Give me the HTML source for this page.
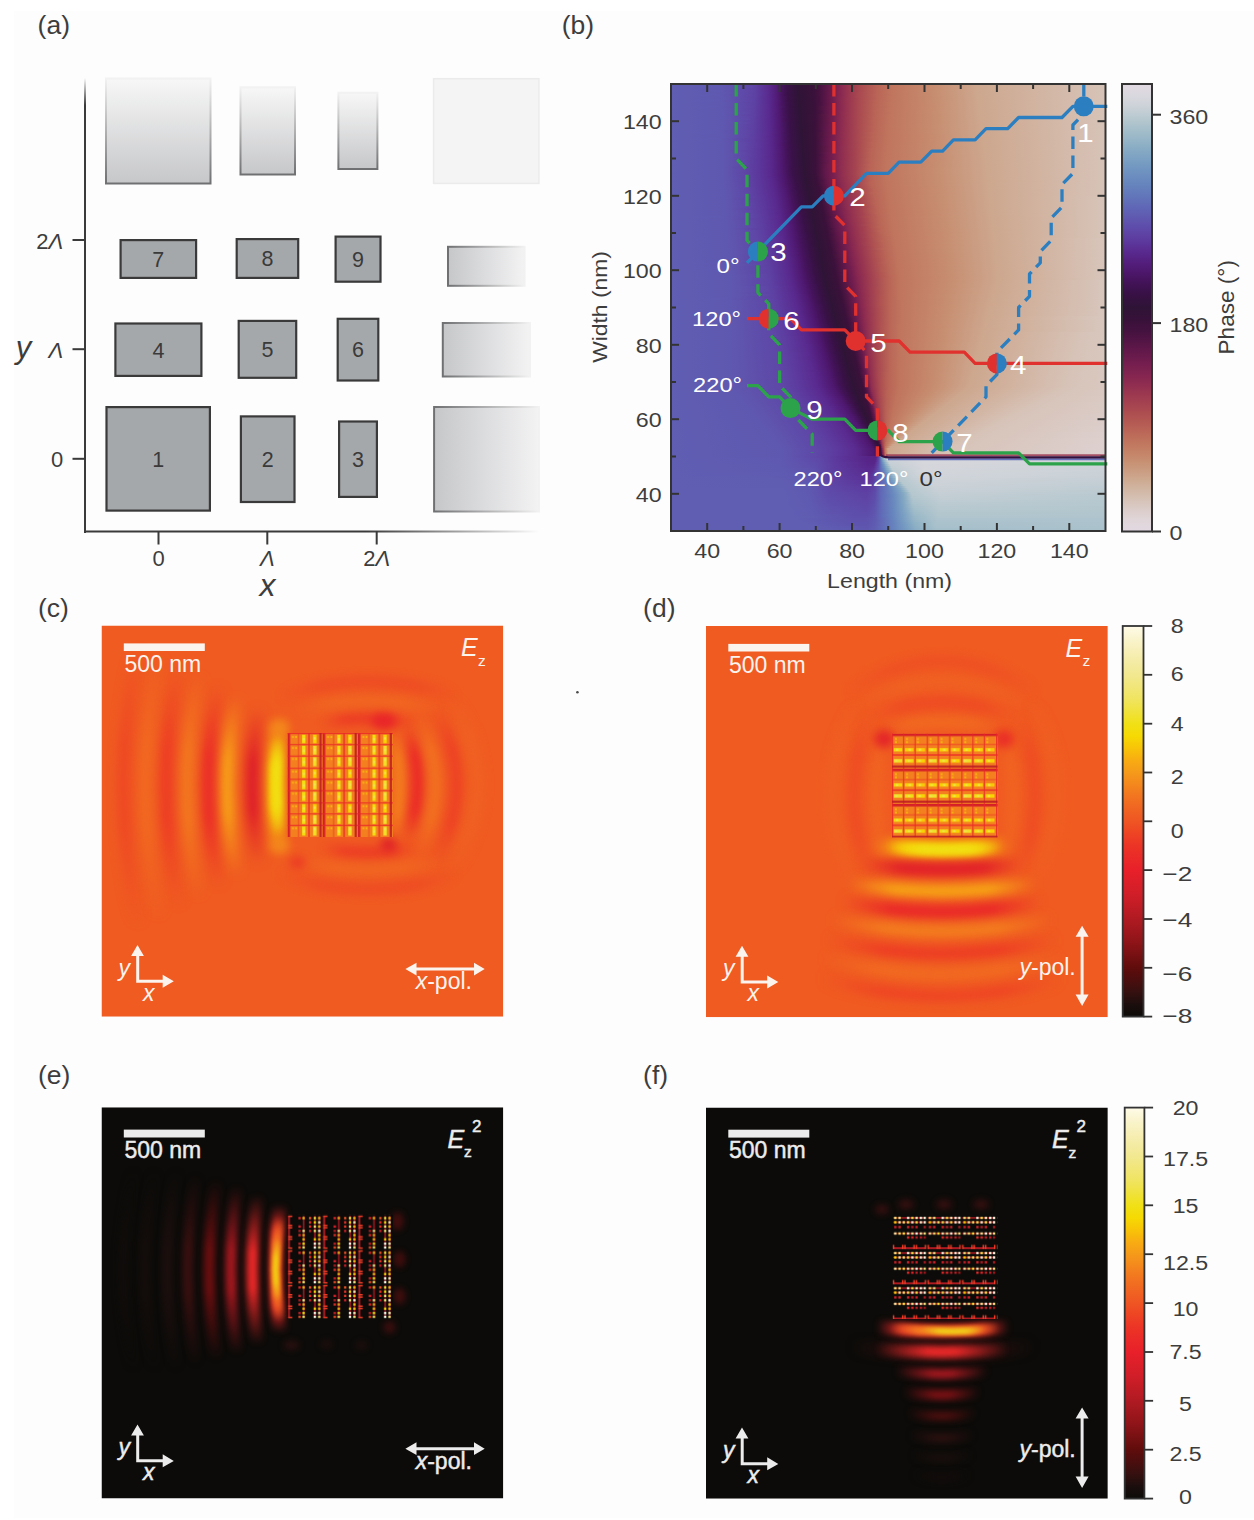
<!DOCTYPE html>
<html><head><meta charset="utf-8"><style>
html,body{margin:0;padding:0;background:#ffffff;}
svg{display:block;position:absolute;left:0;top:0;}
#pg{position:relative;width:1254px;height:1520px;overflow:hidden;background:#fff;}
#bgi{position:absolute;left:14px;top:11px;right:0;bottom:2.5px;background:#fdfdfd;}
#hm{position:absolute;left:671.0px;top:84.0px;width:434.5px;height:447.0px;overflow:hidden;}
#hm i{display:block;height:2px;}
text{font-family:"Liberation Sans",sans-serif;}
</style></head><body><div id="pg"><div id="bgi"></div>
<div id="hm"><i style="background:linear-gradient(90deg,#5f5eb3 0.0%,#5f59b1 11.1%,#5e43a5 19.2%,#5a2b90 22.3%,#531d7a 24.0%,#4c176b 24.9%,#481563 25.2%,#3a1148 26.7%,#2f1436 29.1%,#3a113a 33.0%,#461240 34.2%,#691a4d 36.8%,#8e2c50 39.5%,#983550 40.7%,#a84750 43.0%,#b96356 47.2%,#c0755e 50.9%,#c78c6f 60.2%,#cda78e 70.2%,#d7c3b8 100.0%)"></i><i style="background:linear-gradient(90deg,#5f5eb3 0.0%,#5f59b1 11.1%,#5e46a6 18.8%,#5a2b90 22.3%,#531d7a 24.0%,#4c1669 25.0%,#471461 25.3%,#3b114a 26.5%,#2f1436 29.1%,#3a113a 33.0%,#461240 34.2%,#681a4d 36.7%,#8d2b50 39.4%,#993650 40.8%,#a94950 43.3%,#b96456 47.4%,#c0755e 50.8%,#c78c6f 60.2%,#cda78e 70.3%,#d7c3b8 100.0%)"></i><i style="background:linear-gradient(90deg,#5f5eb3 0.0%,#5f58b0 12.0%,#5d42a4 19.3%,#5a2b90 22.3%,#531d7a 24.0%,#4b1668 25.1%,#47145f 25.4%,#3d114e 26.2%,#381145 27.0%,#2f1436 29.2%,#3a113a 33.0%,#461240 34.2%,#711d4f 37.3%,#8c2a50 39.3%,#9e3b50 41.5%,#a74650 42.8%,#b96356 47.1%,#c0755e 50.8%,#c89073 61.7%,#cda78e 70.3%,#d7c3b8 100.0%)"></i><i style="background:linear-gradient(90deg,#5f5eb3 0.0%,#5f59b1 11.1%,#5e43a5 19.1%,#5a2b90 22.3%,#4e186f 24.8%,#46145e 25.5%,#3a1148 26.8%,#2f1436 29.2%,#3a113a 33.0%,#461240 34.2%,#701c4e 37.2%,#8b2a50 39.2%,#9f3c50 41.6%,#ac4d51 44.0%,#b96456 47.3%,#c0755e 50.7%,#c78e71 60.7%,#cda78e 70.4%,#d7c3b8 100.0%)"></i><i style="background:linear-gradient(90deg,#5f5eb3 0.0%,#5f58b0 12.0%,#5d42a4 19.2%,#5a2d92 22.2%,#4f1972 24.6%,#481563 25.3%,#3a1149 26.7%,#2f1436 29.3%,#3a113a 33.0%,#4e1443 34.8%,#6f1c4e 37.1%,#8a2950 39.1%,#9f3c50 41.6%,#aa4a50 43.4%,#ba6557 47.5%,#c0755e 50.7%,#c78e71 60.7%,#cda78e 70.4%,#d7c3b8 100.0%)"></i><i style="background:linear-gradient(90deg,#5f5eb3 0.0%,#5f59b1 11.1%,#5e43a5 19.0%,#5b3095 21.7%,#58278b 22.8%,#511a75 24.4%,#471461 25.4%,#3e1150 26.2%,#381145 27.1%,#2f1436 29.3%,#3a113a 33.0%,#4e1443 34.8%,#6d1b4e 37.0%,#872750 38.9%,#9b3850 41.0%,#a94850 43.1%,#b96356 47.0%,#c0765f 51.1%,#c78e71 60.7%,#cda78e 70.5%,#d7c3b8 100.0%)"></i><i style="background:linear-gradient(90deg,#5f5eb3 0.0%,#5f58b0 12.0%,#5d41a3 19.3%,#59288d 22.7%,#511b77 24.3%,#47145f 25.5%,#3a1148 26.9%,#2f1436 29.3%,#39113a 32.9%,#44123f 34.1%,#6b1b4d 36.8%,#852650 38.6%,#973450 40.5%,#a74650 42.8%,#b96456 47.2%,#c0755e 50.6%,#c68b6e 59.8%,#cda78e 70.5%,#d7c3b8 100.0%)"></i><i style="background:linear-gradient(90deg,#5f5eb3 0.0%,#5f58b0 12.0%,#5d42a4 19.1%,#59298e 22.6%,#521c79 24.2%,#46145e 25.6%,#3a1149 26.8%,#2f1436 29.4%,#39113a 32.9%,#44123f 34.1%,#691a4d 36.7%,#8e2c50 39.4%,#9c3950 41.1%,#ac4c50 43.8%,#ba6557 47.4%,#c0755e 50.6%,#c78f72 61.3%,#cda78e 70.6%,#d7c3b8 100.0%)"></i><i style="background:linear-gradient(90deg,#5f5eb3 0.0%,#5f59b1 11.1%,#5e43a5 18.9%,#592a8f 22.5%,#4e186f 24.9%,#481563 25.4%,#3e1150 26.4%,#381145 27.2%,#2f1436 29.4%,#39113a 32.9%,#44123f 34.1%,#681a4d 36.6%,#8d2b50 39.3%,#983550 40.6%,#a74650 42.8%,#b96356 46.9%,#c0765f 51.0%,#c78f72 61.3%,#cda78e 70.7%,#d7c3b8 100.0%)"></i><i style="background:linear-gradient(90deg,#5f5eb3 0.0%,#5f58b0 12.0%,#5d41a3 19.2%,#592a8f 22.5%,#4f1972 24.7%,#471461 25.5%,#3a1148 27.0%,#2f1436 29.4%,#3a113a 33.1%,#4b1342 34.6%,#721d4f 37.3%,#8c2a50 39.2%,#9d3a50 41.2%,#a94950 43.2%,#b96456 47.1%,#c0755e 50.5%,#c89073 61.8%,#cda78e 70.7%,#d7c3b8 100.0%)"></i><i style="background:linear-gradient(90deg,#5f5eb3 0.0%,#5f58b0 12.0%,#5d42a4 19.0%,#5a2b90 22.4%,#511a75 24.5%,#47145f 25.6%,#3a1149 26.9%,#2f1436 29.5%,#3a113a 33.1%,#4b1342 34.6%,#701c4e 37.1%,#8a2950 39.0%,#993650 40.7%,#a84750 42.9%,#b96356 46.8%,#c0755e 50.5%,#c78c6f 60.3%,#cda78e 70.8%,#d7c3b8 100.0%)"></i><i style="background:linear-gradient(90deg,#5f5eb3 0.0%,#5f59b1 11.1%,#5e43a5 18.8%,#5a2b90 22.4%,#511b77 24.4%,#3b114a 26.9%,#351140 27.9%,#2f1436 29.5%,#3a113a 33.1%,#6f1c4e 37.0%,#882850 38.9%,#993650 40.7%,#a84750 42.9%,#b96456 47.0%,#c0765f 50.9%,#c78c6f 60.3%,#cda78e 70.8%,#d7c3b8 100.0%)"></i><i style="background:linear-gradient(90deg,#5f5eb3 0.0%,#5f58b0 12.0%,#5d41a3 19.1%,#5a2b90 22.4%,#531d7a 24.2%,#45135c 25.8%,#3a1148 27.1%,#2f1436 29.6%,#3a113a 33.1%,#6d1b4e 36.9%,#872750 38.8%,#9a3750 40.8%,#ac4c50 43.6%,#ba6557 47.2%,#c0755e 50.4%,#c78c6f 60.3%,#cda78e 70.9%,#d7c3b8 100.0%)"></i><i style="background:linear-gradient(90deg,#5f5eb3 0.0%,#5f58b0 12.0%,#5d42a4 18.9%,#5a2b90 22.4%,#4e186f 25.0%,#471461 25.6%,#3a1149 27.0%,#2f1436 29.6%,#3a113a 33.1%,#4a1342 34.5%,#6b1b4d 36.7%,#852650 38.5%,#922f50 39.8%,#a64550 42.6%,#b96356 46.7%,#c0755e 50.4%,#c78e71 60.8%,#cda78e 70.9%,#d7c3b8 100.0%)"></i><i style="background:linear-gradient(90deg,#5f5eb3 0.0%,#5f58b0 12.0%,#5e47a7 17.8%,#5d3ea1 19.4%,#5a2b90 22.4%,#4f1972 24.8%,#47145f 25.7%,#3f1251 26.5%,#381145 27.4%,#2f1436 29.6%,#3a113a 33.0%,#43123e 34.0%,#691a4d 36.6%,#8e2c50 39.3%,#973450 40.4%,#a94850 43.0%,#b96456 46.9%,#c0765f 50.8%,#c78e71 60.8%,#cda78e 71.0%,#d7c3b8 100.0%)"></i><i style="background:linear-gradient(90deg,#5f5eb3 0.0%,#5f58b0 12.0%,#5d40a2 19.2%,#5a2b90 22.4%,#501a74 24.7%,#46145e 25.8%,#3a1148 27.2%,#2f1436 29.7%,#3c113b 33.3%,#741e4f 37.3%,#8e2c50 39.3%,#a03d50 41.6%,#b05351 44.5%,#ba6557 47.1%,#c0755e 50.3%,#c78f72 61.4%,#cda78e 71.0%,#d7c3b8 100.0%)"></i><i style="background:linear-gradient(90deg,#5f5eb3 0.0%,#5f58b0 12.0%,#5e43a5 18.5%,#5a2b90 22.4%,#511a75 24.6%,#3a1149 27.1%,#2f1436 29.7%,#3c113b 33.3%,#721d4f 37.2%,#8c2a50 39.1%,#983550 40.5%,#a74650 42.7%,#b96356 46.6%,#c0755e 50.3%,#c78f72 61.4%,#cda78e 71.1%,#d7c3b8 100.0%)"></i><i style="background:linear-gradient(90deg,#5f5eb3 0.0%,#5f58b0 12.0%,#5e47a7 17.7%,#5d3ea1 19.3%,#59288d 22.8%,#4d176d 25.2%,#471461 25.7%,#3f1251 26.6%,#381145 27.5%,#2f1436 29.7%,#3c113b 33.3%,#701c4e 37.0%,#8a2950 38.9%,#983550 40.5%,#ab4b50 43.4%,#b96456 46.8%,#c0755e 50.2%,#c78f72 61.4%,#cda78e 71.1%,#d7c3b8 100.0%)"></i><i style="background:linear-gradient(90deg,#5f5eb3 0.0%,#5f58b0 12.0%,#5d40a2 19.1%,#59288d 22.8%,#4e186f 25.1%,#47145f 25.8%,#3a1148 27.3%,#2f1436 29.8%,#3c113b 33.3%,#6f1c4e 36.9%,#882850 38.8%,#993650 40.6%,#a94950 43.1%,#b96356 46.5%,#c0755e 50.2%,#c78f72 61.4%,#cda78e 71.2%,#d7c3b8 100.0%)"></i><i style="background:linear-gradient(90deg,#5f5eb3 0.0%,#5f58b0 12.0%,#5e47a7 17.6%,#5d40a2 19.0%,#59298e 22.7%,#4f1972 24.9%,#3a1149 27.2%,#2f1436 29.8%,#3a113a 33.1%,#6d1b4e 36.8%,#872750 38.6%,#953250 40.1%,#a94950 43.1%,#b96456 46.7%,#c0755e 50.2%,#c78f72 61.4%,#cda78e 71.2%,#d7c3b8 100.0%)"></i><i style="background:linear-gradient(90deg,#5f5eb3 0.0%,#5f58b0 12.0%,#5d40a2 19.0%,#59298e 22.7%,#501a74 24.8%,#3b114a 27.1%,#2f1436 29.9%,#3a113a 33.1%,#6b1b4d 36.6%,#852650 38.4%,#953250 40.1%,#ac4c50 43.5%,#ba6557 46.9%,#c0755e 50.1%,#c78e71 60.8%,#cda78e 71.4%,#d7c3b8 100.0%)"></i><i style="background:linear-gradient(90deg,#5f5eb3 0.0%,#5f58b0 12.0%,#5d40a2 19.0%,#592a8f 22.6%,#511a75 24.7%,#3a1149 27.3%,#2f1436 29.9%,#3a113a 33.1%,#63184b 35.9%,#751e4f 37.3%,#8e2c50 39.2%,#963350 40.2%,#a84750 42.8%,#b96356 46.4%,#c0755e 50.1%,#c78e71 60.8%,#cda78e 71.4%,#d7c3b8 100.0%)"></i><i style="background:linear-gradient(90deg,#5f5eb3 0.0%,#5f58b0 12.0%,#5d40a2 18.9%,#592a8f 22.6%,#4d176d 25.3%,#3a1149 27.3%,#2f1436 29.9%,#3a113a 33.1%,#61184b 35.8%,#741e4f 37.2%,#8d2b50 39.1%,#963350 40.2%,#aa4a50 43.2%,#b96456 46.6%,#c0755e 50.1%,#c6896c 58.9%,#cda78e 71.5%,#d7c3b8 100.0%)"></i><i style="background:linear-gradient(90deg,#5f5eb3 0.0%,#5f59b1 11.1%,#5e47a7 17.4%,#5d40a2 18.9%,#592a8f 22.6%,#4e186f 25.2%,#3b114a 27.2%,#2f1436 30.0%,#3a113a 33.1%,#481341 34.3%,#60184a 35.7%,#721d4f 37.1%,#8c2a50 39.0%,#973450 40.3%,#af5251 44.2%,#ba6557 46.8%,#c0755e 50.0%,#c78e71 60.9%,#cda78e 71.6%,#d7c3b8 100.0%)"></i><i style="background:linear-gradient(90deg,#5f5eb3 0.0%,#5f59b1 11.1%,#5e47a7 17.4%,#5d40a2 18.9%,#5a2b90 22.5%,#4f1970 25.1%,#44135a 26.2%,#3a1148 27.5%,#2f1436 30.0%,#3a113a 33.1%,#701c4e 36.9%,#902e50 39.4%,#a54450 42.4%,#b96356 46.2%,#c0755e 50.0%,#c78e71 60.9%,#cda78e 71.6%,#d7c3b8 100.0%)"></i><i style="background:linear-gradient(90deg,#5f5eb3 0.0%,#5f58b0 11.9%,#5e47a7 17.3%,#5d3da1 19.3%,#5a2b90 22.5%,#4f1972 25.0%,#3a1149 27.4%,#2f1436 30.0%,#3a113a 33.1%,#6f1c4e 36.8%,#882850 38.6%,#943150 39.9%,#a94850 42.9%,#b96456 46.5%,#c0755e 50.0%,#c78c6f 60.4%,#cda78e 71.7%,#d7c3b8 100.0%)"></i><i style="background:linear-gradient(90deg,#5f5eb3 0.0%,#5f58b0 11.9%,#5e47a7 17.3%,#5d3a9e 19.9%,#58278b 23.0%,#501a74 24.9%,#47145f 26.0%,#3b114a 27.3%,#2f1436 30.1%,#3a113a 33.2%,#6d1b4e 36.7%,#912f50 39.5%,#a94850 42.9%,#b96356 46.1%,#c0755e 49.9%,#c78c6f 60.4%,#cda78e 71.7%,#d7c3b8 100.0%)"></i><i style="background:linear-gradient(90deg,#5f5eb3 0.0%,#5f59b1 11.1%,#5d40a2 18.8%,#5a2b90 22.5%,#4d176d 25.4%,#45135c 26.2%,#3a1148 27.6%,#2f1436 30.1%,#3a113a 33.2%,#63184b 35.8%,#761f4f 37.3%,#8a2950 38.8%,#993650 40.5%,#a94950 43.0%,#b96456 46.4%,#c0755e 49.9%,#c78c6f 60.4%,#cda78e 71.8%,#d7c3b8 100.0%)"></i><i style="background:linear-gradient(90deg,#5f5eb3 0.0%,#5f58b0 11.9%,#5d3ea1 19.0%,#59288d 22.9%,#4e186f 25.3%,#3a1149 27.5%,#2f1436 30.1%,#3a113a 33.2%,#63184b 35.8%,#751e4f 37.2%,#8e2c50 39.1%,#993650 40.5%,#af5251 44.1%,#ba6557 46.6%,#c0755e 49.9%,#c78c6f 60.4%,#cda78e 71.8%,#d7c3b8 100.0%)"></i><i style="background:linear-gradient(90deg,#5f5eb3 0.0%,#5f58b0 11.9%,#5e48a8 16.8%,#5d3ca0 19.4%,#5a2b90 22.5%,#521c79 24.6%,#481563 25.9%,#3b114a 27.4%,#2f1436 30.2%,#3a113a 33.2%,#61184b 35.7%,#741e4f 37.1%,#8d2b50 39.0%,#963350 40.1%,#ac4d51 43.6%,#b96356 46.0%,#c0755e 49.8%,#c68b6e 59.9%,#cda78e 71.9%,#d7c3b8 100.0%)"></i><i style="background:linear-gradient(90deg,#5f5eb3 0.0%,#5f58b0 11.9%,#5e47a7 17.1%,#5d3b9f 19.6%,#59288d 22.9%,#4f1972 25.1%,#47145f 26.1%,#3a1148 27.7%,#2f1436 30.2%,#3a113a 33.2%,#61184b 35.7%,#721d4f 37.0%,#8c2a50 38.9%,#933050 39.7%,#aa4a50 43.1%,#b96456 46.2%,#c0755e 49.8%,#c89073 62.1%,#cda78e 71.9%,#d7c3b8 100.0%)"></i><i style="background:linear-gradient(90deg,#5f5eb3 0.0%,#5f58b0 11.9%,#5e48a8 16.7%,#5d3a9e 19.8%,#59298e 22.8%,#4d176d 25.5%,#45135c 26.4%,#3a1149 27.6%,#2f1436 30.3%,#3a113a 33.2%,#701c4e 36.8%,#902e50 39.3%,#ae5051 43.8%,#ba6557 46.5%,#c0755e 49.7%,#c78f72 61.6%,#cda78e 72.0%,#d7c3b8 100.0%)"></i><i style="background:linear-gradient(90deg,#5f5eb3 0.0%,#5f58b0 11.9%,#5e47a7 17.0%,#5c389d 20.0%,#59298e 22.8%,#4e186f 25.4%,#431359 26.6%,#3b114a 27.5%,#2f1436 30.3%,#3a113a 33.2%,#6f1c4e 36.7%,#902e50 39.3%,#a74650 42.7%,#b96356 45.9%,#c0755e 49.7%,#c78f72 61.6%,#cda78e 72.0%,#d7c3b8 100.0%)"></i><i style="background:linear-gradient(90deg,#5f5eb3 0.0%,#5f58b0 11.9%,#5d3ca0 19.3%,#59298e 22.8%,#4e186f 25.4%,#411256 26.8%,#3a1148 27.8%,#2f1436 30.3%,#3a113a 33.2%,#6d1b4e 36.6%,#912f50 39.4%,#ac4c50 43.4%,#b96456 46.1%,#c0755e 49.7%,#c78e71 61.0%,#cda78e 72.1%,#d7c3b8 100.0%)"></i><i style="background:linear-gradient(90deg,#5f5eb3 0.0%,#5f58b0 11.9%,#5e46a6 17.2%,#5c379c 20.2%,#592a8f 22.7%,#4f1970 25.3%,#47145f 26.2%,#3a1149 27.7%,#2f1436 30.4%,#3a113a 33.2%,#64194b 35.8%,#781f4f 37.3%,#852650 38.2%,#953250 39.9%,#a84750 42.8%,#b96356 45.8%,#c0755e 49.6%,#c78e71 61.0%,#cda78e 72.1%,#d7c3b8 100.0%)"></i><i style="background:linear-gradient(90deg,#5f5eb3 0.0%,#5f58b0 11.9%,#5e47a7 16.9%,#5d3a9e 19.7%,#592a8f 22.7%,#4f1972 25.2%,#45135c 26.5%,#3b114a 27.6%,#2f1436 30.4%,#3a113a 33.2%,#4a1342 34.4%,#63184b 35.7%,#751e4f 37.1%,#922f50 39.5%,#a54350 42.3%,#b96456 46.0%,#c0755e 49.6%,#c78c6f 60.5%,#cda78e 72.2%,#d7c3b8 100.0%)"></i><i style="background:linear-gradient(90deg,#5f5eb3 0.0%,#5f58b0 11.9%,#5e48a8 16.5%,#5d3a9e 19.7%,#58278b 23.1%,#4d176d 25.6%,#421257 26.8%,#3a1148 27.9%,#2f1436 30.4%,#3a113a 33.2%,#5d1749 35.4%,#741e4f 37.0%,#922f50 39.5%,#a94950 43.0%,#b96456 46.0%,#c0755e 49.6%,#c78c6f 60.5%,#cda78e 72.2%,#d7c3b8 100.0%)"></i><i style="background:linear-gradient(90deg,#5f5eb3 0.0%,#5f58b0 11.9%,#5e47a7 16.8%,#5c389d 19.9%,#592a8f 22.7%,#4e186f 25.5%,#471461 26.2%,#3a1149 27.8%,#2f1436 30.5%,#3b113b 33.3%,#61184b 35.6%,#721d4f 36.9%,#922f50 39.5%,#a54450 42.4%,#b96356 45.7%,#c0755e 49.5%,#c78c6f 60.5%,#cda78e 72.3%,#d7c3b8 100.0%)"></i><i style="background:linear-gradient(90deg,#5f5eb3 0.0%,#5f58b0 11.9%,#5e47a7 16.7%,#5c389d 19.9%,#5a2b90 22.6%,#4f1970 25.4%,#47145f 26.4%,#3b114a 27.7%,#2f1436 30.5%,#3b113b 33.3%,#5c1749 35.3%,#701c4e 36.7%,#902e50 39.2%,#a54450 42.4%,#b96456 45.9%,#c0755e 49.5%,#c78c6f 60.5%,#cda78e 72.4%,#d7c3b8 100.0%)"></i><i style="background:linear-gradient(90deg,#5f5eb3 0.0%,#5f58b0 11.9%,#5e46a6 17.0%,#5c379c 20.1%,#59288d 23.0%,#4f1970 25.4%,#44135a 26.7%,#3a1148 28.0%,#2f1436 30.6%,#3b113b 33.3%,#6f1c4e 36.6%,#902e50 39.2%,#a54450 42.4%,#ba6557 46.1%,#c0755e 49.5%,#c78f72 61.7%,#cda78e 72.4%,#d7c3b8 100.0%)"></i><i style="background:linear-gradient(90deg,#5f5eb3 0.0%,#5f58b0 11.9%,#5e47a7 16.7%,#5c379c 20.1%,#59288d 23.0%,#4f1972 25.3%,#47145f 26.5%,#3a1149 27.9%,#2f1436 30.6%,#3b113b 33.3%,#64194b 35.7%,#792050 37.3%,#862750 38.2%,#943150 39.7%,#a64550 42.5%,#b96356 45.6%,#c0755e 49.4%,#c68b6e 60.0%,#cda78e 72.5%,#d7c3b8 100.0%)"></i><i style="background:linear-gradient(90deg,#5f5eb3 0.0%,#5f58b0 11.9%,#5d3a9e 19.6%,#5a2b90 22.6%,#501a74 25.2%,#45135c 26.7%,#3b114a 27.8%,#2f1436 30.6%,#3b113b 33.3%,#64194b 35.7%,#781f4f 37.2%,#912f50 39.3%,#a64550 42.5%,#b96456 45.8%,#c0755e 49.4%,#c68b6e 60.0%,#cda78e 72.5%,#d7c3b8 100.0%)"></i><i style="background:linear-gradient(90deg,#5f5eb3 0.0%,#5f58b0 11.9%,#5e43a5 17.5%,#5c369b 20.3%,#59288d 23.0%,#4e186f 25.6%,#47145f 26.5%,#3c114b 27.7%,#2f1436 30.7%,#3b113b 33.3%,#63184b 35.6%,#751e4f 37.0%,#8e2c50 38.9%,#a64550 42.5%,#b96356 45.5%,#c0755e 49.4%,#c78e71 61.1%,#cda78e 72.6%,#d7c3b8 100.0%)"></i><i style="background:linear-gradient(90deg,#5f5eb3 0.0%,#5f58b0 11.9%,#5e45a6 17.1%,#5c369b 20.3%,#59298e 22.9%,#4f1970 25.5%,#44135a 26.8%,#3a1149 28.0%,#2f1436 30.7%,#3b113b 33.3%,#63184b 35.6%,#741e4f 36.9%,#922f50 39.4%,#a64550 42.5%,#b96456 45.7%,#c0755e 49.3%,#c78e71 61.1%,#cda78e 72.6%,#d7c3b8 100.0%)"></i><i style="background:linear-gradient(90deg,#5f5eb3 0.0%,#5f58b0 11.9%,#5e43a5 17.4%,#5c359a 20.5%,#59298e 22.9%,#4f1970 25.5%,#47145f 26.6%,#3b114a 27.9%,#2f1436 30.7%,#3b113b 33.3%,#61184b 35.5%,#721d4f 36.8%,#922f50 39.4%,#a74650 42.6%,#b96456 45.7%,#c0755e 49.3%,#c78e71 61.1%,#cda78e 72.7%,#d7c3b8 100.0%)"></i><i style="background:linear-gradient(90deg,#5f5eb3 0.0%,#5f58b0 11.9%,#5e43a5 17.5%,#5c359a 20.6%,#5a2b90 22.7%,#572588 23.5%,#4e186f 25.7%,#431359 27.0%,#3a1149 28.1%,#2f1436 30.8%,#3a113a 33.3%,#65194c 35.8%,#7a2050 37.4%,#902e50 39.2%,#a54450 42.4%,#b96356 45.5%,#c0755e 49.3%,#c78f72 61.8%,#cda78e 72.7%,#d7c3b8 100.0%)"></i><i style="background:linear-gradient(90deg,#5f5eb3 0.0%,#5f58b0 12.0%,#5e43a5 17.6%,#5c369b 20.4%,#58278b 23.3%,#4e186f 25.8%,#45135c 26.9%,#3a1149 28.2%,#2f1436 30.9%,#3a113a 33.4%,#64194b 35.8%,#792050 37.4%,#912f50 39.4%,#a54450 42.5%,#b96456 45.8%,#c0755e 49.4%,#c78e71 61.3%,#cda78e 72.8%,#d7c3b8 100.0%)"></i><i style="background:linear-gradient(90deg,#5f5eb3 0.0%,#5f58b0 12.0%,#5e45a6 17.3%,#5c369b 20.5%,#592a8f 23.0%,#4d176d 26.0%,#47145f 26.8%,#3a1149 28.3%,#2f1436 31.0%,#3a113a 33.5%,#64194b 35.9%,#781f4f 37.4%,#912f50 39.5%,#a64550 42.7%,#b96456 45.9%,#c0755e 49.5%,#c78f72 61.9%,#cda78e 72.8%,#d7c3b8 100.0%)"></i><i style="background:linear-gradient(90deg,#5f5eb3 0.0%,#5f58b0 12.0%,#5e46a6 17.1%,#5c369b 20.6%,#59298e 23.2%,#4d176d 26.1%,#47145f 26.9%,#3a1148 28.5%,#2f1436 31.1%,#3a113a 33.5%,#4e1443 34.9%,#64194b 36.0%,#761f4f 37.4%,#8e2c50 39.2%,#953250 40.1%,#a74650 42.9%,#ba6557 46.2%,#c0755e 49.5%,#c78e71 61.4%,#cda68c 72.2%,#d7c3b8 100.0%)"></i><i style="background:linear-gradient(90deg,#5f5eb3 0.0%,#5f58b0 12.1%,#5e46a6 17.2%,#5c369b 20.7%,#59298e 23.3%,#4f1970 25.9%,#47145f 27.0%,#3a1148 28.6%,#2f1436 31.1%,#3a113a 33.6%,#64194b 36.1%,#751e4f 37.4%,#922f50 39.8%,#a54350 42.6%,#b96356 45.8%,#c0755e 49.6%,#c78f72 62.0%,#cda78e 72.9%,#d7c3b8 100.0%)"></i><i style="background:linear-gradient(90deg,#5f5eb3 0.0%,#5f58b0 12.1%,#5e46a6 17.3%,#5c359a 21.0%,#59288d 23.5%,#4f1970 26.0%,#47145f 27.1%,#3a1148 28.7%,#2f1436 31.2%,#3a113a 33.8%,#63184b 36.1%,#751e4f 37.5%,#922f50 39.9%,#a54450 42.8%,#b96356 45.9%,#c0755e 49.6%,#c78e71 61.5%,#cda78e 72.9%,#d7c3b8 100.0%)"></i><i style="background:linear-gradient(90deg,#5f5eb3 0.0%,#5f58b0 12.1%,#5e47a7 17.1%,#5c379c 20.6%,#59288d 23.6%,#4e186f 26.2%,#47145f 27.2%,#391146 29.0%,#2f1436 31.4%,#3b113b 34.0%,#63184b 36.2%,#741e4f 37.5%,#8b2a50 39.2%,#933050 40.1%,#a64550 43.0%,#b96456 46.2%,#c0755e 49.7%,#c68b6e 60.4%,#cda78e 73.0%,#d7c3b8 100.0%)"></i><i style="background:linear-gradient(90deg,#5f5eb3 0.0%,#5f58b0 12.2%,#5e47a7 17.2%,#5c379c 20.7%,#592a8f 23.4%,#4e186f 26.4%,#47145f 27.3%,#3b114a 28.6%,#2f1436 31.5%,#3b113b 34.1%,#63184b 36.4%,#721d4f 37.5%,#902e50 39.8%,#a64550 43.1%,#ba6557 46.6%,#c0755e 49.8%,#c78c6f 61.0%,#cda78e 73.0%,#d7c3b8 100.0%)"></i><i style="background:linear-gradient(90deg,#5f5eb3 0.0%,#5f58b0 12.2%,#5e47a7 17.3%,#5d3a9e 20.3%,#592a8f 23.5%,#4d176d 26.6%,#411256 27.9%,#361142 29.7%,#2f1436 31.6%,#3b113b 34.2%,#63184b 36.5%,#711d4f 37.5%,#902e50 39.9%,#a54350 42.9%,#ba6557 46.7%,#c0755e 49.8%,#c78e71 61.7%,#cda78e 73.1%,#d7c3b8 100.0%)"></i><i style="background:linear-gradient(90deg,#5f5eb3 0.0%,#5f58b0 12.2%,#5e47a7 17.4%,#5c369b 21.1%,#59298e 23.8%,#4d176d 26.7%,#46145e 27.5%,#381145 29.4%,#2f1436 31.7%,#3a113a 34.2%,#61184b 36.5%,#701c4e 37.5%,#912f50 40.1%,#a54350 43.0%,#b96356 46.2%,#c0755e 49.9%,#c78c6f 61.1%,#cda78e 73.1%,#d7c3b8 100.0%)"></i><i style="background:linear-gradient(90deg,#5f5eb3 0.0%,#5f58b0 12.3%,#5e47a7 17.5%,#5c369b 21.2%,#59288d 24.0%,#4d176d 26.8%,#47145f 27.5%,#3b114a 29.0%,#2f1436 31.7%,#3a113a 34.3%,#61184b 36.6%,#701c4e 37.6%,#912f50 40.2%,#a54450 43.2%,#b96456 46.6%,#c0755e 50.0%,#c78e71 61.8%,#cda78e 73.2%,#d7c3b8 100.0%)"></i><i style="background:linear-gradient(90deg,#5f5eb3 0.0%,#5f58b0 12.3%,#5e43a5 18.5%,#5c369b 21.4%,#59288d 24.1%,#4f1970 26.6%,#47145f 27.6%,#3a1149 29.2%,#2f1436 31.8%,#3a113a 34.4%,#61184b 36.7%,#792050 38.3%,#922f50 40.4%,#a64550 43.4%,#b96456 46.7%,#c0755e 50.0%,#c78f72 62.4%,#cda78e 73.2%,#d7c4b9 100.0%)"></i><i style="background:linear-gradient(90deg,#5f5eb3 0.0%,#5f58b0 12.3%,#5d3b9f 20.4%,#592a8f 23.9%,#4f1970 26.7%,#44135a 28.0%,#3a1149 29.3%,#2f1436 31.9%,#3a113a 34.4%,#471340 35.3%,#65194c 37.0%,#781f4f 38.3%,#8d2b50 39.9%,#963350 41.0%,#a74650 43.6%,#ba6557 47.0%,#c0755e 50.1%,#c78e71 61.9%,#cda78e 73.3%,#d7c4b9 100.0%)"></i><i style="background:linear-gradient(90deg,#5f5eb3 0.0%,#5f58b0 12.4%,#5e48a8 17.4%,#5c379c 21.2%,#592a8f 24.0%,#4e186f 26.9%,#47145f 27.8%,#3a1149 29.4%,#2f1436 32.0%,#3a113a 34.5%,#4a1342 35.6%,#64194b 37.0%,#761f4f 38.3%,#933050 40.7%,#a54350 43.3%,#b35953 45.5%,#ba6657 47.3%,#c0755e 50.1%,#c78f72 62.5%,#cda78e 73.3%,#d7c4b9 100.0%)"></i><i style="background:linear-gradient(90deg,#5f5eb3 0.0%,#5f58b0 12.4%,#5e47a7 17.8%,#5c379c 21.4%,#59298e 24.2%,#4e186f 27.0%,#47145f 27.9%,#3a1148 29.6%,#2f1436 32.1%,#3a113a 34.6%,#64194b 37.1%,#761f4f 38.4%,#8f2d50 40.3%,#a54350 43.4%,#b96356 46.7%,#c0755e 50.2%,#c78e71 62.0%,#cda78e 73.4%,#d7c4b9 100.0%)"></i><i style="background:linear-gradient(90deg,#5f5eb3 0.0%,#5f58b0 12.4%,#5e47a7 17.9%,#5c379c 21.5%,#59298e 24.3%,#4d176d 27.2%,#47145f 28.0%,#3a1148 29.7%,#2f1436 32.2%,#3b113b 34.8%,#64194b 37.2%,#751e4f 38.4%,#902e50 40.5%,#a54450 43.6%,#b96456 47.0%,#c0755e 50.3%,#c78f72 62.6%,#cda78e 73.4%,#d7c4b9 100.0%)"></i><i style="background:linear-gradient(90deg,#5f5eb3 0.0%,#5f58b0 12.5%,#5e47a7 18.0%,#5d3a9e 21.0%,#5a2b90 24.1%,#4f1972 26.9%,#45135c 28.3%,#3a1148 29.8%,#2f1436 32.2%,#3b113b 34.9%,#64194b 37.3%,#741e4f 38.4%,#902e50 40.6%,#a64550 43.9%,#ba6557 47.3%,#c0755e 50.3%,#c78e71 62.1%,#cda78e 73.5%,#d7c4b9 100.0%)"></i><i style="background:linear-gradient(90deg,#5f5eb3 0.0%,#5f58b0 12.5%,#5d3ca0 20.6%,#59288d 24.6%,#4f1970 27.1%,#431359 28.5%,#391146 30.0%,#2f1436 32.3%,#3b113b 35.0%,#63184b 37.3%,#721d4f 38.4%,#912f50 40.8%,#a44250 43.5%,#b15552 45.5%,#ba6657 47.6%,#c0755e 50.4%,#c68b6e 61.0%,#cda78e 73.5%,#d7c4b9 100.0%)"></i><i style="background:linear-gradient(90deg,#5f5eb3 0.0%,#5f58b0 12.5%,#5e47a7 18.2%,#5c389d 21.5%,#592a8f 24.4%,#4f1970 27.2%,#47145f 28.2%,#391146 30.1%,#2f1436 32.4%,#3a113a 35.0%,#63184b 37.4%,#721d4f 38.5%,#872750 40.0%,#963350 41.6%,#a54350 43.8%,#b35953 45.9%,#bb6857 47.9%,#c0755e 50.5%,#c78c6f 61.7%,#cda78e 73.5%,#d7c4b9 100.0%)"></i><i style="background:linear-gradient(90deg,#5f5eb3 0.0%,#5f58b0 12.6%,#5e47a7 18.3%,#5c389d 21.6%,#58278b 24.9%,#4e186f 27.4%,#47145f 28.3%,#3b114a 29.8%,#2f1436 32.5%,#3a113a 35.1%,#63184b 37.5%,#711d4f 38.5%,#862750 40.0%,#922f50 41.1%,#a54450 44.0%,#b96356 47.1%,#c0755e 50.5%,#c68b6e 61.1%,#cda78e 73.6%,#d7c4b9 100.0%)"></i><i style="background:linear-gradient(90deg,#5f5eb3 0.0%,#5f58b0 12.6%,#5e46a6 18.8%,#5d3b9f 21.1%,#59298e 24.7%,#4e186f 27.5%,#44135a 28.7%,#381145 30.4%,#2f1436 32.6%,#3a113a 35.2%,#701c4e 38.5%,#852650 40.0%,#933050 41.4%,#a64550 44.2%,#ba6557 47.6%,#c0755e 50.6%,#c78c6f 61.8%,#cda78e 73.6%,#d7c4b9 100.0%)"></i><i style="background:linear-gradient(90deg,#5f5eb3 0.0%,#5f59b1 11.9%,#5e46a6 18.9%,#5d3da1 20.7%,#5a2b90 24.5%,#4f1972 27.3%,#45135c 28.7%,#371144 30.6%,#2f1436 32.7%,#3a113a 35.2%,#4f1444 36.7%,#61184b 37.6%,#792050 39.3%,#8d2b50 40.7%,#9c3950 42.6%,#b05351 45.6%,#ba6657 47.9%,#c0755e 50.6%,#c78e71 62.4%,#cda78e 73.8%,#d7c4b9 100.0%)"></i><i style="background:linear-gradient(90deg,#5f5eb3 0.0%,#5f58b0 12.7%,#5d3da1 20.8%,#59288d 25.0%,#4d176d 27.8%,#431359 29.1%,#3a1149 30.2%,#2f1436 32.7%,#3a113a 35.3%,#61184b 37.7%,#781f4f 39.3%,#8c2a50 40.7%,#983550 42.2%,#a94850 44.7%,#b25652 46.0%,#bb6857 48.2%,#c0755e 50.7%,#c78c6f 61.9%,#cda78e 73.8%,#d7c4b9 100.0%)"></i><i style="background:linear-gradient(90deg,#5f5eb3 0.0%,#5f58b0 12.7%,#5e47a7 18.6%,#5d3a9e 21.7%,#592a8f 24.8%,#4f1970 27.6%,#44135a 29.1%,#3a1149 30.3%,#2f1436 32.8%,#3a113a 35.4%,#61184b 37.8%,#761f4f 39.3%,#8b2a50 40.7%,#993650 42.4%,#a54350 44.2%,#b45a53 46.5%,#bb6857 48.3%,#c0755e 50.8%,#c78e71 62.5%,#cda78e 73.9%,#d7c4b9 100.0%)"></i><i style="background:linear-gradient(90deg,#5f5eb3 0.0%,#5f58b0 12.7%,#5e47a7 18.8%,#5d3ca0 21.2%,#592a8f 24.9%,#511a75 27.3%,#481563 28.5%,#3a1149 30.4%,#2f1436 32.9%,#3b113b 35.6%,#65194c 38.1%,#761f4f 39.4%,#912f50 41.5%,#a54450 44.4%,#b96456 47.7%,#c0755e 50.8%,#c78f72 63.1%,#cda78e 73.9%,#d7c4b9 100.0%)"></i><i style="background:linear-gradient(90deg,#5f5eb3 0.0%,#5f58b0 12.8%,#5e47a7 18.9%,#5d3ca0 21.4%,#59298e 25.1%,#4e186f 27.9%,#46145e 29.0%,#3a1148 30.6%,#2f1436 33.0%,#3b113b 35.7%,#60184a 37.9%,#751e4f 39.4%,#882850 40.7%,#963350 42.2%,#af5151 45.7%,#ba6657 48.2%,#c0755e 50.9%,#c78e71 62.6%,#cda78e 74.0%,#d7c4b9 100.0%)"></i><i style="background:linear-gradient(90deg,#5f5eb3 0.0%,#5f58b0 12.8%,#5e47a7 19.0%,#5c389d 22.2%,#59298e 25.2%,#4e186f 28.0%,#47145f 29.0%,#3a1148 30.7%,#2f1436 33.1%,#3b113b 35.8%,#64194b 38.2%,#741e4f 39.4%,#922f50 41.8%,#a74650 44.8%,#b15452 46.1%,#b86255 47.5%,#bb6857 48.5%,#c0755e 51.0%,#c78f72 63.2%,#cda78e 74.0%,#d7c4b9 100.0%)"></i><i style="background:linear-gradient(90deg,#5f5eb3 0.0%,#5f58b0 12.8%,#5d3ea1 21.0%,#5a2b90 25.0%,#4f1972 27.8%,#45135c 29.3%,#391146 30.9%,#2f1436 33.2%,#3a113a 35.8%,#491341 36.9%,#64194b 38.3%,#741e4f 39.5%,#872750 40.8%,#973450 42.5%,#a44250 44.4%,#b25652 46.5%,#bb6857 48.6%,#c0755e 51.0%,#c89073 63.9%,#cda78e 74.1%,#d7c4b9 100.0%)"></i><i style="background:linear-gradient(90deg,#5f5eb3 0.0%,#5f58b0 12.9%,#5e47a7 19.2%,#5d3b9f 21.9%,#59288d 25.5%,#4d176d 28.3%,#431359 29.6%,#391146 31.0%,#2f1436 33.2%,#3a113a 35.9%,#64194b 38.4%,#721d4f 39.5%,#8e2c50 41.5%,#a54350 44.6%,#b96356 47.8%,#c0755e 51.1%,#c78f72 63.3%,#cda78e 74.1%,#d7c4b9 100.0%)"></i><i style="background:linear-gradient(90deg,#5f5eb3 0.0%,#5f58b0 12.9%,#5e47a7 19.3%,#5d3da1 21.5%,#592a8f 25.3%,#4d176d 28.4%,#44135a 29.6%,#381145 31.2%,#2f1436 33.3%,#3a113a 36.0%,#5f174a 38.2%,#711d4f 39.5%,#8d2b50 41.5%,#943150 42.3%,#ad4e51 45.9%,#ba6557 48.3%,#c0755e 51.2%,#c78c6f 62.3%,#cda78e 74.1%,#d7c4b9 100.0%)"></i><i style="background:linear-gradient(90deg,#5f5eb3 0.0%,#5f58b0 12.9%,#5e46a6 19.7%,#5d3da1 21.6%,#58278b 25.8%,#4f1970 28.2%,#431359 29.8%,#381145 31.4%,#2f1436 33.4%,#3a113a 36.0%,#481341 37.1%,#63184b 38.5%,#711d4f 39.6%,#902e50 41.9%,#a24050 44.4%,#af5251 46.2%,#bb6857 48.9%,#c0755e 51.2%,#c78f72 63.4%,#cda78e 74.2%,#d7c4b9 100.0%)"></i><i style="background:linear-gradient(90deg,#5f5eb3 0.0%,#5f58b0 13.0%,#5e46a6 19.8%,#5d3a9e 22.4%,#59298e 25.6%,#521c79 27.6%,#491564 29.1%,#371144 31.6%,#2f1436 33.5%,#3a113a 36.1%,#701c4e 39.6%,#8b2a50 41.5%,#953250 42.6%,#b15452 46.6%,#ba6657 48.8%,#c0755e 51.4%,#c78c6f 62.4%,#cda78e 74.2%,#d7c4b9 100.0%)"></i><i style="background:linear-gradient(90deg,#5f5eb3 0.0%,#5f58b0 13.0%,#5e46a6 19.9%,#5d3ca0 22.0%,#5a2b90 25.4%,#521c79 27.7%,#471461 29.4%,#3b114a 31.0%,#2f1436 33.6%,#3a113a 36.2%,#63184b 38.8%,#781f4f 40.2%,#8b2a50 41.6%,#963350 42.8%,#a44250 44.8%,#b35752 47.0%,#ba6657 48.9%,#c0755e 51.4%,#c78e71 63.0%,#cda78e 74.3%,#d8c5bb 100.0%)"></i><i style="background:linear-gradient(90deg,#5f5eb3 0.0%,#5f58b0 13.0%,#5e46a6 20.0%,#5d3ca0 22.1%,#59288d 25.9%,#4e186f 28.6%,#46145e 29.7%,#371143 31.9%,#2f1436 33.8%,#3c113b 36.6%,#5d1749 38.5%,#761f4f 40.2%,#922f50 42.4%,#a54350 45.0%,#b96456 48.4%,#c0755e 51.5%,#c78c6f 62.5%,#cda78e 74.3%,#d8c5bb 100.0%)"></i><i style="background:linear-gradient(90deg,#5f5eb3 0.0%,#5f58b0 13.1%,#5e46a6 20.1%,#5d3ea1 21.7%,#592a8f 25.7%,#4d176d 28.9%,#44135a 30.0%,#361142 32.1%,#2f1436 33.8%,#3b113b 36.6%,#61184b 38.9%,#761f4f 40.3%,#882850 41.6%,#983550 43.2%,#ae5051 46.4%,#ba6657 49.0%,#c0755e 51.6%,#c78e71 63.1%,#cda78e 74.4%,#d8c5bb 100.0%)"></i><i style="background:linear-gradient(90deg,#5f5eb3 0.0%,#5f58b0 13.1%,#5e46a6 20.2%,#5d3ea1 21.8%,#58278b 26.2%,#4d176d 29.0%,#431359 30.2%,#361142 32.2%,#2f1436 33.9%,#3b113b 36.7%,#61184b 39.0%,#751e4f 40.3%,#872750 41.6%,#983550 43.3%,#b05351 46.8%,#ba6657 49.1%,#c0755e 51.6%,#c78c6f 62.6%,#cda78e 74.4%,#d8c5bb 100.0%)"></i><i style="background:linear-gradient(90deg,#5f5eb3 0.0%,#5f58b0 13.1%,#5e47a7 19.9%,#5d3ea1 21.9%,#59298e 26.0%,#4f1970 28.7%,#44135a 30.2%,#3a1148 31.7%,#2f1436 34.0%,#3b113b 36.8%,#5c1749 38.8%,#741e4f 40.3%,#8e2c50 42.2%,#943150 42.9%,#a34150 45.0%,#b15552 47.1%,#ba6657 49.2%,#c0755e 51.7%,#c78e71 63.2%,#cda78e 74.5%,#d8c5bb 100.0%)"></i><i style="background:linear-gradient(90deg,#5f5eb3 0.0%,#5f58b0 13.2%,#5e47a7 20.0%,#5d3da1 22.2%,#5a2b90 25.8%,#4f1970 28.9%,#45135c 30.2%,#3a1148 31.8%,#2f1436 34.1%,#3a113a 36.8%,#60184a 39.1%,#741e4f 40.4%,#8d2b50 42.2%,#a03d50 44.5%,#b86255 48.4%,#bd6c5a 50.2%,#c0755e 51.8%,#c78f72 63.9%,#cda78e 74.5%,#d8c5bb 100.0%)"></i><i style="background:linear-gradient(90deg,#5f5eb3 0.0%,#5f58b0 13.2%,#5e47a7 20.1%,#5d3da1 22.3%,#5a2b90 25.9%,#521c79 28.2%,#45135c 30.3%,#391146 32.0%,#2f1436 34.2%,#3a113a 36.9%,#60184a 39.2%,#721d4f 40.4%,#8c2a50 42.2%,#953250 43.2%,#ac4d51 46.5%,#ba6657 49.3%,#c0755e 51.8%,#c78e71 63.3%,#cda78e 74.6%,#d8c5bb 100.0%)"></i><i style="background:linear-gradient(90deg,#5f5eb3 0.0%,#5f58b0 13.2%,#5e47a7 20.2%,#5d3da1 22.4%,#592a8f 26.1%,#4e186f 29.2%,#481563 29.9%,#381145 32.2%,#2f1436 34.3%,#3a113a 36.9%,#44123f 37.7%,#64194b 39.5%,#721d4f 40.5%,#8c2a50 42.3%,#963350 43.4%,#af5151 46.9%,#ba6657 49.4%,#c0755e 51.9%,#c78f72 64.0%,#cda78e 74.6%,#d8c5bb 100.0%)"></i><i style="background:linear-gradient(90deg,#5f5eb3 0.0%,#5f58b0 13.3%,#5d41a3 21.8%,#592a8f 26.2%,#511b77 28.5%,#47145f 30.2%,#381145 32.3%,#2f1436 34.3%,#3a113a 37.0%,#711d4f 40.5%,#8b2a50 42.3%,#973450 43.6%,#b05351 47.2%,#ba6657 49.5%,#c0755e 51.9%,#c78c6f 62.9%,#cda78e 74.6%,#d8c5bb 100.0%)"></i><i style="background:linear-gradient(90deg,#5f5eb3 0.0%,#5f58b0 13.3%,#5d40a2 22.1%,#58278b 26.8%,#4d176d 29.5%,#46145e 30.4%,#371144 32.5%,#2f1436 34.4%,#3a113a 37.1%,#701c4e 40.5%,#8a2950 42.3%,#983550 43.9%,#b25652 47.6%,#bc6a58 50.1%,#c0755e 52.0%,#c78f72 64.1%,#cda78e 74.7%,#d8c5bb 100.0%)"></i><i style="background:linear-gradient(90deg,#5f5eb3 0.0%,#5f58b0 13.4%,#5d40a2 22.2%,#59298e 26.6%,#4d176d 29.6%,#45135c 30.6%,#371143 32.7%,#2f1436 34.5%,#3c113b 37.4%,#701c4e 40.6%,#882850 42.3%,#933050 43.3%,#ac4c50 46.7%,#ba6657 49.6%,#c0755e 52.1%,#c78c6f 63.0%,#cda78e 74.7%,#d8c5bb 100.0%)"></i><i style="background:linear-gradient(90deg,#5f5eb3 0.0%,#5f58b0 13.4%,#5e47a7 20.5%,#5d3ea1 22.5%,#5a2b90 26.4%,#4f1970 29.4%,#45135c 30.7%,#361142 32.9%,#2f1436 34.6%,#3b113b 37.4%,#63184b 39.8%,#761f4f 41.1%,#882850 42.4%,#943150 43.5%,#ad4e51 47.0%,#ba6557 49.5%,#c0755e 52.1%,#c78f72 64.2%,#cda78e 74.8%,#d8c5bb 100.0%)"></i><i style="background:linear-gradient(90deg,#5f5eb3 0.0%,#5f59b1 12.5%,#5e43a5 21.7%,#59288d 26.9%,#4e186f 29.6%,#431359 31.0%,#361141 33.1%,#2f1436 34.7%,#3b113b 37.5%,#5d1749 39.6%,#761f4f 41.2%,#8e2c50 42.9%,#a13f50 45.3%,#b65d54 48.5%,#bd6c5a 50.7%,#c0755e 52.2%,#c89073 64.8%,#cda78e 74.8%,#d8c5bb 100.0%)"></i><i style="background:linear-gradient(90deg,#5f5eb3 0.0%,#5f58b0 13.5%,#5e47a7 20.7%,#5d3ea1 22.7%,#592a8f 26.7%,#501a74 29.3%,#44135a 31.0%,#351140 33.3%,#2f1436 34.8%,#3b113b 37.6%,#5d1749 39.7%,#751e4f 41.2%,#8d2b50 42.9%,#963350 44.0%,#b15452 47.7%,#bb6958 50.2%,#c0755e 52.3%,#c78e71 63.7%,#cda78e 74.9%,#d8c5bb 100.0%)"></i><i style="background:linear-gradient(90deg,#5f5eb3 0.0%,#5f59b1 12.6%,#5d42a4 22.1%,#59298e 26.9%,#511b77 29.1%,#44135a 31.1%,#3a1149 32.5%,#2f1436 34.8%,#3a113a 37.6%,#61184b 40.0%,#751e4f 41.4%,#8d2b50 43.0%,#973450 44.2%,#b25652 48.0%,#ba6657 49.9%,#c0755e 52.3%,#c68b6e 62.7%,#cda78e 74.9%,#d8c5bb 100.0%)"></i><i style="background:linear-gradient(90deg,#5f5eb3 0.0%,#5f59b1 12.6%,#5d42a4 22.2%,#59298e 27.0%,#4f1972 29.6%,#471461 30.7%,#3a1148 32.7%,#2f1436 34.9%,#3a113a 37.7%,#61184b 40.1%,#741e4f 41.4%,#8c2a50 43.0%,#9f3c50 45.2%,#b35953 48.3%,#bd6e5a 51.1%,#c0755e 52.4%,#c78e71 63.9%,#cda78e 75.0%,#d8c5bb 100.0%)"></i><i style="background:linear-gradient(90deg,#5f5eb3 0.0%,#5f58b0 13.6%,#5d41a3 22.5%,#5a2b90 26.8%,#4d176d 30.1%,#47145f 30.9%,#391146 32.9%,#2f1436 35.0%,#3a113a 37.7%,#721d4f 41.4%,#8b2a50 43.0%,#993650 44.6%,#b55b53 48.6%,#bc6b59 50.8%,#c0755e 52.4%,#c68b6e 62.8%,#cda78e 75.0%,#d8c5bb 100.0%)"></i><i style="background:linear-gradient(90deg,#5f5eb3 0.0%,#5f58b0 13.6%,#5d41a3 22.6%,#59288d 27.3%,#4f1970 29.9%,#46145e 31.1%,#381145 33.1%,#2f1436 35.1%,#3a113a 37.8%,#4d1443 39.2%,#60184a 40.2%,#721d4f 41.5%,#8b2a50 43.1%,#9a3750 44.8%,#af5251 47.8%,#bb6958 50.5%,#c0755e 52.5%,#c78e71 64.0%,#cda78e 75.1%,#d8c5bb 100.0%)"></i><i style="background:linear-gradient(90deg,#5f5eb3 0.0%,#5f58b0 13.6%,#5e47a7 21.1%,#5d40a2 22.9%,#592a8f 27.1%,#521c79 29.3%,#45135c 31.4%,#371144 33.3%,#2f1436 35.2%,#3a113a 37.9%,#711d4f 41.5%,#8a2950 43.1%,#943150 44.2%,#b15452 48.1%,#ba6657 50.2%,#c0755e 52.6%,#c78f72 64.6%,#cda78e 75.1%,#d8c5bb 100.0%)"></i><i style="background:linear-gradient(90deg,#5f5eb3 0.0%,#5f58b0 13.8%,#5e47a7 21.2%,#5d40a2 23.0%,#592a8f 27.2%,#501a74 29.8%,#44135a 31.6%,#371143 33.5%,#2f1436 35.3%,#3c113b 38.2%,#711d4f 41.6%,#882850 43.1%,#9d3a50 45.3%,#b25652 48.4%,#bd6c5a 51.2%,#c0755e 52.6%,#c78c6f 63.5%,#cda78e 75.1%,#d8c5bb 100.0%)"></i><i style="background:linear-gradient(90deg,#5f5eb3 0.0%,#5f58b0 13.8%,#5e43a5 22.4%,#592a8f 27.3%,#501a74 29.9%,#45135c 31.6%,#371144 33.5%,#2f1436 35.4%,#3c113b 38.3%,#5f174a 40.4%,#761f4f 42.0%,#8d2b50 43.5%,#a03e50 45.8%,#b75f55 49.4%,#bd6e5a 51.5%,#c0755e 52.7%,#c78e71 64.1%,#cda78e 75.1%,#d5bfb1 95.1%,#d8c6bd 100.0%)"></i><i style="background:linear-gradient(90deg,#5f5eb3 0.0%,#5f58b0 13.8%,#5d42a4 22.7%,#592a8f 27.4%,#4f1970 30.3%,#47145f 31.5%,#391146 33.4%,#2f1436 35.5%,#3a113a 38.2%,#63184b 40.7%,#741e4f 41.9%,#8a2950 43.3%,#9f3c50 45.6%,#b75f55 49.4%,#bd6e5a 51.5%,#c0755e 52.7%,#c89174 65.6%,#cda78e 75.0%,#d8c6bd 100.0%)"></i><i style="background:linear-gradient(90deg,#5f5eb3 0.0%,#5f58b0 13.8%,#5d42a4 22.8%,#59288d 27.8%,#4d176d 30.7%,#471461 31.5%,#3a1149 33.3%,#2f1436 35.6%,#3a113a 38.3%,#711d4f 41.8%,#8c2a50 43.5%,#9d3a50 45.4%,#b75f55 49.4%,#bd6e5a 51.5%,#c0755e 52.7%,#c78f72 64.5%,#cda78e 74.9%,#d8c6bd 100.0%)"></i><i style="background:linear-gradient(90deg,#5f5eb3 0.0%,#5f58b0 13.8%,#5d41a3 23.1%,#59288d 27.9%,#4e186f 30.7%,#431359 32.2%,#351140 34.4%,#2f1436 35.7%,#3a113a 38.4%,#701c4e 41.8%,#8e2c50 43.8%,#9a3750 45.1%,#b65e54 49.3%,#bd6e5a 51.5%,#c0755e 52.7%,#c78e71 63.9%,#cda78e 74.7%,#d8c6bd 100.0%)"></i><i style="background:linear-gradient(90deg,#5f5eb3 0.0%,#5f58b0 13.8%,#5e47a7 21.7%,#5d3da1 24.0%,#5a2b90 27.6%,#501a74 30.4%,#45135c 32.1%,#361141 34.4%,#2f1436 35.8%,#3a113a 38.5%,#6f1c4e 41.8%,#8c2a50 43.6%,#a24050 46.1%,#b65e54 49.3%,#bd6e5a 51.5%,#c0755e 52.7%,#c89174 65.4%,#cda78e 74.6%,#d8c6bd 100.0%)"></i><i style="background:linear-gradient(90deg,#5f5eb3 0.0%,#5f58b0 13.8%,#5e47a7 21.8%,#5d40a2 23.5%,#59298e 28.0%,#4f1970 30.8%,#46145e 32.1%,#371144 34.2%,#2f1436 35.9%,#3a113a 38.6%,#721d4f 42.1%,#8e2c50 43.9%,#a03d50 45.8%,#b65e54 49.3%,#bd6e5a 51.5%,#c0755e 52.7%,#c78e71 63.7%,#cda78e 74.5%,#d8c6bd 100.0%)"></i><i style="background:linear-gradient(90deg,#5f5eb3 0.0%,#5f58b0 13.8%,#5e47a7 21.8%,#5d40a2 23.6%,#58278b 28.4%,#4d176d 31.2%,#431359 32.6%,#391146 34.1%,#2f1436 36.1%,#3a113a 38.9%,#701c4e 42.0%,#8b2a50 43.6%,#9b3850 45.3%,#aa4a50 47.3%,#ba6657 50.3%,#c0755e 52.7%,#c78c6f 63.1%,#cda68c 73.8%,#d8c6bd 100.0%)"></i><i style="background:linear-gradient(90deg,#5f5eb3 0.0%,#5f58b0 13.8%,#5d42a4 23.2%,#59298e 28.2%,#4f1972 30.9%,#44135a 32.6%,#3a1149 34.0%,#2f1436 36.2%,#3a113a 39.0%,#5f174a 41.0%,#741e4f 42.3%,#8d2b50 43.9%,#963350 44.8%,#a94850 47.1%,#ba6657 50.3%,#c0755e 52.7%,#c89174 65.2%,#cda68c 73.6%,#d8c6bd 100.0%)"></i><i style="background:linear-gradient(90deg,#5f5eb3 0.0%,#5f58b0 13.8%,#5e47a7 22.0%,#5d3ea1 24.1%,#592a8f 28.2%,#4e186f 31.4%,#44135a 32.7%,#361141 34.9%,#2f1436 36.4%,#3a113a 39.1%,#721d4f 42.3%,#8b2a50 43.8%,#9b3850 45.4%,#b15552 48.4%,#ba6657 50.3%,#c0755e 52.7%,#c78e71 63.5%,#cda78e 74.1%,#d8c6bd 100.0%)"></i><i style="background:linear-gradient(90deg,#5f5eb3 0.0%,#5f58b0 13.8%,#5d41a3 23.6%,#59288d 28.6%,#4f1970 31.4%,#45135c 32.7%,#361141 35.0%,#2f1436 36.5%,#3a113a 39.2%,#6c1b4e 42.0%,#882850 43.6%,#973450 45.0%,#b05351 48.2%,#ba6657 50.3%,#c0755e 52.7%,#c78e71 63.4%,#cda78e 74.0%,#d8c6bd 100.0%)"></i><i style="background:linear-gradient(90deg,#5f5eb3 0.0%,#5f59b1 12.7%,#5e43a5 23.2%,#592a8f 28.4%,#4d176d 31.8%,#47145f 32.6%,#371143 34.9%,#2f1436 36.6%,#3a113a 39.3%,#60184a 41.4%,#741e4f 42.5%,#8e2c50 44.1%,#943150 44.7%,#af5151 48.0%,#ba6657 50.3%,#c0755e 52.7%,#c78f72 64.0%,#cda78e 73.9%,#d8c6bd 100.0%)"></i><i style="background:linear-gradient(90deg,#5f5eb3 0.0%,#5f58b0 13.8%,#5e47a7 22.2%,#5d3da1 24.6%,#59288d 28.9%,#4f1972 31.5%,#431359 33.2%,#391146 34.7%,#2f1436 36.7%,#3a113a 39.4%,#721d4f 42.5%,#8d2b50 44.1%,#993650 45.3%,#af5251 48.1%,#ba6657 50.3%,#c0765f 53.1%,#c78f72 63.9%,#cda78e 73.8%,#d8c6bd 100.0%)"></i><i style="background:linear-gradient(90deg,#5f5eb3 0.0%,#5f58b0 13.8%,#5e47a7 22.3%,#5d40a2 24.2%,#59298e 28.9%,#4e186f 31.9%,#44135a 33.2%,#3a1149 34.6%,#2f1436 36.9%,#3a113a 39.5%,#711d4f 42.5%,#8e2c50 44.2%,#973450 45.1%,#af5151 48.0%,#ba6657 50.3%,#c0765f 53.1%,#c68b6e 62.3%,#cda68c 73.0%,#d8c6bd 100.0%)"></i><i style="background:linear-gradient(90deg,#5f5eb3 0.0%,#5f58b0 13.8%,#5e46a6 22.8%,#5d3ea1 24.5%,#59298e 29.0%,#4c176b 32.3%,#44135a 33.3%,#361141 35.5%,#2f1436 37.0%,#3b113b 39.7%,#701c4e 42.5%,#8c2a50 44.1%,#9a3750 45.4%,#b05351 48.2%,#ba6657 50.3%,#c0765f 53.1%,#c78f72 63.7%,#cda68c 72.9%,#d8c6bd 100.0%)"></i><i style="background:linear-gradient(90deg,#5f5eb3 0.0%,#5f58b0 13.8%,#5e47a7 22.4%,#5d3ea1 24.6%,#59298e 29.1%,#4d176d 32.3%,#46145e 33.2%,#361142 35.5%,#2f1436 37.1%,#3b113b 39.8%,#6f1c4e 42.5%,#8e2c50 44.3%,#943150 44.9%,#ac4d51 47.7%,#ba6657 50.3%,#c0765f 53.1%,#c89073 64.2%,#cda78e 73.3%,#d8c6bd 100.0%)"></i><i style="background:linear-gradient(90deg,#5f5eb3 0.0%,#5f58b0 13.8%,#5e47a7 22.5%,#5d3ea1 24.7%,#592a8f 29.1%,#511a75 31.7%,#481563 33.0%,#371143 35.5%,#2f1436 37.2%,#3b113b 39.9%,#6d1b4e 42.5%,#852650 43.8%,#922f50 44.7%,#ac4c50 47.7%,#ba6657 50.3%,#c0765f 53.1%,#c78e71 63.1%,#cda78e 73.2%,#d8c6bd 100.0%)"></i><i style="background:linear-gradient(90deg,#5f5eb3 0.0%,#5f58b0 13.8%,#5e47a7 22.5%,#5d40a2 24.5%,#592a8f 29.2%,#4e186f 32.4%,#44135a 33.8%,#381145 35.4%,#2f1436 37.3%,#3a113a 39.9%,#701c4e 42.7%,#8d2b50 44.3%,#983550 45.3%,#ae5051 48.0%,#ba6657 50.3%,#c0765f 53.1%,#c89073 64.1%,#cda78e 73.1%,#d8c6bd 100.0%)"></i><i style="background:linear-gradient(90deg,#5f5eb3 0.0%,#5f58b0 13.8%,#5e47a7 22.6%,#5d40a2 24.6%,#592a8f 29.3%,#4c176b 32.8%,#44135a 33.9%,#3a1149 35.2%,#2f1436 37.4%,#3a113a 40.0%,#681a4d 42.4%,#8f2d50 44.5%,#a94950 47.4%,#ba6657 50.3%,#c0765f 53.1%,#c78c6f 62.5%,#cda78e 73.0%,#d8c6bd 100.0%)"></i><i style="background:linear-gradient(90deg,#5f5eb3 0.0%,#5f58b0 13.8%,#5e47a7 22.7%,#5d40a2 24.7%,#592a8f 29.4%,#4d176d 32.8%,#45135c 33.9%,#361141 36.1%,#2f1436 37.6%,#3a113a 40.1%,#6b1b4d 42.6%,#8a2950 44.2%,#933050 44.9%,#ab4b50 47.6%,#ba6657 50.3%,#c0765f 53.1%,#c78e71 62.9%,#cda78e 72.9%,#d8c6bd 100.0%)"></i><i style="background:linear-gradient(90deg,#5f5eb3 0.0%,#5f58b0 13.8%,#5e47a7 22.8%,#5d3da1 25.3%,#59298e 29.7%,#4d176d 32.9%,#471461 33.6%,#371143 36.0%,#2f1436 37.7%,#3a113a 40.2%,#6d1b4e 42.8%,#8e2c50 44.5%,#983550 45.4%,#ad4e51 47.9%,#ba6657 50.3%,#c0765f 53.1%,#c89073 63.9%,#cda68c 72.2%,#d7c3b8 95.6%,#d8c6bd 100.0%)"></i><i style="background:linear-gradient(90deg,#5f5eb3 0.0%,#5f58b0 13.8%,#5d41a3 24.6%,#5a2b90 29.5%,#4e186f 32.9%,#44135a 34.3%,#361142 36.2%,#2f1436 37.8%,#3a113a 40.3%,#461240 41.0%,#6c1b4e 42.8%,#902e50 44.7%,#a94850 47.3%,#ba6657 50.3%,#c0765f 53.1%,#c78e71 62.8%,#cda78e 72.6%,#d7c3b8 95.4%,#d8c6bd 100.0%)"></i><i style="background:linear-gradient(90deg,#5f5eb3 0.0%,#5f58b0 13.8%,#5e47a7 22.9%,#5d3ea1 25.2%,#59298e 29.9%,#4e186f 33.0%,#44135a 34.4%,#381145 36.0%,#2f1436 37.9%,#3a113a 40.4%,#481341 41.2%,#6f1c4e 43.0%,#8b2a50 44.4%,#943150 45.1%,#aa4a50 47.5%,#ba6657 50.3%,#c0765f 53.1%,#c78f72 63.2%,#cda78e 72.5%,#d8c7be 100.0%)"></i><i style="background:linear-gradient(90deg,#5f5eb3 0.0%,#5f58b0 13.9%,#5e47a7 23.0%,#5d3ea1 25.3%,#5a2e93 29.2%,#58268a 30.5%,#4d176d 33.3%,#44135a 34.5%,#3a1149 35.8%,#2f1436 38.0%,#3a113a 40.5%,#481341 41.4%,#6b1b4d 42.9%,#8a2950 44.4%,#983550 45.5%,#ac4c50 47.7%,#ba6657 50.3%,#c0765f 53.1%,#c89073 63.6%,#cda78e 72.4%,#d8c7be 100.0%)"></i><i style="background:linear-gradient(90deg,#5f5eb3 0.0%,#5f58b0 13.9%,#5e47a7 23.0%,#5d3ca0 25.9%,#59288d 30.3%,#4d176d 33.4%,#47145f 34.3%,#371143 36.6%,#2f1436 38.1%,#3a113a 40.7%,#67194c 42.8%,#832550 44.1%,#922f50 45.0%,#ac4c50 47.7%,#ba6657 50.3%,#c0755e 52.7%,#c78e71 62.6%,#cda78e 72.3%,#d8c7be 100.0%)"></i><i style="background:linear-gradient(90deg,#5f5eb3 0.0%,#5f58b0 13.9%,#5e47a7 23.1%,#5d3ca0 26.0%,#59288d 30.4%,#4e186f 33.4%,#431359 34.9%,#361141 36.9%,#2f1436 38.3%,#3a113a 40.8%,#6c1b4e 43.1%,#8c2a50 44.6%,#953250 45.3%,#ae5051 48.0%,#ba6657 50.3%,#c0755e 52.7%,#c78c6f 62.1%,#cda78e 72.2%,#d8c7be 100.0%)"></i><i style="background:linear-gradient(90deg,#5f5eb3 0.0%,#5f58b0 13.9%,#5e47a7 23.2%,#5d3da1 25.8%,#592a8f 30.2%,#4e186f 33.5%,#44135a 34.9%,#361142 36.9%,#2f1436 38.4%,#3a113a 40.9%,#65194c 42.9%,#902e50 44.9%,#af5251 48.2%,#ba6657 50.3%,#c0755e 52.7%,#c78e71 62.5%,#cda68c 71.5%,#d8c7be 100.0%)"></i><i style="background:linear-gradient(90deg,#5f5eb3 0.0%,#5f58b0 13.9%,#5e47a7 23.2%,#5d3da1 25.9%,#59298e 30.5%,#4d176d 33.9%,#44135a 35.0%,#381145 36.7%,#2f1436 38.5%,#3a113a 41.0%,#6b1b4d 43.2%,#7f2350 44.1%,#933050 45.2%,#b05351 48.3%,#ba6657 50.3%,#c0755e 52.7%,#c78e71 62.4%,#cda78e 71.9%,#d8c7be 100.0%)"></i><i style="background:linear-gradient(90deg,#5f5eb3 0.0%,#5f58b0 13.9%,#5e47a7 23.3%,#5d3da1 26.0%,#59298e 30.6%,#4d176d 34.0%,#46145e 34.9%,#3a1149 36.5%,#2f1436 38.6%,#3a113a 41.1%,#67194c 43.1%,#8d2b50 44.8%,#963350 45.5%,#b15452 48.4%,#ba6657 50.3%,#c0755e 52.7%,#c78f72 62.8%,#cda78e 71.8%,#d7c3b8 94.6%,#d8c7be 100.0%)"></i><i style="background:linear-gradient(90deg,#5f5eb3 0.0%,#5f58b0 13.9%,#5e47a7 23.4%,#5d3ea1 25.8%,#59298e 30.7%,#4e186f 34.0%,#44135a 35.3%,#371143 37.2%,#2f1436 38.8%,#3a113a 41.2%,#6f1c4e 43.5%,#8e2c50 44.9%,#983550 45.7%,#b25652 48.6%,#ba6657 50.3%,#c0755e 52.7%,#c78e71 62.3%,#cda78e 71.7%,#d7c3b8 94.5%,#d8c7be 100.0%)"></i><i style="background:linear-gradient(90deg,#5f5eb3 0.0%,#5f58b0 13.9%,#5e47a7 23.5%,#5d3a9e 27.1%,#5a2b90 30.5%,#58268a 31.4%,#4e186f 34.1%,#421257 35.6%,#361142 37.4%,#2f1436 38.9%,#3a113a 41.4%,#681a4d 43.3%,#8b2a50 44.8%,#943150 45.4%,#a94850 47.4%,#ba6657 50.3%,#c0755e 52.7%,#c78f72 62.7%,#cda78e 71.6%,#d7c3b8 94.4%,#d8c7be 100.0%)"></i><i style="background:linear-gradient(90deg,#5f5eb3 0.0%,#5f58b0 13.9%,#5e47a7 23.5%,#5d3b9f 26.9%,#59288d 31.1%,#4d176d 34.4%,#431359 35.6%,#361141 37.6%,#2f1436 39.1%,#39113a 41.4%,#65194c 43.3%,#7e2250 44.3%,#912f50 45.2%,#aa4a50 47.6%,#ba6657 50.3%,#c0755e 52.7%,#c78e71 62.2%,#cda78e 71.5%,#d7c3b8 94.3%,#d8c7be 100.0%)"></i><i style="background:linear-gradient(90deg,#5f5eb3 0.0%,#5f58b0 13.9%,#5e47a7 23.6%,#5d3b9f 27.0%,#5a2b90 30.7%,#572385 32.1%,#4d176d 34.5%,#45135c 35.5%,#371144 37.4%,#2f1436 39.2%,#39113a 41.5%,#4b1342 42.4%,#691a4d 43.5%,#862750 44.7%,#933050 45.4%,#ab4b50 47.7%,#ba6657 50.3%,#c0755e 52.7%,#c78c6f 61.7%,#cda78e 71.4%,#d7c3b8 94.1%,#d8c7be 100.0%)"></i><i style="background:linear-gradient(90deg,#5f5eb3 0.0%,#5f58b0 13.9%,#5e47a7 23.8%,#5d3b9f 27.1%,#5a2e93 30.3%,#572588 31.9%,#4e186f 34.5%,#421257 36.0%,#3a1149 37.1%,#2f1436 39.3%,#3a113a 41.7%,#67194c 43.5%,#802350 44.5%,#943150 45.5%,#ac4d51 47.9%,#ba6657 50.3%,#c0755e 52.7%,#c78f72 62.5%,#cda78e 71.1%,#d7c3b8 94.0%,#d8c7be 100.0%)"></i><i style="background:linear-gradient(90deg,#5f5eb3 0.0%,#5f58b0 13.9%,#5e47a7 23.8%,#5d3ca0 26.9%,#59298e 31.4%,#4e186f 34.6%,#44135a 35.9%,#371143 37.8%,#2f1436 39.4%,#3a113a 41.8%,#5f174a 43.3%,#812450 44.6%,#922f50 45.4%,#ad4e51 48.0%,#ba6657 50.3%,#c0755e 52.7%,#c78e71 62.0%,#cda78e 71.0%,#d7c3b8 93.9%,#d8c7be 100.0%)"></i><i style="background:linear-gradient(90deg,#5f5eb3 0.0%,#5f58b0 13.9%,#5e47a7 23.9%,#5d3da1 26.7%,#59298e 31.5%,#4d176d 34.9%,#44135a 36.0%,#371143 37.9%,#2f1436 39.5%,#3a113a 41.9%,#491341 42.6%,#681a4d 43.8%,#8d2b50 45.1%,#933050 45.5%,#a74650 47.3%,#ba6657 50.3%,#c0755e 52.7%,#c68b6e 61.0%,#cda78e 70.9%,#d7c3b8 93.8%,#d8c7be 100.0%)"></i><i style="background:linear-gradient(90deg,#5f5eb3 0.0%,#5f58b0 13.9%,#5e47a7 24.0%,#5d3ea1 26.5%,#5a2b90 31.2%,#58268a 32.1%,#4d176d 35.0%,#431359 36.2%,#361142 38.1%,#2f1436 39.6%,#3a113a 42.0%,#63184b 43.6%,#842550 44.8%,#912f50 45.4%,#a84750 47.4%,#ba6657 50.3%,#c0755e 52.7%,#c78f72 62.3%,#cda78e 70.8%,#d7c3b8 93.6%,#d8c7be 100.0%)"></i><i style="background:linear-gradient(90deg,#5f5eb3 0.0%,#5f58b0 13.9%,#5e47a7 24.1%,#5d40a2 26.2%,#59288d 31.9%,#4d176d 35.1%,#47145f 35.9%,#371143 38.1%,#2f1436 39.8%,#3a113a 42.1%,#471340 42.7%,#67194c 43.9%,#8b2a50 45.1%,#922f50 45.5%,#a94850 47.5%,#ba6657 50.3%,#c0755e 52.7%,#c78c6f 61.4%,#cda78e 70.7%,#d7c3b8 93.5%,#d8c7be 100.0%)"></i><i style="background:linear-gradient(90deg,#5f5eb3 0.0%,#5f58b0 13.9%,#5e47a7 24.1%,#5d3a9e 27.8%,#5a2b90 31.5%,#572385 32.8%,#4e186f 35.1%,#411256 36.8%,#3a1149 37.7%,#2f1436 39.9%,#3a113a 42.2%,#471340 42.8%,#64194b 43.9%,#902e50 45.4%,#a94950 47.6%,#ba6657 50.3%,#c0755e 52.7%,#c89073 62.6%,#cda78e 70.5%,#d7c3b8 93.3%,#d8c7be 100.0%)"></i><i style="background:linear-gradient(90deg,#5f5eb3 0.0%,#5f58b0 13.9%,#5e47a7 24.2%,#5d3a9e 27.9%,#5a2b90 31.6%,#572588 32.6%,#4d176d 35.4%,#421257 36.8%,#361142 38.5%,#2f1436 40.0%,#3a113a 42.3%,#471340 42.9%,#61184b 43.9%,#7f2350 44.8%,#912f50 45.5%,#aa4a50 47.7%,#ba6657 50.3%,#c0755e 52.7%,#c78c6f 61.3%,#cda78e 70.4%,#d7c3b8 93.2%,#d8c7be 100.0%)"></i><i style="background:linear-gradient(90deg,#5f5eb3 0.0%,#5f58b0 13.9%,#5e47a7 24.3%,#5d3a9e 28.0%,#58278b 32.4%,#4d176d 35.5%,#431359 36.8%,#361142 38.6%,#2f1436 40.1%,#3a113a 42.4%,#471340 43.0%,#5f174a 43.9%,#8a2950 45.2%,#963350 45.9%,#ab4b50 47.8%,#ba6657 50.3%,#c0755e 52.7%,#c78c6f 61.1%,#cda78e 70.3%,#d7c3b8 93.1%,#d8c7be 100.0%)"></i><i style="background:linear-gradient(90deg,#5f5eb3 0.0%,#5f58b0 13.9%,#5e46a6 24.9%,#5d3a9e 28.1%,#58278b 32.5%,#4d176d 35.6%,#45135c 36.7%,#371143 38.6%,#2f1436 40.2%,#3a113a 42.5%,#4d1443 43.3%,#63184b 44.1%,#8e2c50 45.4%,#943150 45.8%,#ac4c50 47.9%,#ba6657 50.3%,#c0755e 52.7%,#c78f72 62.0%,#cda78e 70.2%,#d7c3b8 93.0%,#d8c7be 100.0%)"></i><i style="background:linear-gradient(90deg,#5f5eb3 0.0%,#5f58b0 13.9%,#5e47a7 24.4%,#5d3a9e 28.2%,#5a2b90 31.9%,#572487 33.1%,#4e186f 35.6%,#411256 37.3%,#361142 38.9%,#2f1436 40.3%,#3a113a 42.7%,#60184a 44.1%,#8a2950 45.3%,#953250 45.9%,#ac4d51 48.0%,#ba6657 50.3%,#c0755e 52.7%,#c78c6f 61.0%,#cda78e 70.1%,#d7c3b8 92.9%,#d8c7be 100.0%)"></i><i style="background:linear-gradient(90deg,#5f5eb3 0.0%,#5f58b0 13.9%,#5e47a7 24.5%,#5d3a9e 28.3%,#5a2b90 32.0%,#58268a 32.9%,#4d176d 35.9%,#421257 37.3%,#3a1149 38.3%,#2f1436 40.5%,#3a113a 42.8%,#64194b 44.3%,#8e2c50 45.5%,#963350 46.0%,#ac4d51 48.0%,#ba6657 50.3%,#c0755e 52.7%,#c78c6f 60.9%,#cda78e 70.0%,#d7c3b8 92.8%,#d8c7be 100.0%)"></i><i style="background:linear-gradient(90deg,#5f5eb3 0.0%,#5f58b0 13.9%,#5e47a7 24.6%,#5c359a 29.7%,#5a2b90 32.2%,#572385 33.5%,#4d176d 36.0%,#411256 37.5%,#361141 39.3%,#2f1436 40.6%,#39113a 42.8%,#4a1342 43.5%,#61184b 44.3%,#8d2b50 45.5%,#943150 45.9%,#a94850 47.6%,#ba6657 50.3%,#c0755e 52.7%,#c78e71 61.4%,#cda78e 69.8%,#d7c3b8 92.6%,#d9c8c0 100.0%)"></i><i style="background:linear-gradient(90deg,#5f5eb3 0.0%,#5f58b0 13.9%,#5e46a6 25.2%,#5d3b9f 28.1%,#5a2b90 32.3%,#572588 33.3%,#4d176d 36.1%,#431359 37.4%,#361142 39.3%,#2f1436 40.7%,#39113a 42.9%,#4a1342 43.6%,#65194c 44.5%,#8b2a50 45.5%,#933050 45.9%,#a94850 47.6%,#ba6657 50.3%,#c0755e 52.6%,#c78e71 61.3%,#cda78e 69.7%,#d7c3b8 92.5%,#d9c8c0 100.0%)"></i><i style="background:linear-gradient(90deg,#5f5eb3 0.0%,#5f58b0 13.9%,#5e47a7 24.7%,#5d3b9f 28.2%,#5a2b90 32.4%,#572588 33.4%,#4e186f 36.1%,#421257 37.7%,#371143 39.3%,#2f1436 40.8%,#39113a 43.0%,#44123f 43.5%,#5f174a 44.4%,#832550 45.3%,#912f50 45.8%,#a94950 47.7%,#ba6657 50.3%,#c0755e 52.6%,#c78c6f 60.8%,#cda78e 69.6%,#d7c3b8 92.4%,#d9c8c0 100.0%)"></i><i style="background:linear-gradient(90deg,#5f5eb3 0.0%,#5f58b0 13.9%,#5e47a7 24.8%,#5d3b9f 28.3%,#58278b 33.2%,#4c176b 36.6%,#431359 37.7%,#371143 39.4%,#2f1436 40.9%,#39113a 43.1%,#44123f 43.6%,#5c1749 44.4%,#741e4f 45.0%,#882850 45.5%,#922f50 45.9%,#aa4a50 47.8%,#ba6657 50.3%,#c0755e 52.6%,#c78f72 61.6%,#cda78e 69.5%,#d7c3b8 92.3%,#d9c8c0 100.0%)"></i><i style="background:linear-gradient(90deg,#5f5eb3 0.0%,#5f58b0 13.9%,#5e46a6 25.4%,#5d3b9f 28.4%,#5a2b90 32.6%,#572487 33.9%,#4d176d 36.6%,#411256 38.0%,#3a1149 39.0%,#2f1436 41.0%,#3a113a 43.3%,#60184a 44.6%,#761f4f 45.1%,#902e50 45.8%,#a74650 47.5%,#b65e54 49.4%,#ba6657 50.3%,#c0755e 52.6%,#c68a6d 59.9%,#cda78e 69.4%,#d7c3b8 92.2%,#d9c8c0 100.0%)"></i><i style="background:linear-gradient(90deg,#5f5eb3 0.0%,#5f58b0 14.0%,#5e46a6 25.5%,#5d3b9f 28.5%,#5a2b90 32.7%,#58268a 33.6%,#4d176d 36.7%,#421257 38.0%,#361142 39.8%,#2f1436 41.2%,#3a113a 43.4%,#5d1749 44.6%,#882850 45.6%,#912f50 45.9%,#a74650 47.5%,#b65e54 49.4%,#ba6657 50.3%,#c0755e 52.6%,#c78f72 61.5%,#cda78e 69.3%,#d7c3b8 92.1%,#d9c8c0 100.0%)"></i><i style="background:linear-gradient(90deg,#5f5eb3 0.0%,#5f58b0 14.0%,#5e47a7 25.0%,#5d3b9f 28.6%,#5a2b90 32.8%,#58268a 33.8%,#4e186f 36.7%,#47145f 37.6%,#371144 39.7%,#2f1436 41.4%,#3a113a 43.5%,#61184b 44.8%,#862750 45.6%,#922f50 46.0%,#a84750 47.6%,#b65e54 49.4%,#ba6657 50.3%,#c0755e 52.6%,#c68a6d 59.8%,#cda78e 69.1%,#d7c3b8 91.9%,#d9c8c0 100.0%)"></i><i style="background:linear-gradient(90deg,#5f5eb3 0.0%,#5f58b0 14.0%,#5e46a6 25.6%,#5d3b9f 28.7%,#59288d 33.5%,#4c176b 37.1%,#431359 38.2%,#371143 39.9%,#2f1436 41.5%,#3a113a 43.6%,#481341 44.2%,#5f174a 44.8%,#882850 45.7%,#933050 46.1%,#a94850 47.7%,#b65e54 49.4%,#ba6657 50.3%,#c0755e 52.6%,#c78c6f 60.5%,#cda78e 69.0%,#d7c3b8 91.8%,#d9c8c0 100.0%)"></i><i style="background:linear-gradient(90deg,#5f5eb3 0.0%,#5f58b0 14.0%,#5e46a6 25.7%,#5d3b9f 28.9%,#5a2b90 33.1%,#572588 34.2%,#4d176d 37.1%,#421257 38.4%,#371143 40.0%,#2f1436 41.6%,#3a113a 43.8%,#60184a 44.9%,#781f4f 45.4%,#8b2a50 45.8%,#943150 46.2%,#a94850 47.7%,#b65e54 49.4%,#ba6657 50.3%,#c0755e 52.6%,#c78f72 61.3%,#cda78e 68.9%,#d7c3b8 91.7%,#d9c8c0 100.0%)"></i><i style="background:linear-gradient(90deg,#5f5eb3 0.0%,#5f58b0 14.0%,#5e47a7 25.2%,#5d3b9f 29.0%,#5a2b90 33.2%,#572588 34.3%,#4d176d 37.2%,#421257 38.5%,#3a1148 39.7%,#2f1436 41.7%,#3a113a 43.9%,#60184a 45.0%,#7a2050 45.5%,#902e50 46.0%,#a94950 47.8%,#b65e54 49.4%,#ba6657 50.3%,#c0755e 52.6%,#c68b6e 60.0%,#cda78e 68.8%,#d7c3b8 91.6%,#d9c8c0 100.0%)"></i><i style="background:linear-gradient(90deg,#5f5eb3 0.0%,#5f58b0 14.0%,#5e47a7 25.3%,#5d3a9e 29.4%,#5a2b90 33.3%,#572487 34.6%,#4e186f 37.2%,#421257 38.6%,#371143 40.3%,#2f1436 41.8%,#3a113a 44.0%,#5c1749 45.0%,#812450 45.7%,#912f50 46.1%,#aa4a50 47.9%,#b65e54 49.4%,#ba6657 50.3%,#c0755e 52.6%,#c78e71 60.7%,#cda78e 68.6%,#d7c3b8 91.5%,#d9c8c0 100.0%)"></i><i style="background:linear-gradient(90deg,#5f5eb3 0.0%,#5f58b0 14.0%,#5e47a7 25.3%,#5d3b9f 29.2%,#5a2b90 33.4%,#58268a 34.4%,#4d176d 37.5%,#421257 38.9%,#371143 40.4%,#2f1436 42.0%,#3a113a 44.1%,#41123d 44.4%,#61184b 45.2%,#882850 45.9%,#922f50 46.2%,#aa4a50 47.9%,#b65e54 49.4%,#ba6657 50.3%,#c0755e 52.6%,#c78e71 60.6%,#cda78e 68.4%,#d7c3b8 91.2%,#d9c8c0 100.0%)"></i><i style="background:linear-gradient(90deg,#5f5eb3 0.0%,#5f58b0 14.4%,#5e46a6 26.2%,#5c389d 30.1%,#5a2b90 33.8%,#572487 35.0%,#4e186f 37.6%,#411256 39.2%,#371143 40.6%,#2f1436 42.1%,#39113a 44.2%,#481341 44.7%,#61184b 45.3%,#8e2c50 46.1%,#983550 46.7%,#ab4b50 48.0%,#ba6557 50.1%,#c0755e 52.5%,#c89073 61.0%,#cda78e 67.8%,#d7c3b8 90.3%,#d9c8c0 100.0%)"></i><i style="background:linear-gradient(90deg,#5f5eb3 0.0%,#5f58b0 14.7%,#5e47a7 25.9%,#5c379c 30.7%,#5a2b90 34.1%,#562284 35.6%,#4e186f 37.9%,#411254 39.6%,#361142 40.9%,#2f1436 42.3%,#3a113a 44.4%,#4b1342 44.9%,#67194c 45.5%,#8f2d50 46.2%,#953250 46.6%,#ac4c50 48.1%,#b86255 49.6%,#bb6857 50.4%,#c0755e 52.4%,#c68a6d 58.9%,#cda78e 67.3%,#d7c3b8 89.5%,#d9c9c2 100.0%)"></i><i style="background:linear-gradient(90deg,#5f5eb3 0.0%,#5f58b0 15.1%,#5e46a6 26.8%,#5d3b9f 30.0%,#5a2b90 34.3%,#572588 35.4%,#4d176d 38.3%,#411254 39.8%,#34113e 41.6%,#2f1436 42.5%,#3a113a 44.5%,#4f1444 45.1%,#67194c 45.6%,#862750 46.1%,#8f2d50 46.4%,#9f3c50 47.2%,#a74650 47.7%,#b86255 49.6%,#bc6a58 50.7%,#c0755e 52.3%,#c78f72 59.9%,#cda78e 66.7%,#d7c3b8 88.6%,#d9c9c2 100.0%)"></i><i style="background:linear-gradient(90deg,#5f5eb3 0.0%,#5f58b0 15.4%,#5e47a7 26.5%,#5c389d 30.9%,#5a2b90 34.6%,#572385 36.0%,#4d176d 38.6%,#411256 40.0%,#391146 41.0%,#2f1436 42.7%,#3b113b 44.7%,#61184b 45.6%,#7a2050 46.0%,#902e50 46.5%,#9e3b50 47.2%,#a94850 47.9%,#b86155 49.5%,#bc6b59 50.8%,#c0755e 52.2%,#c68b6e 58.5%,#cda78e 66.0%,#d7c3b8 87.7%,#d9c9c2 100.0%)"></i><i style="background:linear-gradient(90deg,#5f5eb3 0.0%,#5f58b0 15.8%,#5e46a6 27.3%,#5c379c 31.6%,#5a2b90 34.9%,#552081 36.9%,#4d176d 39.0%,#401253 40.4%,#371144 41.5%,#2f1436 42.9%,#3b113b 44.8%,#61184b 45.7%,#8d2b50 46.5%,#9f3c50 47.3%,#a74650 47.8%,#b86155 49.5%,#be6f5b 51.2%,#c0755e 52.1%,#c78e71 58.9%,#cda78e 65.5%,#d7c3b8 86.9%,#dacac3 100.0%)"></i><i style="background:linear-gradient(90deg,#5f5eb3 0.0%,#5f58b0 16.1%,#5e46a6 27.6%,#5d3b9f 30.8%,#5a2b90 35.2%,#572487 36.5%,#4e186f 39.1%,#421257 40.4%,#361142 41.9%,#2f1436 43.1%,#3a113a 44.9%,#61184b 45.8%,#8e2c50 46.6%,#a13f50 47.5%,#b75f55 49.4%,#c0745d 51.8%,#c78e71 58.4%,#cda78e 64.9%,#d7c3b8 85.9%,#dacac3 100.0%)"></i><i style="background:linear-gradient(90deg,#5f5eb3 0.0%,#5f58b0 16.6%,#5e47a7 27.3%,#5c389d 31.8%,#5a2b90 35.5%,#551f7f 37.6%,#4e186f 39.4%,#3f1251 41.0%,#2f1436 43.2%,#3a113a 45.0%,#61184b 45.9%,#7d2150 46.4%,#8f2d50 46.7%,#a03e50 47.5%,#aa4a50 48.1%,#b96356 49.6%,#c0745d 51.7%,#c78f72 58.4%,#cda78e 64.3%,#d7c3b8 85.1%,#dacac3 100.0%)"></i><i style="background:linear-gradient(90deg,#5f5eb3 0.0%,#5f58b0 16.9%,#5e46a6 28.1%,#5c379c 32.4%,#5a2b90 35.7%,#551f7f 37.9%,#4d176d 39.8%,#411254 41.1%,#351140 42.5%,#2f1436 43.4%,#3c113b 45.2%,#61184b 46.0%,#8f2d50 46.8%,#a74650 47.9%,#b86255 49.5%,#c0745d 51.6%,#c68b6e 57.2%,#cda78e 63.6%,#d7c3b8 84.2%,#dacbc5 100.0%)"></i><i style="background:linear-gradient(90deg,#5f5eb3 0.0%,#5f58b0 17.3%,#5e47a7 27.8%,#5d3a9e 32.0%,#5a2b90 36.0%,#552081 38.0%,#4d176d 40.1%,#371144 42.4%,#2f1436 43.6%,#3b113b 45.3%,#521545 45.8%,#691a4d 46.2%,#902e50 46.9%,#a64550 47.9%,#b86255 49.5%,#c0745d 51.5%,#c78e71 57.4%,#cda78e 63.1%,#d7c3b8 83.3%,#dacbc5 100.0%)"></i><i style="background:linear-gradient(90deg,#5f5eb3 0.0%,#5f58b0 17.7%,#5e47a7 28.1%,#5c389d 32.6%,#5a2b90 36.4%,#531e7c 38.9%,#4d176d 40.4%,#3a1148 42.4%,#2f1436 43.9%,#3a113a 45.4%,#471340 45.7%,#691a4d 46.4%,#8d2b50 46.9%,#a54450 47.9%,#b86155 49.4%,#c0745d 51.4%,#c78c6f 56.8%,#cda78e 62.5%,#d7c3b8 82.5%,#dacbc5 100.0%)"></i><i style="background:linear-gradient(90deg,#5f5eb3 0.0%,#5f58b0 18.0%,#5e47a7 28.3%,#5d3ca0 31.9%,#5a2b90 36.7%,#562182 38.4%,#4e186f 40.5%,#361142 43.0%,#2f1436 44.1%,#3a113a 45.5%,#4b1342 45.9%,#691a4d 46.5%,#8e2c50 47.0%,#a54350 47.9%,#b86155 49.4%,#c0745d 51.2%,#c68a6d 55.9%,#cda78e 61.9%,#d7c3b8 81.6%,#dbcbc6 100.0%)"></i><i style="background:linear-gradient(90deg,#5f5eb3 0.0%,#5f58b0 18.4%,#5e47a7 28.6%,#5d3a9e 32.8%,#5a2b90 36.9%,#551f7f 39.1%,#4e186f 40.8%,#371144 43.1%,#2f1436 44.3%,#3c113b 45.7%,#63184b 46.5%,#8f2d50 47.1%,#a44250 47.9%,#b96356 49.5%,#c0745d 51.1%,#c78f72 56.6%,#cda78e 61.3%,#d7c3b8 80.7%,#dbcbc6 100.0%)"></i><i style="background:linear-gradient(90deg,#5f5eb3 0.0%,#5f58b0 18.8%,#5e46a6 29.5%,#5c389d 33.4%,#5a2b90 37.2%,#531d7a 39.9%,#4d176d 41.2%,#3b114a 43.0%,#2f1436 44.4%,#3b113b 45.8%,#63184b 46.6%,#7b2150 46.9%,#8f2d50 47.2%,#a74650 48.1%,#b86255 49.4%,#c0745d 51.0%,#c68b6e 55.5%,#cda78e 60.7%,#d7c3b8 79.8%,#dbcbc6 100.0%)"></i><i style="background:linear-gradient(90deg,#5f5eb3 0.0%,#5f58b0 19.2%,#5e47a7 29.2%,#5d3b9f 33.0%,#5a2b90 37.5%,#552081 39.5%,#4d176d 41.6%,#3a1149 43.3%,#2f1436 44.6%,#3a113a 45.9%,#63184b 46.7%,#842550 47.1%,#902e50 47.3%,#a64550 48.1%,#b86255 49.4%,#c0745d 50.9%,#c78e71 55.6%,#cda78e 60.1%,#d7c3b8 79.0%,#dbccc8 100.0%)"></i><i style="background:linear-gradient(90deg,#5f5eb3 0.0%,#5f58b0 19.5%,#5e47a7 29.5%,#5d3a9e 33.6%,#5a2b90 37.8%,#511b77 40.8%,#4d176d 41.9%,#381145 43.8%,#2f1436 44.8%,#3a113a 46.0%,#63184b 46.8%,#8d2b50 47.3%,#a54450 48.1%,#b86255 49.4%,#c0755e 50.9%,#c78e71 55.2%,#cda78e 59.5%,#d7c3b8 78.0%,#dbccc8 100.0%)"></i><i style="background:linear-gradient(90deg,#5f5eb3 0.0%,#5f58b0 19.9%,#5e47a7 29.7%,#5c389d 34.3%,#5a2b90 38.1%,#521c79 40.9%,#4e186f 42.0%,#3b114a 43.8%,#2f1436 45.0%,#381139 46.0%,#3d113c 46.2%,#63184b 46.9%,#8e2c50 47.4%,#a74650 48.2%,#b96456 49.5%,#c0755e 50.8%,#c78e71 54.9%,#cda78e 59.0%,#d7c3b8 77.2%,#dbccc8 100.0%)"></i><i style="background:linear-gradient(90deg,#5f5eb3 0.0%,#5f58b0 20.2%,#5e47a7 30.0%,#5d3b9f 33.9%,#5a2b90 38.3%,#551f7f 40.5%,#4e186f 42.3%,#3a1149 44.1%,#2f1436 45.2%,#3c113b 46.4%,#63184b 47.0%,#8f2d50 47.5%,#a34150 48.1%,#b96356 49.4%,#c0755e 50.7%,#c68b6e 54.2%,#cda78e 58.3%,#d7c3b8 76.2%,#dccdca 100.0%)"></i><i style="background:linear-gradient(90deg,#5f5eb3 0.0%,#5f58b0 20.6%,#5e46a6 30.8%,#5c379c 35.2%,#5a2b90 38.6%,#4f1970 42.4%,#4c176b 42.8%,#3d114e 44.1%,#361141 44.7%,#301437 45.4%,#3a113a 46.5%,#63184b 47.1%,#902e50 47.6%,#a54350 48.2%,#b96356 49.4%,#c0755e 50.6%,#c78e71 54.2%,#cda78e 57.7%,#d7c3b8 75.4%,#dccdca 100.0%)"></i><i style="background:linear-gradient(90deg,#5f5eb3 0.0%,#5f58b0 20.9%,#5e47a7 30.5%,#5d3ca0 34.1%,#5a2b90 39.0%,#552081 40.9%,#4d176d 43.0%,#3d114d 44.4%,#301437 45.6%,#3a113a 46.6%,#63184b 47.2%,#8b2a50 47.6%,#a64550 48.3%,#b86255 49.3%,#c0755e 50.5%,#c78c6f 53.6%,#cda78e 57.1%,#d7c3b8 74.6%,#dccdca 100.0%)"></i><i style="background:linear-gradient(90deg,#5f5eb3 0.0%,#5f58b0 21.4%,#5e47a7 30.8%,#5c389d 35.4%,#5a2b90 39.3%,#4f1972 42.8%,#4d176d 43.3%,#371144 45.0%,#301437 45.8%,#39113a 46.7%,#63184b 47.3%,#8c2a50 47.7%,#a54350 48.3%,#b86255 49.3%,#c0755e 50.4%,#c68a6d 53.0%,#cca58b 56.1%,#cda88f 57.2%,#d7c3b8 73.6%,#dccecb 100.0%)"></i><i style="background:linear-gradient(90deg,#5f5eb3 0.0%,#5f58b0 21.8%,#5e47a7 31.0%,#5d3a9e 35.3%,#5a2b90 39.5%,#501a74 42.9%,#4c1669 43.8%,#3a1148 45.1%,#2f1436 45.9%,#3c113b 46.9%,#64194b 47.4%,#8e2c50 47.8%,#a74650 48.4%,#b96356 49.3%,#c0765f 50.4%,#c78f72 53.2%,#cda78e 55.9%,#d7c3b8 72.8%,#dccecb 100.0%)"></i><i style="background:linear-gradient(90deg,#5f5eb3 0.0%,#5f58b0 22.1%,#5e47a7 31.4%,#5d3ca0 34.9%,#5a2b90 39.8%,#531d7a 42.5%,#4c1669 44.1%,#3a1149 45.3%,#2f1436 46.1%,#3b113b 47.0%,#64194b 47.5%,#8f2d50 47.9%,#a54450 48.4%,#b96356 49.3%,#c1775f 50.4%,#c68b6e 52.5%,#cda78e 55.3%,#d7c3b8 71.9%,#dccecb 100.0%)"></i><i style="background:linear-gradient(90deg,#5f5eb3 0.0%,#5f58b0 22.5%,#5e47a7 31.6%,#5c389d 36.2%,#5a2b90 40.1%,#4f1970 43.9%,#4c176b 44.3%,#3b114a 45.5%,#2f1436 46.4%,#3a113a 47.1%,#481341 47.3%,#64194b 47.6%,#7d2150 47.8%,#902e50 48.0%,#a84750 48.5%,#b86155 49.2%,#c0745d 50.0%,#c27c63 50.7%,#c78f72 52.5%,#cda78e 54.8%,#d7c3b8 71.0%,#dccfcd 100.0%)"></i><i style="background:linear-gradient(90deg,#5f5eb3 0.0%,#5f58b0 22.8%,#5e47a7 31.9%,#5d3da1 35.1%,#5a2b90 40.4%,#531e7c 42.9%,#4c176b 44.6%,#3a1148 45.8%,#301437 46.6%,#39113a 47.2%,#471340 47.4%,#64194b 47.7%,#8a2950 48.0%,#a64550 48.5%,#b86155 49.2%,#c0745d 49.9%,#c48267 51.0%,#cda78e 54.2%,#d7c3b8 70.1%,#dccfcd 100.0%)"></i><i style="background:linear-gradient(90deg,#5f5eb3 0.0%,#5f58b0 23.2%,#5e47a7 32.2%,#5d3ca0 35.7%,#5a2b90 40.7%,#4f1972 44.3%,#4d176d 44.8%,#3a1149 46.0%,#301437 46.8%,#3d113c 47.4%,#65194c 47.8%,#8b2a50 48.1%,#a54350 48.5%,#ac4d51 48.8%,#b86255 49.2%,#c0745d 49.8%,#c89073 51.8%,#cda78e 53.5%,#d7c3b8 69.3%,#dccfcd 100.0%)"></i><i style="background:linear-gradient(90deg,#5f5eb3 0.0%,#5f58b0 23.5%,#5e47a7 32.4%,#5d3b9f 36.4%,#5a2b90 40.9%,#501a74 44.4%,#4c1669 45.2%,#3b114a 46.2%,#31123a 46.8%,#311337 47.0%,#3b113b 47.5%,#65194c 47.9%,#812450 48.1%,#953250 48.3%,#a74650 48.6%,#b96356 49.2%,#c0745d 49.7%,#c89073 51.5%,#cca58b 52.7%,#cda78e 52.9%,#d7c3b8 68.4%,#ddd0ce 100.0%)"></i><i style="background:linear-gradient(90deg,#5f5eb3 0.0%,#5f58b0 24.0%,#5e47a7 32.7%,#5d3da1 35.9%,#5a2b90 41.2%,#531d7a 44.0%,#4c176b 45.4%,#3a1148 46.6%,#31123a 47.0%,#311337 47.2%,#3a113a 47.6%,#4d1443 47.8%,#65194c 48.0%,#832550 48.2%,#973450 48.4%,#a54450 48.6%,#b65e54 49.1%,#c0765f 49.7%,#c89174 51.1%,#cda68c 52.2%,#d7c3b8 67.5%,#ddd0ce 100.0%)"></i><i style="background:linear-gradient(90deg,#5f5eb3 0.0%,#5f58b0 24.3%,#5e48a8 32.4%,#5d3ca0 36.6%,#5a2b90 41.6%,#511a75 44.8%,#4c176b 45.7%,#381145 46.9%,#2f1436 47.3%,#39113a 47.7%,#4b1342 47.9%,#67194c 48.1%,#912f50 48.4%,#a24050 48.6%,#b35752 49.0%,#ba6557 49.2%,#c0745d 49.5%,#c78c6f 50.5%,#cca58b 51.6%,#d7c3b8 66.7%,#ddd0ce 100.0%)"></i><i style="background:linear-gradient(90deg,#5f5eb3 0.0%,#5f58b0 24.7%,#5e47a7 33.2%,#5d3b9f 37.2%,#5a2b90 41.9%,#4d176d 45.9%,#391146 47.1%,#2f1436 47.5%,#3e113c 47.9%,#67194c 48.2%,#872750 48.4%,#9e3b50 48.6%,#b86155 49.1%,#c1775f 49.5%,#c89073 50.3%,#cda68c 51.0%,#d7c3b8 65.7%,#ddd0cf 100.0%)"></i><i style="background:linear-gradient(90deg,#5f5eb3 0.0%,#5f58b0 25.0%,#5e47a7 33.5%,#5d3a9e 37.8%,#5a2b90 42.1%,#4d176d 46.2%,#3a1149 47.3%,#301437 47.7%,#3c113b 48.0%,#67194c 48.3%,#8a2950 48.5%,#973450 48.6%,#ab4b50 48.9%,#b86255 49.1%,#c0745d 49.3%,#c68a6d 49.8%,#cda78e 50.5%,#d7c3b8 64.9%,#ddd0cf 100.0%)"></i><i style="background:linear-gradient(90deg,#5f5eb3 0.0%,#5f58b0 25.4%,#5e48a8 33.2%,#5d3ca0 37.4%,#5a2b90 42.4%,#4e186f 46.4%,#4c176b 46.6%,#3c114b 47.5%,#34113e 47.7%,#311337 47.9%,#3a113a 48.1%,#681a4d 48.4%,#7b2150 48.5%,#9c3950 48.8%,#b25652 49.0%,#c0745d 49.2%,#c68b6e 49.5%,#cca287 49.8%,#cda68c 49.9%,#d7c3b8 64.0%,#ddd0cf 100.0%)"></i><i style="background:linear-gradient(90deg,#5f5eb3 0.0%,#5f58b0 25.4%,#5e47a7 33.8%,#5d3a9e 38.1%,#5a2b90 42.4%,#4f1970 46.2%,#4c176b 46.7%,#3d114d 47.5%,#2f1436 47.9%,#381139 48.1%,#41123d 48.2%,#721d4f 48.5%,#953250 48.8%,#af5151 49.0%,#c17960 49.3%,#c89073 49.6%,#cda68c 49.9%,#d7c3b8 64.0%,#ddd0cf 100.0%)"></i><i style="background:linear-gradient(90deg,#5f5eb3 0.0%,#5f58b0 25.4%,#5e48a8 33.2%,#5d3ca0 37.4%,#5a2b90 42.4%,#4e186f 46.5%,#471461 47.0%,#3b114a 47.6%,#301338 47.9%,#321237 48.0%,#3d113c 48.2%,#6b1b4d 48.5%,#8e2c50 48.8%,#9e3b50 48.9%,#b35953 49.1%,#c0755e 49.3%,#c58569 49.5%,#cca58b 49.9%,#cda78e 50.0%,#d7c3b8 64.0%,#ddd0cf 100.0%)"></i><i style="background:linear-gradient(90deg,#5f5eb3 0.0%,#5f58b0 25.4%,#5e48a8 33.2%,#5d3ca0 37.4%,#5a2b90 42.4%,#4f1972 46.1%,#4d176d 46.7%,#3d114d 47.6%,#34113f 47.8%,#311337 48.0%,#3a113a 48.2%,#531545 48.4%,#751e4f 48.6%,#872750 48.8%,#a54450 49.0%,#b86155 49.2%,#be705b 49.3%,#c27a61 49.4%,#ca9a7d 49.8%,#cda68c 50.0%,#d7c3b8 64.0%,#ddd0cf 100.0%)"></i><i style="background:linear-gradient(90deg,#5f5eb3 0.0%,#5f58b0 25.5%,#5e43a5 35.1%,#5b3196 40.1%,#562182 47.1%,#59288d 47.3%,#5e46a6 47.8%,#5f64b5 48.0%,#6580bd 48.2%,#759ac1 48.4%,#9ab8c8 48.8%,#cbd2d7 49.4%,#ccd2d8 49.5%,#d7d7dd 57.7%,#d1d5da 100.0%)"></i><i style="background:linear-gradient(90deg,#5f5eb3 0.0%,#5f59b1 25.0%,#5e48a8 33.9%,#5b3298 40.0%,#572487 45.3%,#572385 47.0%,#59298e 47.2%,#5e4ba9 47.8%,#5f64b5 48.0%,#6786be 48.3%,#7499c1 48.5%,#93b4c6 48.9%,#c5cfd5 49.6%,#c9d1d7 49.7%,#d7d7dd 58.2%,#d0d4d9 100.0%)"></i><i style="background:linear-gradient(90deg,#5f5eb3 0.0%,#5f59b1 25.2%,#5e49a9 33.8%,#5c379c 38.5%,#572588 45.3%,#572588 46.9%,#5b2f94 47.2%,#5e47a7 47.7%,#5f62b4 48.0%,#647ebc 48.3%,#7398c1 48.6%,#8cafc5 49.0%,#c1cdd3 49.8%,#c8d0d6 50.0%,#d6d7dd 57.9%,#d0d4d9 100.0%)"></i><i style="background:linear-gradient(90deg,#5f5eb3 0.0%,#5f59b1 25.4%,#5e4caa 33.3%,#5d3a9e 37.9%,#5b3095 42.0%,#58268a 45.2%,#58268a 46.8%,#5d3a9e 47.3%,#5e49a9 47.7%,#606ab7 48.1%,#6888be 48.5%,#7da3c3 49.0%,#8cafc5 49.2%,#c2ced4 50.1%,#c5cfd5 50.2%,#d6d7dd 58.3%,#ced3d9 100.0%)"></i><i style="background:linear-gradient(90deg,#5f5eb3 0.0%,#5f5ab1 24.8%,#5e4dab 33.2%,#5d3a9e 38.2%,#58278b 45.2%,#59288d 46.7%,#5e4dab 47.7%,#5f62b4 48.0%,#6683bd 48.5%,#7094c0 48.9%,#86aac4 49.3%,#beccd2 50.3%,#c4ced4 50.6%,#d5d6dc 58.1%,#cdd3d8 100.0%)"></i><i style="background:linear-gradient(90deg,#5f5eb3 0.0%,#5f5ab1 25.1%,#5e4eab 33.1%,#5d3ca0 37.6%,#59298e 44.8%,#59298e 45.9%,#592a8f 46.6%,#5d41a3 47.3%,#5e51ad 47.7%,#6683bd 48.6%,#6e92c0 49.0%,#80a5c3 49.4%,#97b7c7 49.9%,#bfccd3 50.6%,#c1cdd3 50.7%,#d5d6dc 58.3%,#cdd3d8 100.0%)"></i><i style="background:linear-gradient(90deg,#5f5eb3 0.0%,#5f5ab1 25.4%,#5e51ad 32.7%,#5d3ea1 37.0%,#592a8f 45.5%,#5b2f94 46.6%,#5e4eab 47.6%,#6170b9 48.3%,#6887be 48.9%,#80a5c3 49.6%,#8cafc5 49.9%,#beccd2 50.9%,#d4d6dc 58.2%,#ccd2d8 100.0%)"></i><i style="background:linear-gradient(90deg,#5f5eb3 0.0%,#5f5ab1 25.7%,#5e52ad 32.5%,#5d40a2 36.8%,#5a2b90 45.3%,#5b2f94 46.4%,#5c3499 46.6%,#5e4dab 47.5%,#6066b6 48.1%,#6682bd 48.9%,#7195c0 49.4%,#7ea4c3 49.8%,#9cb9c8 50.5%,#bbcad1 51.1%,#bccbd1 51.4%,#d3d6db 58.0%,#cbd2d7 100.0%)"></i><i style="background:linear-gradient(90deg,#5f5eb3 0.0%,#5f5bb2 25.0%,#5e54ae 32.0%,#5d41a3 36.6%,#5a2d92 45.2%,#5b3196 46.2%,#5e4fac 47.5%,#6580bd 49.0%,#6e92c0 49.5%,#80a5c3 50.1%,#b9c9d0 51.5%,#d3d6db 58.2%,#c9d1d7 100.0%)"></i><i style="background:linear-gradient(90deg,#5f5eb3 0.0%,#5f5bb2 25.4%,#5f55af 32.0%,#5e43a5 35.9%,#5a2e93 45.1%,#5c359a 46.2%,#5f5bb2 47.8%,#6786be 49.3%,#789ec2 50.1%,#89adc5 50.6%,#b6c8cf 51.7%,#b8c9d0 51.9%,#d2d5db 58.1%,#c9d1d7 100.0%)"></i><i style="background:linear-gradient(90deg,#5f5eb3 0.0%,#5f5db2 20.7%,#5f57b0 31.2%,#5e43a5 36.1%,#5b3095 45.2%,#5c369b 46.2%,#5f5eb3 47.9%,#6277bb 49.0%,#6888be 49.6%,#7ea4c3 50.6%,#b3c6ce 52.0%,#b8c9d0 52.3%,#d1d5da 58.5%,#c8d0d6 100.0%)"></i><i style="background:linear-gradient(90deg,#5f5eb3 0.0%,#5f5db2 23.5%,#5f57b0 31.7%,#5e43a5 36.5%,#5b3196 45.0%,#5d3a9e 46.4%,#5f5db2 47.9%,#6888be 49.8%,#789ec2 50.7%,#8eb1c5 51.5%,#b5c7cf 52.4%,#b8c9d0 52.7%,#d0d4d9 59.0%,#c5cfd5 100.0%)"></i><i style="background:linear-gradient(90deg,#5f5eb3 0.0%,#5f5db2 25.2%,#5f57b0 32.0%,#5e45a6 36.4%,#5c3499 45.1%,#5d3b9f 46.4%,#5f5bb2 47.8%,#6276ba 49.2%,#698abf 50.1%,#7da3c3 51.2%,#91b2c6 51.9%,#b6c8cf 52.8%,#ced3d9 59.5%,#c4ced4 100.0%)"></i><i style="background:linear-gradient(90deg,#5f5eb3 0.0%,#5f5db2 25.5%,#5f58b0 31.0%,#5e46a6 36.4%,#5c359a 45.0%,#5d40a2 46.6%,#5f60b4 48.0%,#6278bb 49.4%,#6a8bbf 50.3%,#7da3c3 51.6%,#9ab8c8 52.5%,#b6c8cf 53.2%,#cdd3d8 60.0%,#c2ced4 100.0%)"></i><i style="background:linear-gradient(90deg,#5f5eb3 0.0%,#5f5db2 25.9%,#5f57b0 32.2%,#5e47a7 36.2%,#5c379c 45.0%,#5d41a3 46.6%,#5f5fb3 47.9%,#6275ba 49.3%,#6989be 50.4%,#7da3c3 51.9%,#99b8c8 52.8%,#b6c8cf 53.6%,#ccd2d8 60.4%,#c1cdd3 100.0%)"></i><i style="background:linear-gradient(90deg,#5f5eb3 0.0%,#5f5db2 26.2%,#5f58b0 31.8%,#5e48a8 36.1%,#5d3a9e 45.1%,#5e43a5 46.7%,#5f61b4 48.0%,#637abb 49.7%,#6a8bbf 50.7%,#82a7c3 52.4%,#b6c8cf 54.1%,#cbd2d7 60.9%,#bfccd3 100.0%)"></i><i style="background:linear-gradient(90deg,#5f5eb3 0.0%,#5f5eb3 25.3%,#5f58b0 32.0%,#5e49a9 36.0%,#5d3b9f 45.0%,#5e47a7 46.8%,#6066b6 48.2%,#647cbc 49.9%,#6c8fbf 51.1%,#82a7c3 52.7%,#b6c8cf 54.5%,#c9d1d7 61.4%,#beccd2 100.0%)"></i><i style="background:linear-gradient(90deg,#5f5eb3 0.0%,#5f5eb3 25.7%,#5f58b0 32.1%,#5e49a9 36.6%,#5d3da1 45.0%,#5e49a9 46.9%,#6067b6 48.2%,#6a8bbf 51.0%,#7fa5c3 52.8%,#8db0c5 53.4%,#b6c8cf 54.8%,#c8d0d6 61.9%,#bccbd1 100.0%)"></i><i style="background:linear-gradient(90deg,#5f5eb3 0.0%,#5f5eb3 26.0%,#5f59b1 31.6%,#5e4ba9 36.4%,#5d40a2 45.1%,#5e4ba9 46.9%,#6068b6 48.2%,#6b8cbf 51.2%,#84a8c4 53.3%,#95b5c7 54.1%,#b6c8cf 55.2%,#c5cfd5 61.8%,#bbcad1 100.0%)"></i><i style="background:linear-gradient(90deg,#5f5eb3 0.0%,#5f5eb3 26.2%,#5f59b1 31.9%,#5e4caa 36.2%,#5d41a3 45.0%,#5e4caa 46.9%,#606ab7 48.3%,#637bbc 49.9%,#6c8ebf 51.5%,#85a9c4 53.5%,#b5c7cf 55.4%,#c4ced4 62.0%,#b9c9d0 100.0%)"></i><i style="background:linear-gradient(90deg,#5f5eb3 0.0%,#5f5eb3 26.4%,#5f59b1 32.1%,#5e4dab 36.0%,#5d42a4 45.0%,#5e4dab 46.9%,#606ab7 48.3%,#6580bd 50.4%,#6c8fbf 51.6%,#82a7c3 53.4%,#96b6c7 54.4%,#b2c6ce 55.4%,#c2ced4 62.1%,#b8c9d0 100.0%)"></i><i style="background:linear-gradient(90deg,#5f5eb3 0.0%,#5f5eb3 26.4%,#5f59b1 32.2%,#5e4dab 36.6%,#5e43a5 45.1%,#5e4eab 46.9%,#606ab7 48.3%,#6b8cbf 51.4%,#81a6c3 53.4%,#adc3cd 55.4%,#b0c5cd 55.7%,#c1cdd3 62.1%,#b8c9d0 100.0%)"></i><i style="background:linear-gradient(90deg,#5f5eb3 0.0%,#5f5eb3 26.5%,#5f5ab1 31.6%,#5e4eab 36.2%,#5e45a6 45.1%,#5e4fac 46.9%,#606ab7 48.3%,#6b8dbf 51.5%,#82a7c3 53.5%,#adc3cd 55.6%,#bfccd3 62.2%,#b6c8cf 100.0%)"></i><i style="background:linear-gradient(90deg,#5f5eb3 0.0%,#5f5eb3 26.6%,#5f5ab1 32.0%,#5e4fac 36.0%,#5e46a6 45.1%,#5e4fac 46.8%,#606ab7 48.3%,#6a8bbf 51.4%,#7ea4c3 53.3%,#aac2cc 55.6%,#bccbd1 61.7%,#b5c7cf 100.0%)"></i><i style="background:linear-gradient(90deg,#5f5eb3 0.0%,#5f5eb3 26.8%,#5f5ab1 32.1%,#5e4fac 36.6%,#5e47a7 45.0%,#5e51ad 46.8%,#606ab7 48.3%,#6b8cbf 51.5%,#7da3c3 53.3%,#a4beca 55.5%,#a9c1cb 56.0%,#bbcad1 61.8%,#b5c7cf 100.0%)"></i><i style="background:linear-gradient(90deg,#5f5eb3 0.0%,#5f5eb3 26.9%,#5f5ab1 32.3%,#5e51ad 36.4%,#5e48a8 45.0%,#5e52ad 46.8%,#606ab7 48.3%,#6989be 51.2%,#7ba1c2 53.2%,#a3beca 55.6%,#a6bfca 56.0%,#b9c9d0 61.8%,#b3c6ce 100.0%)"></i><i style="background:linear-gradient(90deg,#5f5eb3 0.0%,#5f5eb3 27.1%,#5f5bb2 31.7%,#5e51ad 37.0%,#5e49a9 45.0%,#5e53ae 46.8%,#606ab7 48.3%,#6786be 51.0%,#7aa0c2 53.2%,#a3beca 55.9%,#b8c9d0 61.8%,#b3c6ce 100.0%)"></i><i style="background:linear-gradient(90deg,#5f5eb3 0.0%,#5f5eb3 27.3%,#5f5bb2 32.1%,#5e52ad 36.8%,#5e4ba9 45.0%,#5e54ae 46.8%,#606ab7 48.3%,#6888be 51.2%,#7ea4c3 53.6%,#9ab8c8 55.5%,#a0bcc9 55.9%,#a3beca 56.7%,#b5c7cf 61.5%,#b2c6ce 100.0%)"></i><i style="background:linear-gradient(90deg,#5f5eb3 0.0%,#5f5eb3 27.5%,#5f5bb2 32.3%,#5e53ae 36.5%,#5e4caa 45.0%,#5e54ae 46.7%,#606ab7 48.3%,#6684bd 50.9%,#7ea4c3 53.8%,#9dbac8 55.9%,#a7c0cb 58.4%,#b3c6ce 61.5%,#b0c5cd 100.0%)"></i><i style="background:linear-gradient(90deg,#5f5eb3 0.0%,#5f5eb3 27.8%,#5f5bb2 32.5%,#5e4eab 42.1%,#5e4eab 45.2%,#5f55af 46.7%,#606cb8 48.4%,#6887be 51.2%,#7fa5c3 54.0%,#9ab8c8 55.9%,#b2c6ce 61.5%,#b0c5cd 100.0%)"></i><i style="background:linear-gradient(90deg,#5f5eb3 0.0%,#5f5eb3 28.2%,#5f5db2 31.9%,#5e4fac 42.0%,#5e4fac 45.2%,#5f57b0 46.7%,#606ab7 48.3%,#6682bd 50.8%,#759ac1 53.0%,#97b7c7 56.0%,#b0c5cd 61.5%,#afc4cd 100.0%)"></i><i style="background:linear-gradient(90deg,#5f5eb3 0.0%,#5f5eb3 28.9%,#5e51ad 41.9%,#5e51ad 45.1%,#5f58b0 46.7%,#6786be 51.2%,#7398c1 52.9%,#96b6c7 56.1%,#adc3cd 61.1%,#adc3cd 100.0%)"></i><i style="background:linear-gradient(90deg,#5f5eb3 0.0%,#5f5eb3 29.6%,#5e52ad 41.7%,#5e52ad 45.1%,#5f5bb2 47.0%,#6580bd 50.8%,#779dc2 53.5%,#93b4c6 56.1%,#acc2cc 61.1%,#adc3cd 100.0%)"></i><i style="background:linear-gradient(90deg,#5f5eb3 0.0%,#5f5eb3 30.7%,#5e53ae 41.7%,#5e53ae 45.1%,#5f5bb2 46.9%,#6786be 51.4%,#7fa5c3 54.6%,#8eb1c5 55.9%,#aac2cc 61.1%,#acc2cc 100.0%)"></i><i style="background:linear-gradient(90deg,#5f5eb3 0.0%,#5f5eb3 32.1%,#5e54ae 41.6%,#5e54ae 45.1%,#5f5bb2 46.8%,#657fbd 50.8%,#789ec2 54.0%,#8eb1c5 56.2%,#a9c1cb 61.0%,#acc2cc 100.0%)"></i><i style="background:linear-gradient(90deg,#5f5eb3 0.0%,#5f5eb3 32.4%,#5f55af 45.1%,#5f5db2 46.8%,#6785be 51.4%,#7aa0c2 54.4%,#8cafc5 56.2%,#a7c0cb 61.0%,#aac2cc 100.0%)"></i><i style="background:linear-gradient(90deg,#5f5eb3 0.0%,#5f5eb3 32.8%,#5f57b0 45.0%,#5f5eb3 46.8%,#6276ba 50.0%,#6682bd 51.1%,#769cc1 54.1%,#89adc5 56.2%,#a4beca 60.8%,#a9c1cb 100.0%)"></i><i style="background:linear-gradient(90deg,#5f5eb3 0.0%,#5f5eb3 33.4%,#5f58b0 45.0%,#5f5eb3 46.7%,#6275ba 49.9%,#6684bd 51.4%,#769cc1 54.3%,#86aac4 56.1%,#a3beca 60.7%,#a9c1cb 100.0%)"></i></div>
<svg width="1254" height="1520" viewBox="0 0 1254 1520" font-family="Liberation Sans, sans-serif">
<defs><linearGradient id="gv" x1="0" y1="0" x2="0" y2="1">
<stop offset="0" stop-color="#f7f7f7"/><stop offset="1" stop-color="#c6c7c9"/></linearGradient>
<linearGradient id="gvs" x1="0" y1="0" x2="0" y2="1">
<stop offset="0" stop-color="#f2f2f2"/><stop offset="1" stop-color="#6f7072"/></linearGradient>
<linearGradient id="gh" x1="0" y1="0" x2="1" y2="0">
<stop offset="0" stop-color="#c6c7c9"/><stop offset="1" stop-color="#f3f3f4"/></linearGradient>
<linearGradient id="ghs" x1="0" y1="0" x2="1" y2="0">
<stop offset="0" stop-color="#6f7072"/><stop offset="1" stop-color="#f2f2f2"/></linearGradient>
<linearGradient id="gax" x1="0" y1="0" x2="1" y2="0">
<stop offset="0" stop-color="#3a3a3a"/><stop offset="0.62" stop-color="#3a3a3a"/><stop offset="1" stop-color="#3a3a3a" stop-opacity="0"/></linearGradient>
<linearGradient id="gay" x1="0" y1="0" x2="0" y2="1">
<stop offset="0" stop-color="#3a3a3a" stop-opacity="0"/><stop offset="0.06" stop-color="#3a3a3a"/><stop offset="1" stop-color="#3a3a3a"/></linearGradient><clipPath id="clipb"><rect x="671.0" y="84.0" width="434.5" height="447.0"/></clipPath><linearGradient id="cbb" x1="0" y1="0" x2="0" y2="1"><stop offset="0.000" stop-color="#e2d9e2"/><stop offset="0.025" stop-color="#dad8df"/><stop offset="0.050" stop-color="#ccd2d8"/><stop offset="0.075" stop-color="#b9c9d0"/><stop offset="0.100" stop-color="#a6bfca"/><stop offset="0.125" stop-color="#95b5c7"/><stop offset="0.150" stop-color="#85a9c4"/><stop offset="0.175" stop-color="#779dc2"/><stop offset="0.200" stop-color="#6d90c0"/><stop offset="0.225" stop-color="#6684bd"/><stop offset="0.250" stop-color="#6276ba"/><stop offset="0.275" stop-color="#6067b6"/><stop offset="0.300" stop-color="#5f58b0"/><stop offset="0.325" stop-color="#5e49a9"/><stop offset="0.350" stop-color="#5d3a9e"/><stop offset="0.375" stop-color="#592a8f"/><stop offset="0.400" stop-color="#531e7c"/><stop offset="0.425" stop-color="#4b1668"/><stop offset="0.450" stop-color="#401253"/><stop offset="0.475" stop-color="#361142"/><stop offset="0.500" stop-color="#2f1436"/><stop offset="0.525" stop-color="#371139"/><stop offset="0.550" stop-color="#43123e"/><stop offset="0.575" stop-color="#531545"/><stop offset="0.600" stop-color="#64194b"/><stop offset="0.625" stop-color="#741e4f"/><stop offset="0.650" stop-color="#842550"/><stop offset="0.675" stop-color="#922f50"/><stop offset="0.700" stop-color="#9f3c50"/><stop offset="0.725" stop-color="#a94850"/><stop offset="0.750" stop-color="#b25652"/><stop offset="0.775" stop-color="#ba6557"/><stop offset="0.800" stop-color="#c0755e"/><stop offset="0.825" stop-color="#c58468"/><stop offset="0.850" stop-color="#c89477"/><stop offset="0.875" stop-color="#cca389"/><stop offset="0.900" stop-color="#d0b39e"/><stop offset="0.925" stop-color="#d5c0b3"/><stop offset="0.950" stop-color="#dbccc8"/><stop offset="0.975" stop-color="#e0d6d9"/><stop offset="1.000" stop-color="#e2d9e2"/></linearGradient><filter id="fb4" filterUnits="userSpaceOnUse" color-interpolation-filters="sRGB" x="-40" y="-40" width="490" height="480"><feGaussianBlur stdDeviation="4"/></filter><filter id="fb5" filterUnits="userSpaceOnUse" color-interpolation-filters="sRGB" x="-40" y="-40" width="490" height="480"><feGaussianBlur stdDeviation="5"/></filter><filter id="fb6" filterUnits="userSpaceOnUse" color-interpolation-filters="sRGB" x="-40" y="-40" width="490" height="480"><feGaussianBlur stdDeviation="6"/></filter><filter id="fb8" filterUnits="userSpaceOnUse" color-interpolation-filters="sRGB" x="-40" y="-40" width="490" height="480"><feGaussianBlur stdDeviation="8"/></filter><filter id="fb10" filterUnits="userSpaceOnUse" color-interpolation-filters="sRGB" x="-40" y="-40" width="490" height="480"><feGaussianBlur stdDeviation="10"/></filter><filter id="fb2" filterUnits="userSpaceOnUse" color-interpolation-filters="sRGB" x="-40" y="-40" width="490" height="480"><feGaussianBlur stdDeviation="2.2"/></filter><filter id="fb3" filterUnits="userSpaceOnUse" color-interpolation-filters="sRGB" x="-40" y="-40" width="490" height="480"><feGaussianBlur stdDeviation="3"/></filter><filter id="fb1" filterUnits="userSpaceOnUse" color-interpolation-filters="sRGB" x="-40" y="-40" width="490" height="480"><feGaussianBlur stdDeviation="0.8"/></filter><filter id="fb05" filterUnits="userSpaceOnUse" color-interpolation-filters="sRGB" x="-40" y="-40" width="490" height="480"><feGaussianBlur stdDeviation="0.5"/></filter><filter id="fb15" filterUnits="userSpaceOnUse" color-interpolation-filters="sRGB" x="-40" y="-40" width="490" height="480"><feGaussianBlur stdDeviation="1.5"/></filter><clipPath id="cpc"><rect x="0" y="0" width="401.8" height="391.2"/></clipPath><clipPath id="cpd"><rect x="0" y="0" width="401.8" height="391.2"/></clipPath><clipPath id="cpe"><rect x="0" y="0" width="401.8" height="391.2"/></clipPath><clipPath id="cpf"><rect x="0" y="0" width="401.8" height="391.2"/></clipPath><pattern id="msc" patternUnits="userSpaceOnUse" x="186.0" y="107.5" width="35.167" height="34.667"><rect x="0.00" y="0.00" width="35.17" height="34.67" fill="#f37f1e" opacity="1"/><rect x="0.00" y="0.00" width="2.60" height="34.67" fill="#d51e28" opacity="1"/><rect x="0.00" y="0.00" width="35.17" height="1.20" fill="#e92429" opacity="0.8"/><rect x="0.00" y="11.00" width="35.17" height="1.20" fill="#e92429" opacity="0.8"/><rect x="0.00" y="22.50" width="35.17" height="1.20" fill="#e92429" opacity="0.8"/><rect x="20.80" y="0.00" width="1.40" height="34.67" fill="#ea2828" opacity="0.9"/><rect x="31.90" y="0.00" width="2.20" height="34.67" fill="#bd1c24" opacity="0.9"/><rect x="10.50" y="0.00" width="1.00" height="34.67" fill="#eb3027" opacity="0.7"/><rect x="14.60" y="1.80" width="3.40" height="8.40" fill="#f3dd0a" opacity="1"/><rect x="15.20" y="5.03" width="2.20" height="2.40" fill="#f0e351" opacity="0.9"/><rect x="14.60" y="12.80" width="3.40" height="8.80" fill="#f0e010" opacity="1"/><rect x="15.20" y="16.63" width="2.20" height="2.40" fill="#f0e351" opacity="0.9"/><rect x="14.60" y="24.20" width="3.40" height="9.00" fill="#f1df0e" opacity="1"/><rect x="15.20" y="27.97" width="2.20" height="2.40" fill="#f0e351" opacity="0.9"/><rect x="25.60" y="1.80" width="3.40" height="8.40" fill="#f8d401" opacity="1"/><rect x="26.20" y="4.20" width="2.20" height="2.40" fill="#f0e351" opacity="0.9"/><rect x="25.60" y="12.80" width="3.40" height="8.80" fill="#f0e129" opacity="1"/><rect x="26.20" y="15.75" width="2.20" height="2.40" fill="#f0e351" opacity="0.9"/><rect x="25.60" y="24.20" width="3.40" height="9.00" fill="#f0e126" opacity="1"/><rect x="26.20" y="25.54" width="2.20" height="2.40" fill="#f0e351" opacity="0.9"/><rect x="4.60" y="3.00" width="1.80" height="2.00" fill="#f8ba0c" opacity="0.9"/><rect x="4.60" y="14.00" width="1.80" height="2.00" fill="#f8ba0c" opacity="0.9"/><rect x="4.60" y="25.00" width="1.80" height="2.00" fill="#f8ba0c" opacity="0.9"/><rect x="7.80" y="3.00" width="1.80" height="2.00" fill="#f8ba0c" opacity="0.9"/><rect x="7.80" y="14.00" width="1.80" height="2.00" fill="#f8ba0c" opacity="0.9"/><rect x="7.80" y="25.00" width="1.80" height="2.00" fill="#f8ba0c" opacity="0.9"/></pattern><pattern id="msd" patternUnits="userSpaceOnUse" x="186.0" y="107.5" width="34.667" height="35.167"><rect x="0.00" y="0.00" width="34.67" height="35.17" fill="#f37f1e" opacity="1"/><rect x="0.00" y="0.00" width="34.67" height="2.60" fill="#d51e28" opacity="1"/><rect x="0.00" y="0.00" width="1.20" height="35.17" fill="#e92429" opacity="0.8"/><rect x="11.00" y="0.00" width="1.20" height="35.17" fill="#e92429" opacity="0.8"/><rect x="22.50" y="0.00" width="1.20" height="35.17" fill="#e92429" opacity="0.8"/><rect x="0.00" y="20.80" width="34.67" height="1.40" fill="#ea2828" opacity="0.9"/><rect x="0.00" y="31.90" width="34.67" height="2.20" fill="#bd1c24" opacity="0.9"/><rect x="0.00" y="10.50" width="34.67" height="1.00" fill="#eb3027" opacity="0.7"/><rect x="1.80" y="14.60" width="8.40" height="3.40" fill="#f5db05" opacity="1"/><rect x="3.92" y="15.20" width="2.40" height="2.20" fill="#f0e351" opacity="0.9"/><rect x="12.80" y="14.60" width="8.80" height="3.40" fill="#f8d003" opacity="1"/><rect x="16.40" y="15.20" width="2.40" height="2.20" fill="#f0e351" opacity="0.9"/><rect x="24.20" y="14.60" width="9.00" height="3.40" fill="#f8c906" opacity="1"/><rect x="26.71" y="15.20" width="2.40" height="2.20" fill="#f0e351" opacity="0.9"/><rect x="1.80" y="25.60" width="8.40" height="3.40" fill="#f0e126" opacity="1"/><rect x="3.04" y="26.20" width="2.40" height="2.20" fill="#f0e351" opacity="0.9"/><rect x="12.80" y="25.60" width="8.80" height="3.40" fill="#f1df0f" opacity="1"/><rect x="15.65" y="26.20" width="2.40" height="2.20" fill="#f0e351" opacity="0.9"/><rect x="24.20" y="25.60" width="9.00" height="3.40" fill="#f8d501" opacity="1"/><rect x="26.34" y="26.20" width="2.40" height="2.20" fill="#f0e351" opacity="0.9"/><rect x="3.00" y="4.60" width="2.00" height="1.80" fill="#f8ba0c" opacity="0.9"/><rect x="14.00" y="4.60" width="2.00" height="1.80" fill="#f8ba0c" opacity="0.9"/><rect x="25.00" y="4.60" width="2.00" height="1.80" fill="#f8ba0c" opacity="0.9"/><rect x="3.00" y="7.80" width="2.00" height="1.80" fill="#f8ba0c" opacity="0.9"/><rect x="14.00" y="7.80" width="2.00" height="1.80" fill="#f8ba0c" opacity="0.9"/><rect x="25.00" y="7.80" width="2.00" height="1.80" fill="#f8ba0c" opacity="0.9"/></pattern><pattern id="mse" patternUnits="userSpaceOnUse" x="186.0" y="107.5" width="35.167" height="34.667"><rect x="0.00" y="0.00" width="35.17" height="34.67" fill="#0c0b09" opacity="1"/><rect x="0.60" y="1.00" width="1.80" height="32.67" fill="#bd1c24" opacity="1"/><rect x="0.60" y="0.80" width="4.20" height="1.50" fill="#ed3b25" opacity="1"/><rect x="0.60" y="9.90" width="4.20" height="1.50" fill="#ed3b25" opacity="1"/><rect x="0.60" y="12.20" width="4.20" height="1.50" fill="#ed3b25" opacity="1"/><rect x="0.60" y="21.30" width="4.20" height="1.50" fill="#ed3b25" opacity="1"/><rect x="0.60" y="23.60" width="4.20" height="1.50" fill="#ed3b25" opacity="1"/><rect x="0.60" y="32.60" width="4.20" height="1.50" fill="#ed3b25" opacity="1"/><rect x="15.40" y="1.00" width="1.60" height="32.67" fill="#b01a22" opacity="0.9"/><rect x="26.60" y="1.00" width="1.60" height="32.67" fill="#b01a22" opacity="0.9"/><rect x="31.00" y="1.00" width="1.60" height="32.67" fill="#b01a22" opacity="0.9"/><rect x="11.00" y="2.20" width="2.30" height="2.30" fill="#e92729" opacity="1"/><rect x="11.00" y="10.60" width="2.30" height="2.30" fill="#e8212a" opacity="1"/><rect x="11.00" y="15.00" width="2.30" height="2.30" fill="#b71b23" opacity="1"/><rect x="11.00" y="19.20" width="2.30" height="2.30" fill="#eb2f27" opacity="1"/><rect x="11.00" y="27.80" width="2.30" height="2.30" fill="#cd1e27" opacity="1"/><rect x="11.00" y="31.60" width="2.30" height="2.30" fill="#ee4c24" opacity="1"/><rect x="15.00" y="2.20" width="2.30" height="2.30" fill="#f8b20f" opacity="1"/><rect x="15.00" y="15.00" width="2.30" height="2.30" fill="#f2e789" opacity="1"/><rect x="15.00" y="19.20" width="2.30" height="2.30" fill="#f7ac12" opacity="1"/><rect x="15.00" y="23.40" width="2.30" height="2.30" fill="#f8b70d" opacity="1"/><rect x="15.00" y="27.80" width="2.30" height="2.30" fill="#f2de0b" opacity="1"/><rect x="15.00" y="31.60" width="2.30" height="2.30" fill="#f0e460" opacity="1"/><rect x="21.40" y="2.20" width="2.30" height="2.30" fill="#ef5223" opacity="1"/><rect x="21.40" y="6.40" width="2.30" height="2.30" fill="#eb3027" opacity="1"/><rect x="21.40" y="10.60" width="2.30" height="2.30" fill="#ec3226" opacity="1"/><rect x="21.40" y="15.00" width="2.30" height="2.30" fill="#c81d27" opacity="1"/><rect x="26.20" y="2.20" width="2.30" height="2.30" fill="#f0e23b" opacity="1"/><rect x="26.20" y="6.40" width="2.30" height="2.30" fill="#f5db06" opacity="1"/><rect x="26.20" y="10.60" width="2.30" height="2.30" fill="#f1e675" opacity="1"/><rect x="26.20" y="15.00" width="2.30" height="2.30" fill="#f1e571" opacity="1"/><rect x="26.20" y="23.40" width="2.30" height="2.30" fill="#f8ce04" opacity="1"/><rect x="26.20" y="27.80" width="2.30" height="2.30" fill="#fefbe8" opacity="1"/><rect x="26.20" y="31.60" width="2.30" height="2.30" fill="#fefbe8" opacity="1"/><rect x="30.60" y="2.20" width="2.30" height="2.30" fill="#f8ba0c" opacity="1"/><rect x="30.60" y="6.40" width="2.30" height="2.30" fill="#f6edae" opacity="1"/><rect x="30.60" y="10.60" width="2.30" height="2.30" fill="#f8be0a" opacity="1"/><rect x="30.60" y="15.00" width="2.30" height="2.30" fill="#fcf8de" opacity="1"/><rect x="30.60" y="19.20" width="2.30" height="2.30" fill="#f8c707" opacity="1"/><rect x="30.60" y="23.40" width="2.30" height="2.30" fill="#f8c209" opacity="1"/><rect x="30.60" y="27.80" width="2.30" height="2.30" fill="#f6eeb3" opacity="1"/><rect x="30.60" y="31.60" width="2.30" height="2.30" fill="#f1e67a" opacity="1"/></pattern><pattern id="msf" patternUnits="userSpaceOnUse" x="186.0" y="107.5" width="34.667" height="35.167"><rect x="0.00" y="-0.50" width="34.67" height="35.17" fill="#0c0b09" opacity="1"/><rect x="1.00" y="32.27" width="32.67" height="1.80" fill="#bd1c24" opacity="1"/><rect x="0.80" y="29.87" width="1.50" height="4.20" fill="#ed3b25" opacity="1"/><rect x="9.90" y="29.87" width="1.50" height="4.20" fill="#ed3b25" opacity="1"/><rect x="12.20" y="29.87" width="1.50" height="4.20" fill="#ed3b25" opacity="1"/><rect x="21.30" y="29.87" width="1.50" height="4.20" fill="#ed3b25" opacity="1"/><rect x="23.60" y="29.87" width="1.50" height="4.20" fill="#ed3b25" opacity="1"/><rect x="32.60" y="29.87" width="1.50" height="4.20" fill="#ed3b25" opacity="1"/><rect x="1.00" y="17.67" width="32.67" height="1.60" fill="#b01a22" opacity="0.9"/><rect x="1.00" y="6.47" width="32.67" height="1.60" fill="#b01a22" opacity="0.9"/><rect x="1.00" y="2.07" width="32.67" height="1.60" fill="#b01a22" opacity="0.9"/><rect x="15.00" y="21.37" width="2.30" height="2.30" fill="#ea2a28" opacity="1"/><rect x="19.20" y="21.37" width="2.30" height="2.30" fill="#e92329" opacity="1"/><rect x="23.40" y="21.37" width="2.30" height="2.30" fill="#b91b24" opacity="1"/><rect x="27.80" y="21.37" width="2.30" height="2.30" fill="#be1c25" opacity="1"/><rect x="31.60" y="21.37" width="2.30" height="2.30" fill="#98161b" opacity="1"/><rect x="2.20" y="17.37" width="2.30" height="2.30" fill="#f4eb9f" opacity="1"/><rect x="6.40" y="17.37" width="2.30" height="2.30" fill="#f1e56d" opacity="1"/><rect x="10.60" y="17.37" width="2.30" height="2.30" fill="#f0e235" opacity="1"/><rect x="15.00" y="17.37" width="2.30" height="2.30" fill="#f6edaf" opacity="1"/><rect x="19.20" y="17.37" width="2.30" height="2.30" fill="#f2e993" opacity="1"/><rect x="23.40" y="17.37" width="2.30" height="2.30" fill="#fdf9e0" opacity="1"/><rect x="27.80" y="17.37" width="2.30" height="2.30" fill="#f5ecaa" opacity="1"/><rect x="31.60" y="17.37" width="2.30" height="2.30" fill="#f1e67d" opacity="1"/><rect x="2.20" y="10.97" width="2.30" height="2.30" fill="#cf1e28" opacity="1"/><rect x="6.40" y="10.97" width="2.30" height="2.30" fill="#e5202a" opacity="1"/><rect x="15.00" y="10.97" width="2.30" height="2.30" fill="#e11f29" opacity="1"/><rect x="19.20" y="10.97" width="2.30" height="2.30" fill="#b71b23" opacity="1"/><rect x="23.40" y="10.97" width="2.30" height="2.30" fill="#d01e28" opacity="1"/><rect x="31.60" y="10.97" width="2.30" height="2.30" fill="#aa1920" opacity="1"/><rect x="2.20" y="6.17" width="2.30" height="2.30" fill="#f8d801" opacity="1"/><rect x="6.40" y="6.17" width="2.30" height="2.30" fill="#f4eba0" opacity="1"/><rect x="10.60" y="6.17" width="2.30" height="2.30" fill="#f0e463" opacity="1"/><rect x="15.00" y="6.17" width="2.30" height="2.30" fill="#f0e353" opacity="1"/><rect x="19.20" y="6.17" width="2.30" height="2.30" fill="#fbf5d2" opacity="1"/><rect x="23.40" y="6.17" width="2.30" height="2.30" fill="#f0e346" opacity="1"/><rect x="27.80" y="6.17" width="2.30" height="2.30" fill="#fbf5d3" opacity="1"/><rect x="31.60" y="6.17" width="2.30" height="2.30" fill="#fdf9e0" opacity="1"/><rect x="2.20" y="1.77" width="2.30" height="2.30" fill="#f1e676" opacity="1"/><rect x="6.40" y="1.77" width="2.30" height="2.30" fill="#f1e783" opacity="1"/><rect x="15.00" y="1.77" width="2.30" height="2.30" fill="#fdf9e1" opacity="1"/><rect x="19.20" y="1.77" width="2.30" height="2.30" fill="#f0e34c" opacity="1"/><rect x="23.40" y="1.77" width="2.30" height="2.30" fill="#f7eeb5" opacity="1"/><rect x="27.80" y="1.77" width="2.30" height="2.30" fill="#fdf9e1" opacity="1"/><rect x="31.60" y="1.77" width="2.30" height="2.30" fill="#fcf7da" opacity="1"/></pattern><linearGradient id="bg0" gradientUnits="userSpaceOnUse" x1="0" y1="90.5" x2="0" y2="230.5"><stop offset="0" stop-color="#f6da03" stop-opacity="0"/><stop offset="0.35" stop-color="#f6da03"/><stop offset="0.65" stop-color="#f6da03"/><stop offset="1" stop-color="#f6da03" stop-opacity="0"/></linearGradient><linearGradient id="bg1" gradientUnits="userSpaceOnUse" x1="0" y1="80.5" x2="0" y2="240.5"><stop offset="0" stop-color="#de1f29" stop-opacity="0"/><stop offset="0.35" stop-color="#de1f29"/><stop offset="0.65" stop-color="#de1f29"/><stop offset="1" stop-color="#de1f29" stop-opacity="0"/></linearGradient><linearGradient id="bg2" gradientUnits="userSpaceOnUse" x1="0" y1="70.5" x2="0" y2="250.5"><stop offset="0" stop-color="#f69e18" stop-opacity="0"/><stop offset="0.35" stop-color="#f69e18"/><stop offset="0.65" stop-color="#f69e18"/><stop offset="1" stop-color="#f69e18" stop-opacity="0"/></linearGradient><linearGradient id="bg3" gradientUnits="userSpaceOnUse" x1="0" y1="58.5" x2="0" y2="262.5"><stop offset="0" stop-color="#ea2c28" stop-opacity="0"/><stop offset="0.35" stop-color="#ea2c28"/><stop offset="0.65" stop-color="#ea2c28"/><stop offset="1" stop-color="#ea2c28" stop-opacity="0"/></linearGradient><linearGradient id="bg4" gradientUnits="userSpaceOnUse" x1="0" y1="48.5" x2="0" y2="272.5"><stop offset="0" stop-color="#f2781f" stop-opacity="0"/><stop offset="0.35" stop-color="#f2781f"/><stop offset="0.65" stop-color="#f2781f"/><stop offset="1" stop-color="#f2781f" stop-opacity="0"/></linearGradient><linearGradient id="bg5" gradientUnits="userSpaceOnUse" x1="0" y1="38.5" x2="0" y2="282.5"><stop offset="0" stop-color="#ed3c25" stop-opacity="0"/><stop offset="0.35" stop-color="#ed3c25"/><stop offset="0.65" stop-color="#ed3c25"/><stop offset="1" stop-color="#ed3c25" stop-opacity="0"/></linearGradient><linearGradient id="bg6" gradientUnits="userSpaceOnUse" x1="0" y1="28.5" x2="0" y2="292.5"><stop offset="0" stop-color="#f16921" stop-opacity="0"/><stop offset="0.35" stop-color="#f16921"/><stop offset="0.65" stop-color="#f16921"/><stop offset="1" stop-color="#f16921" stop-opacity="0"/></linearGradient><linearGradient id="bg7" gradientUnits="userSpaceOnUse" x1="0" y1="20.5" x2="0" y2="300.5"><stop offset="0" stop-color="#ee4824" stop-opacity="0"/><stop offset="0.35" stop-color="#ee4824"/><stop offset="0.65" stop-color="#ee4824"/><stop offset="1" stop-color="#ee4824" stop-opacity="0"/></linearGradient><linearGradient id="bg8" gradientUnits="userSpaceOnUse" x1="0" y1="109.5" x2="0" y2="209.5"><stop offset="0" stop-color="#f0e014" stop-opacity="0"/><stop offset="0.3" stop-color="#f0e014"/><stop offset="0.7" stop-color="#f0e014"/><stop offset="1" stop-color="#f0e014" stop-opacity="0"/></linearGradient><linearGradient id="bg9" gradientUnits="userSpaceOnUse" x1="0" y1="103.5" x2="0" y2="215.5"><stop offset="0" stop-color="#f37f1e" stop-opacity="0"/><stop offset="0.25" stop-color="#f37f1e"/><stop offset="0.75" stop-color="#f37f1e"/><stop offset="1" stop-color="#f37f1e" stop-opacity="0"/></linearGradient><linearGradient id="bg10" gradientUnits="userSpaceOnUse" x1="0" y1="101.5" x2="0" y2="213.5"><stop offset="0" stop-color="#ea2828" stop-opacity="0"/><stop offset="0.25" stop-color="#ea2828"/><stop offset="0.75" stop-color="#ea2828"/><stop offset="1" stop-color="#ea2828" stop-opacity="0"/></linearGradient><linearGradient id="bg11" gradientUnits="userSpaceOnUse" x1="0" y1="91.5" x2="0" y2="227.5"><stop offset="0" stop-color="#f27120" stop-opacity="0"/><stop offset="0.25" stop-color="#f27120"/><stop offset="0.75" stop-color="#f27120"/><stop offset="1" stop-color="#f27120" stop-opacity="0"/></linearGradient><linearGradient id="bg12" gradientUnits="userSpaceOnUse" x1="0" y1="81.5" x2="0" y2="237.5"><stop offset="0" stop-color="#ed4125" stop-opacity="0"/><stop offset="0.25" stop-color="#ed4125"/><stop offset="0.75" stop-color="#ed4125"/><stop offset="1" stop-color="#ed4125" stop-opacity="0"/></linearGradient><linearGradient id="bg13" gradientUnits="userSpaceOnUse" x1="0" y1="71.5" x2="0" y2="247.5"><stop offset="0" stop-color="#f06122" stop-opacity="0"/><stop offset="0.25" stop-color="#f06122"/><stop offset="0.75" stop-color="#f06122"/><stop offset="1" stop-color="#f06122" stop-opacity="0"/></linearGradient><linearGradient id="bg14" gradientUnits="userSpaceOnUse" x1="218.8" y1="0" x2="314.8" y2="0"><stop offset="0" stop-color="#ec3726" stop-opacity="0"/><stop offset="0.25" stop-color="#ec3726"/><stop offset="0.75" stop-color="#ec3726"/><stop offset="1" stop-color="#ec3726" stop-opacity="0"/></linearGradient><linearGradient id="bg15" gradientUnits="userSpaceOnUse" x1="194.8" y1="0" x2="338.8" y2="0"><stop offset="0" stop-color="#f16821" stop-opacity="0"/><stop offset="0.25" stop-color="#f16821"/><stop offset="0.75" stop-color="#f16821"/><stop offset="1" stop-color="#f16821" stop-opacity="0"/></linearGradient><linearGradient id="bg16" gradientUnits="userSpaceOnUse" x1="174.8" y1="0" x2="358.8" y2="0"><stop offset="0" stop-color="#ee4924" stop-opacity="0"/><stop offset="0.25" stop-color="#ee4924"/><stop offset="0.75" stop-color="#ee4924"/><stop offset="1" stop-color="#ee4924" stop-opacity="0"/></linearGradient><linearGradient id="bg17" gradientUnits="userSpaceOnUse" x1="218.8" y1="0" x2="314.8" y2="0"><stop offset="0" stop-color="#ec3726" stop-opacity="0"/><stop offset="0.25" stop-color="#ec3726"/><stop offset="0.75" stop-color="#ec3726"/><stop offset="1" stop-color="#ec3726" stop-opacity="0"/></linearGradient><linearGradient id="bg18" gradientUnits="userSpaceOnUse" x1="194.8" y1="0" x2="338.8" y2="0"><stop offset="0" stop-color="#f16821" stop-opacity="0"/><stop offset="0.25" stop-color="#f16821"/><stop offset="0.75" stop-color="#f16821"/><stop offset="1" stop-color="#f16821" stop-opacity="0"/></linearGradient><linearGradient id="bg19" gradientUnits="userSpaceOnUse" x1="174.8" y1="0" x2="358.8" y2="0"><stop offset="0" stop-color="#ee4924" stop-opacity="0"/><stop offset="0.25" stop-color="#ee4924"/><stop offset="0.75" stop-color="#ee4924"/><stop offset="1" stop-color="#ee4924" stop-opacity="0"/></linearGradient><linearGradient id="bg20" gradientUnits="userSpaceOnUse" x1="165.8" y1="0" x2="305.8" y2="0"><stop offset="0" stop-color="#f8d800" stop-opacity="0"/><stop offset="0.25" stop-color="#f8d800"/><stop offset="0.75" stop-color="#f8d800"/><stop offset="1" stop-color="#f8d800" stop-opacity="0"/></linearGradient><linearGradient id="bg21" gradientUnits="userSpaceOnUse" x1="153.8" y1="0" x2="317.8" y2="0"><stop offset="0" stop-color="#e11f29" stop-opacity="0"/><stop offset="0.25" stop-color="#e11f29"/><stop offset="0.75" stop-color="#e11f29"/><stop offset="1" stop-color="#e11f29" stop-opacity="0"/></linearGradient><linearGradient id="bg22" gradientUnits="userSpaceOnUse" x1="140.8" y1="0" x2="330.8" y2="0"><stop offset="0" stop-color="#f6a515" stop-opacity="0"/><stop offset="0.25" stop-color="#f6a515"/><stop offset="0.75" stop-color="#f6a515"/><stop offset="1" stop-color="#f6a515" stop-opacity="0"/></linearGradient><linearGradient id="bg23" gradientUnits="userSpaceOnUse" x1="135.8" y1="0" x2="335.8" y2="0"><stop offset="0" stop-color="#e92629" stop-opacity="0"/><stop offset="0.25" stop-color="#e92629"/><stop offset="0.75" stop-color="#e92629"/><stop offset="1" stop-color="#e92629" stop-opacity="0"/></linearGradient><linearGradient id="bg24" gradientUnits="userSpaceOnUse" x1="125.8" y1="0" x2="345.8" y2="0"><stop offset="0" stop-color="#f37f1e" stop-opacity="0"/><stop offset="0.25" stop-color="#f37f1e"/><stop offset="0.75" stop-color="#f37f1e"/><stop offset="1" stop-color="#f37f1e" stop-opacity="0"/></linearGradient><linearGradient id="bg25" gradientUnits="userSpaceOnUse" x1="120.8" y1="0" x2="350.8" y2="0"><stop offset="0" stop-color="#ed3b25" stop-opacity="0"/><stop offset="0.25" stop-color="#ed3b25"/><stop offset="0.75" stop-color="#ed3b25"/><stop offset="1" stop-color="#ed3b25" stop-opacity="0"/></linearGradient><linearGradient id="bg26" gradientUnits="userSpaceOnUse" x1="117.8" y1="0" x2="353.8" y2="0"><stop offset="0" stop-color="#f16b21" stop-opacity="0"/><stop offset="0.25" stop-color="#f16b21"/><stop offset="0.75" stop-color="#f16b21"/><stop offset="1" stop-color="#f16b21" stop-opacity="0"/></linearGradient><linearGradient id="bg27" gradientUnits="userSpaceOnUse" x1="115.8" y1="0" x2="355.8" y2="0"><stop offset="0" stop-color="#ee4424" stop-opacity="0"/><stop offset="0.25" stop-color="#ee4424"/><stop offset="0.75" stop-color="#ee4424"/><stop offset="1" stop-color="#ee4424" stop-opacity="0"/></linearGradient><linearGradient id="bg28" gradientUnits="userSpaceOnUse" x1="182.8" y1="0" x2="294.8" y2="0"><stop offset="0" stop-color="#f0e014" stop-opacity="0"/><stop offset="0.3" stop-color="#f0e014"/><stop offset="0.7" stop-color="#f0e014"/><stop offset="1" stop-color="#f0e014" stop-opacity="0"/></linearGradient><linearGradient id="bg29" gradientUnits="userSpaceOnUse" x1="175.8" y1="0" x2="295.8" y2="0"><stop offset="0" stop-color="#f16e21" stop-opacity="0"/><stop offset="0.25" stop-color="#f16e21"/><stop offset="0.75" stop-color="#f16e21"/><stop offset="1" stop-color="#f16e21" stop-opacity="0"/></linearGradient><linearGradient id="bg30" gradientUnits="userSpaceOnUse" x1="163.8" y1="0" x2="307.8" y2="0"><stop offset="0" stop-color="#ee4624" stop-opacity="0"/><stop offset="0.25" stop-color="#ee4624"/><stop offset="0.75" stop-color="#ee4624"/><stop offset="1" stop-color="#ee4624" stop-opacity="0"/></linearGradient><linearGradient id="bg31" gradientUnits="userSpaceOnUse" x1="149.8" y1="0" x2="321.8" y2="0"><stop offset="0" stop-color="#f06322" stop-opacity="0"/><stop offset="0.25" stop-color="#f06322"/><stop offset="0.75" stop-color="#f06322"/><stop offset="1" stop-color="#f06322" stop-opacity="0"/></linearGradient><linearGradient id="bg32" gradientUnits="userSpaceOnUse" x1="137.8" y1="0" x2="333.8" y2="0"><stop offset="0" stop-color="#ee4d24" stop-opacity="0"/><stop offset="0.25" stop-color="#ee4d24"/><stop offset="0.75" stop-color="#ee4d24"/><stop offset="1" stop-color="#ee4d24" stop-opacity="0"/></linearGradient><linearGradient id="bg33" gradientUnits="userSpaceOnUse" x1="0" y1="103.5" x2="0" y2="235.5"><stop offset="0" stop-color="#f16621" stop-opacity="0"/><stop offset="0.25" stop-color="#f16621"/><stop offset="0.75" stop-color="#f16621"/><stop offset="1" stop-color="#f16621" stop-opacity="0"/></linearGradient><linearGradient id="bg34" gradientUnits="userSpaceOnUse" x1="0" y1="87.5" x2="0" y2="251.5"><stop offset="0" stop-color="#ee4824" stop-opacity="0"/><stop offset="0.25" stop-color="#ee4824"/><stop offset="0.75" stop-color="#ee4824"/><stop offset="1" stop-color="#ee4824" stop-opacity="0"/></linearGradient><linearGradient id="bg35" gradientUnits="userSpaceOnUse" x1="0" y1="73.5" x2="0" y2="265.5"><stop offset="0" stop-color="#f06022" stop-opacity="0"/><stop offset="0.25" stop-color="#f06022"/><stop offset="0.75" stop-color="#f06022"/><stop offset="1" stop-color="#f06022" stop-opacity="0"/></linearGradient><linearGradient id="bg36" gradientUnits="userSpaceOnUse" x1="0" y1="103.5" x2="0" y2="235.5"><stop offset="0" stop-color="#f16621" stop-opacity="0"/><stop offset="0.25" stop-color="#f16621"/><stop offset="0.75" stop-color="#f16621"/><stop offset="1" stop-color="#f16621" stop-opacity="0"/></linearGradient><linearGradient id="bg37" gradientUnits="userSpaceOnUse" x1="0" y1="87.5" x2="0" y2="251.5"><stop offset="0" stop-color="#ee4824" stop-opacity="0"/><stop offset="0.25" stop-color="#ee4824"/><stop offset="0.75" stop-color="#ee4824"/><stop offset="1" stop-color="#ee4824" stop-opacity="0"/></linearGradient><linearGradient id="bg38" gradientUnits="userSpaceOnUse" x1="0" y1="73.5" x2="0" y2="265.5"><stop offset="0" stop-color="#f06022" stop-opacity="0"/><stop offset="0.25" stop-color="#f06022"/><stop offset="0.75" stop-color="#f06022"/><stop offset="1" stop-color="#f06022" stop-opacity="0"/></linearGradient><linearGradient id="bg39" gradientUnits="userSpaceOnUse" x1="0" y1="87.5" x2="0" y2="237.5"><stop offset="0" stop-color="#ea2828" stop-opacity="0"/><stop offset="0.38" stop-color="#ea2828"/><stop offset="0.62" stop-color="#ea2828"/><stop offset="1" stop-color="#ea2828" stop-opacity="0"/></linearGradient><linearGradient id="bg40" gradientUnits="userSpaceOnUse" x1="0" y1="78.5" x2="0" y2="246.5"><stop offset="0" stop-color="#a4181f" stop-opacity="0"/><stop offset="0.38" stop-color="#a4181f"/><stop offset="0.62" stop-color="#a4181f"/><stop offset="1" stop-color="#a4181f" stop-opacity="0"/></linearGradient><linearGradient id="bg41" gradientUnits="userSpaceOnUse" x1="0" y1="72.5" x2="0" y2="252.5"><stop offset="0" stop-color="#6b0e0f" stop-opacity="0"/><stop offset="0.38" stop-color="#6b0e0f"/><stop offset="0.62" stop-color="#6b0e0f"/><stop offset="1" stop-color="#6b0e0f" stop-opacity="0"/></linearGradient><linearGradient id="bg42" gradientUnits="userSpaceOnUse" x1="0" y1="67.5" x2="0" y2="257.5"><stop offset="0" stop-color="#3b1010" stop-opacity="0"/><stop offset="0.38" stop-color="#3b1010"/><stop offset="0.62" stop-color="#3b1010"/><stop offset="1" stop-color="#3b1010" stop-opacity="0"/></linearGradient><linearGradient id="bg43" gradientUnits="userSpaceOnUse" x1="0" y1="62.5" x2="0" y2="262.5"><stop offset="0" stop-color="#1d0f0e" stop-opacity="0"/><stop offset="0.38" stop-color="#1d0f0e"/><stop offset="0.62" stop-color="#1d0f0e"/><stop offset="1" stop-color="#1d0f0e" stop-opacity="0"/></linearGradient><linearGradient id="bg44" gradientUnits="userSpaceOnUse" x1="0" y1="62.5" x2="0" y2="262.5"><stop offset="0" stop-color="#140d0b" stop-opacity="0"/><stop offset="0.38" stop-color="#140d0b"/><stop offset="0.62" stop-color="#140d0b"/><stop offset="1" stop-color="#140d0b" stop-opacity="0"/></linearGradient><linearGradient id="bg45" gradientUnits="userSpaceOnUse" x1="0" y1="62.5" x2="0" y2="262.5"><stop offset="0" stop-color="#100c0a" stop-opacity="0"/><stop offset="0.38" stop-color="#100c0a"/><stop offset="0.62" stop-color="#100c0a"/><stop offset="1" stop-color="#100c0a" stop-opacity="0"/></linearGradient><linearGradient id="bg46" gradientUnits="userSpaceOnUse" x1="0" y1="97.5" x2="0" y2="225.5"><stop offset="0" stop-color="#ea2828" stop-opacity="0"/><stop offset="0.2" stop-color="#ea2828"/><stop offset="0.8" stop-color="#ea2828"/><stop offset="1" stop-color="#ea2828" stop-opacity="0"/></linearGradient><linearGradient id="bg47" gradientUnits="userSpaceOnUse" x1="0" y1="109.5" x2="0" y2="213.5"><stop offset="0" stop-color="#f37c1f" stop-opacity="0"/><stop offset="0.25" stop-color="#f37c1f"/><stop offset="0.75" stop-color="#f37c1f"/><stop offset="1" stop-color="#f37c1f" stop-opacity="0"/></linearGradient><linearGradient id="bg48" gradientUnits="userSpaceOnUse" x1="0" y1="132.5" x2="0" y2="192.5"><stop offset="0" stop-color="#f1df0e" stop-opacity="0"/><stop offset="0.3" stop-color="#f1df0e"/><stop offset="0.7" stop-color="#f1df0e"/><stop offset="1" stop-color="#f1df0e" stop-opacity="0"/></linearGradient><linearGradient id="bg49" gradientUnits="userSpaceOnUse" x1="144.8" y1="0" x2="328.8" y2="0"><stop offset="0" stop-color="#341010" stop-opacity="0"/><stop offset="0.4" stop-color="#341010"/><stop offset="0.6" stop-color="#341010"/><stop offset="1" stop-color="#341010" stop-opacity="0"/></linearGradient><linearGradient id="bg50" gradientUnits="userSpaceOnUse" x1="169.8" y1="0" x2="301.8" y2="0"><stop offset="0" stop-color="#ea2828" stop-opacity="0"/><stop offset="0.4" stop-color="#ea2828"/><stop offset="0.6" stop-color="#ea2828"/><stop offset="1" stop-color="#ea2828" stop-opacity="0"/></linearGradient><linearGradient id="bg51" gradientUnits="userSpaceOnUse" x1="189.8" y1="0" x2="281.8" y2="0"><stop offset="0" stop-color="#a4181f" stop-opacity="0"/><stop offset="0.4" stop-color="#a4181f"/><stop offset="0.6" stop-color="#a4181f"/><stop offset="1" stop-color="#a4181f" stop-opacity="0"/></linearGradient><linearGradient id="bg52" gradientUnits="userSpaceOnUse" x1="197.8" y1="0" x2="273.8" y2="0"><stop offset="0" stop-color="#7c1114" stop-opacity="0"/><stop offset="0.4" stop-color="#7c1114"/><stop offset="0.6" stop-color="#7c1114"/><stop offset="1" stop-color="#7c1114" stop-opacity="0"/></linearGradient><linearGradient id="bg53" gradientUnits="userSpaceOnUse" x1="201.8" y1="0" x2="269.8" y2="0"><stop offset="0" stop-color="#4c0e0e" stop-opacity="0"/><stop offset="0.4" stop-color="#4c0e0e"/><stop offset="0.6" stop-color="#4c0e0e"/><stop offset="1" stop-color="#4c0e0e" stop-opacity="0"/></linearGradient><linearGradient id="bg54" gradientUnits="userSpaceOnUse" x1="203.8" y1="0" x2="267.8" y2="0"><stop offset="0" stop-color="#2a100f" stop-opacity="0"/><stop offset="0.4" stop-color="#2a100f"/><stop offset="0.6" stop-color="#2a100f"/><stop offset="1" stop-color="#2a100f" stop-opacity="0"/></linearGradient><linearGradient id="bg55" gradientUnits="userSpaceOnUse" x1="205.8" y1="0" x2="265.8" y2="0"><stop offset="0" stop-color="#180e0c" stop-opacity="0"/><stop offset="0.4" stop-color="#180e0c"/><stop offset="0.6" stop-color="#180e0c"/><stop offset="1" stop-color="#180e0c" stop-opacity="0"/></linearGradient><linearGradient id="bg56" gradientUnits="userSpaceOnUse" x1="207.8" y1="0" x2="263.8" y2="0"><stop offset="0" stop-color="#120c0b" stop-opacity="0"/><stop offset="0.4" stop-color="#120c0b"/><stop offset="0.6" stop-color="#120c0b"/><stop offset="1" stop-color="#120c0b" stop-opacity="0"/></linearGradient><linearGradient id="bg57" gradientUnits="userSpaceOnUse" x1="170.8" y1="0" x2="302.8" y2="0"><stop offset="0" stop-color="#ea2828" stop-opacity="0"/><stop offset="0.2" stop-color="#ea2828"/><stop offset="0.8" stop-color="#ea2828"/><stop offset="1" stop-color="#ea2828" stop-opacity="0"/></linearGradient><linearGradient id="bg58" gradientUnits="userSpaceOnUse" x1="184.8" y1="0" x2="292.8" y2="0"><stop offset="0" stop-color="#f37c1f" stop-opacity="0"/><stop offset="0.25" stop-color="#f37c1f"/><stop offset="0.75" stop-color="#f37c1f"/><stop offset="1" stop-color="#f37c1f" stop-opacity="0"/></linearGradient><linearGradient id="bg59" gradientUnits="userSpaceOnUse" x1="214.8" y1="0" x2="278.8" y2="0"><stop offset="0" stop-color="#f0e017" stop-opacity="0"/><stop offset="0.3" stop-color="#f0e017"/><stop offset="0.7" stop-color="#f0e017"/><stop offset="1" stop-color="#f0e017" stop-opacity="0"/></linearGradient><linearGradient id="cb1122626" x1="0" y1="0" x2="0" y2="1"><stop offset="0.0000" stop-color="#fefbe8"/><stop offset="0.0312" stop-color="#faf4cf"/><stop offset="0.0625" stop-color="#f7efb8"/><stop offset="0.0938" stop-color="#f4eba4"/><stop offset="0.1250" stop-color="#f2e890"/><stop offset="0.1562" stop-color="#f1e678"/><stop offset="0.1875" stop-color="#f0e460"/><stop offset="0.2188" stop-color="#f0e23c"/><stop offset="0.2500" stop-color="#f0e017"/><stop offset="0.2812" stop-color="#f6da03"/><stop offset="0.3125" stop-color="#f8c408"/><stop offset="0.3438" stop-color="#f8ac12"/><stop offset="0.3750" stop-color="#f59a1a"/><stop offset="0.4062" stop-color="#f4871d"/><stop offset="0.4375" stop-color="#f27420"/><stop offset="0.4688" stop-color="#f06422"/><stop offset="0.5000" stop-color="#ef5523"/><stop offset="0.5312" stop-color="#ee4424"/><stop offset="0.5625" stop-color="#ec3426"/><stop offset="0.5938" stop-color="#ea2a28"/><stop offset="0.6250" stop-color="#e8202a"/><stop offset="0.6562" stop-color="#dc1f29"/><stop offset="0.6875" stop-color="#d01e28"/><stop offset="0.7188" stop-color="#c01c25"/><stop offset="0.7500" stop-color="#b01a22"/><stop offset="0.7812" stop-color="#9e171d"/><stop offset="0.8125" stop-color="#8c1418"/><stop offset="0.8438" stop-color="#761012"/><stop offset="0.8750" stop-color="#600c0c"/><stop offset="0.9062" stop-color="#4b0e0e"/><stop offset="0.9375" stop-color="#361010"/><stop offset="0.9688" stop-color="#1b0e0d"/><stop offset="1.0000" stop-color="#0c0b09"/></linearGradient><linearGradient id="cb11241107" x1="0" y1="0" x2="0" y2="1"><stop offset="0.0000" stop-color="#fefbe8"/><stop offset="0.0312" stop-color="#faf4cf"/><stop offset="0.0625" stop-color="#f7efb8"/><stop offset="0.0938" stop-color="#f4eba4"/><stop offset="0.1250" stop-color="#f2e890"/><stop offset="0.1562" stop-color="#f1e678"/><stop offset="0.1875" stop-color="#f0e460"/><stop offset="0.2188" stop-color="#f0e23c"/><stop offset="0.2500" stop-color="#f0e017"/><stop offset="0.2812" stop-color="#f6da03"/><stop offset="0.3125" stop-color="#f8c408"/><stop offset="0.3438" stop-color="#f8ac12"/><stop offset="0.3750" stop-color="#f59a1a"/><stop offset="0.4062" stop-color="#f4871d"/><stop offset="0.4375" stop-color="#f27420"/><stop offset="0.4688" stop-color="#f06422"/><stop offset="0.5000" stop-color="#ef5523"/><stop offset="0.5312" stop-color="#ee4424"/><stop offset="0.5625" stop-color="#ec3426"/><stop offset="0.5938" stop-color="#ea2a28"/><stop offset="0.6250" stop-color="#e8202a"/><stop offset="0.6562" stop-color="#dc1f29"/><stop offset="0.6875" stop-color="#d01e28"/><stop offset="0.7188" stop-color="#c01c25"/><stop offset="0.7500" stop-color="#b01a22"/><stop offset="0.7812" stop-color="#9e171d"/><stop offset="0.8125" stop-color="#8c1418"/><stop offset="0.8438" stop-color="#761012"/><stop offset="0.8750" stop-color="#600c0c"/><stop offset="0.9062" stop-color="#4b0e0e"/><stop offset="0.9375" stop-color="#361010"/><stop offset="0.9688" stop-color="#1b0e0d"/><stop offset="1.0000" stop-color="#0c0b09"/></linearGradient></defs>
<text x="37.6" y="34.4" font-size="26.5" text-anchor="start" fill="#3d3d3d" >(a)</text>
<text x="561.7" y="34.4" font-size="26.5" text-anchor="start" fill="#3d3d3d" >(b)</text>
<text x="37.9" y="617.4" font-size="26.5" text-anchor="start" fill="#3d3d3d" >(c)</text>
<text x="643.1" y="617.4" font-size="26.5" text-anchor="start" fill="#3d3d3d" >(d)</text>
<text x="37.9" y="1084.4" font-size="26.5" text-anchor="start" fill="#3d3d3d" >(e)</text>
<text x="643.1" y="1084.4" font-size="26.5" text-anchor="start" fill="#3d3d3d" >(f)</text>
<rect x="106.0" y="78.5" width="104.5" height="105.0" fill="url(#gv)" stroke="url(#gvs)" stroke-width="2"/>
<rect x="240.5" y="87.3" width="54.5" height="87.2" fill="url(#gv)" stroke="url(#gvs)" stroke-width="2"/>
<rect x="338.4" y="92.7" width="39.0" height="76.3" fill="url(#gv)" stroke="url(#gvs)" stroke-width="2"/>
<rect x="433.6" y="78.7" width="105.3" height="104.7" fill="#f4f4f4" stroke="#ebebeb" stroke-width="1.5"/>
<rect x="448.0" y="246.8" width="76.6" height="39.0" fill="url(#gh)" stroke="url(#ghs)" stroke-width="2"/>
<rect x="442.8" y="323.0" width="87.2" height="53.5" fill="url(#gh)" stroke="url(#ghs)" stroke-width="2"/>
<rect x="434.1" y="407.0" width="104.9" height="104.5" fill="url(#gh)" stroke="url(#ghs)" stroke-width="2"/>
<rect x="106.5" y="407.1" width="103.4" height="103.5" fill="#a5a8ab" stroke="#3a3a3a" stroke-width="2.2"/>
<text x="158.2" y="466.65000000000003" font-size="21.5" text-anchor="middle" fill="#3a3a3a" >1</text>
<rect x="240.9" y="416.4" width="53.6" height="85.6" fill="#a5a8ab" stroke="#3a3a3a" stroke-width="2.2"/>
<text x="267.70000000000005" y="467.00000000000006" font-size="21.5" text-anchor="middle" fill="#3a3a3a" >2</text>
<rect x="339.1" y="421.5" width="37.8" height="75.4" fill="#a5a8ab" stroke="#3a3a3a" stroke-width="2.2"/>
<text x="358.0" y="467.0" font-size="21.5" text-anchor="middle" fill="#3a3a3a" >3</text>
<rect x="115.4" y="323.5" width="86.0" height="52.4" fill="#a5a8ab" stroke="#3a3a3a" stroke-width="2.2"/>
<text x="158.4" y="357.5" font-size="21.5" text-anchor="middle" fill="#3a3a3a" >4</text>
<rect x="238.7" y="320.9" width="57.5" height="56.9" fill="#a5a8ab" stroke="#3a3a3a" stroke-width="2.2"/>
<text x="267.45" y="357.15000000000003" font-size="21.5" text-anchor="middle" fill="#3a3a3a" >5</text>
<rect x="337.7" y="318.8" width="40.6" height="61.7" fill="#a5a8ab" stroke="#3a3a3a" stroke-width="2.2"/>
<text x="358.0" y="357.45" font-size="21.5" text-anchor="middle" fill="#3a3a3a" >6</text>
<rect x="120.6" y="240.1" width="75.5" height="37.8" fill="#a5a8ab" stroke="#3a3a3a" stroke-width="2.2"/>
<text x="158.35" y="266.8" font-size="21.5" text-anchor="middle" fill="#3a3a3a" >7</text>
<rect x="236.7" y="239.1" width="61.5" height="38.8" fill="#a5a8ab" stroke="#3a3a3a" stroke-width="2.2"/>
<text x="267.45" y="266.3" font-size="21.5" text-anchor="middle" fill="#3a3a3a" >8</text>
<rect x="335.6" y="236.6" width="44.9" height="45.1" fill="#a5a8ab" stroke="#3a3a3a" stroke-width="2.2"/>
<text x="358.05" y="266.95" font-size="21.5" text-anchor="middle" fill="#3a3a3a" >9</text>
<rect x="84" y="78" width="2" height="455" fill="url(#gay)"/>
<rect x="84" y="530.5" width="455" height="2" fill="url(#gax)"/>
<rect x="72.5" y="239.0" width="12" height="2" fill="#3a3a3a"/>
<rect x="72.5" y="348.2" width="12" height="2" fill="#3a3a3a"/>
<rect x="72.5" y="457.8" width="12" height="2" fill="#3a3a3a"/>
<rect x="157.5" y="531" width="2" height="13.5" fill="#3a3a3a"/>
<rect x="266.3" y="531" width="2" height="13.5" fill="#3a3a3a"/>
<rect x="375.7" y="531" width="2" height="13.5" fill="#3a3a3a"/>
<text x="63.3" y="466.5" font-size="22" text-anchor="end" fill="#3d3d3d" >0</text>
<text x="63.3" y="357.5" font-size="22" text-anchor="end" fill="#3d3d3d" ><tspan font-style="italic">&#923;</tspan></text>
<text x="63.3" y="248.5" font-size="22" text-anchor="end" fill="#3d3d3d" >2<tspan font-style="italic">&#923;</tspan></text>
<text x="158.5" y="566.3" font-size="22" text-anchor="middle" fill="#3d3d3d" >0</text>
<text x="267.3" y="566.3" font-size="22" text-anchor="middle" fill="#3d3d3d" ><tspan font-style="italic">&#923;</tspan></text>
<text x="376.7" y="566.3" font-size="22" text-anchor="middle" fill="#3d3d3d" >2<tspan font-style="italic">&#923;</tspan></text>
<text x="23.5" y="357.5" font-size="31" text-anchor="middle" fill="#3d3d3d" font-style="italic">y</text>
<text x="267.5" y="595.5" font-size="32" text-anchor="middle" fill="#3d3d3d" font-style="italic">x</text>
<path d="M886,455.3 L1106,455.3" fill="none" stroke="#9a3a52" stroke-width="1.9" opacity="0.85"/>
<path d="M888,459.2 L1106,459.2" fill="none" stroke="#5a66b6" stroke-width="1.9" opacity="0.9"/>
<path d="M879.5,444.5 L880.5,454.5 Q882,457.3 889,457.3 L1106,457.3" fill="none" stroke="#34103e" stroke-width="2.2"/>
<path d="M747.0,262.8 L757.9,251.6 L801.4,206.9 L812.2,206.9 L823.1,195.8 L844.8,195.8 L866.5,173.4 L888.2,173.4 L899.1,162.2 L920.8,162.2 L931.7,151.1 L942.6,151.1 L953.4,139.9 L975.1,139.9 L986.0,128.7 L1007.7,128.7 L1018.6,117.5 L1062.0,117.5 L1072.9,106.3 L1107.3,106.3" fill="none" stroke="#2b7fc1" stroke-width="3.3" stroke-linejoin="round"/>
<path d="M747.0,318.7 L768.8,318.7 L790.5,318.7 L801.4,329.9 L844.8,329.9 L855.7,341.0 L899.1,341.0 L910.0,352.2 L964.3,352.2 L975.1,363.4 L1107.3,363.4" fill="none" stroke="#e0312e" stroke-width="3.3" stroke-linejoin="round"/>
<path d="M747.0,385.7 L757.9,385.7 L768.8,396.9 L779.6,396.9 L790.5,408.1 L812.2,419.2 L844.8,419.2 L855.7,430.4 L888.2,430.4 L899.1,441.6 L942.6,441.6 L953.4,452.8 L1018.6,452.8 L1029.5,463.9 L1107.3,463.9" fill="none" stroke="#2ca34a" stroke-width="3.3" stroke-linejoin="round"/>
<path d="M931.7,452.8 L942.6,441.6 L986.0,396.9 L986.0,385.7 L996.9,374.6 L996.9,352.2 L1018.6,329.9 L1018.6,307.5 L1029.5,296.3 L1029.5,274.0 L1040.3,262.8 L1040.3,251.6 L1051.2,240.4 L1051.2,218.1 L1062.0,206.9 L1062.0,184.6 L1072.9,173.4 L1072.9,125.0 L1083.8,113.8 L1083.8,84.0" fill="none" stroke="#2b7fc1" stroke-width="3.3" stroke-linejoin="round" stroke-dasharray="12.5,6.5"/>
<path d="M833.9,84.0 L833.9,214.4 L844.8,225.6 L844.8,285.1 L855.7,296.3 L855.7,341.0 L866.5,352.2 L866.5,396.9 L877.4,408.1 L877.4,456.5" fill="none" stroke="#e0312e" stroke-width="3.3" stroke-linejoin="round" stroke-dasharray="12.5,6.5"/>
<path d="M736.2,84.0 L736.2,158.5 L747.0,169.7 L747.0,240.4 L757.9,251.6 L757.9,292.6 L768.8,303.8 L768.8,333.6 L779.6,344.8 L779.6,385.7 L790.5,396.9 L790.5,411.8 L801.4,423.0 L812.2,434.1 L812.2,452.8" fill="none" stroke="#2ca34a" stroke-width="3.3" stroke-linejoin="round" stroke-dasharray="12.5,6.5"/>
<circle cx="1083.78" cy="106.35" r="10" fill="#2b7fc1"/>
<path d="M833.94,185.75 A10,10 0 0 0 833.94,205.75Z" fill="#2b7fc1"/>
<path d="M833.94,185.75 A10,10 0 0 1 833.94,205.75Z" fill="#e0312e"/>
<path d="M757.90,241.62 A10,10 0 0 0 757.90,261.62Z" fill="#2b7fc1"/>
<path d="M757.90,241.62 A10,10 0 0 1 757.90,261.62Z" fill="#2ca34a"/>
<path d="M996.88,353.38 A10,10 0 0 0 996.88,373.38Z" fill="#e0312e"/>
<path d="M996.88,353.38 A10,10 0 0 1 996.88,373.38Z" fill="#2b7fc1"/>
<circle cx="855.66" cy="341.02" r="10" fill="#e0312e"/>
<path d="M768.76,308.68 A10,10 0 0 0 768.76,328.68Z" fill="#e0312e"/>
<path d="M768.76,308.68 A10,10 0 0 1 768.76,328.68Z" fill="#2ca34a"/>
<path d="M942.56,431.60 A10,10 0 0 0 942.56,451.60Z" fill="#2ca34a"/>
<path d="M942.56,431.60 A10,10 0 0 1 942.56,451.60Z" fill="#2b7fc1"/>
<path d="M877.39,420.43 A10,10 0 0 0 877.39,440.43Z" fill="#2ca34a"/>
<path d="M877.39,420.43 A10,10 0 0 1 877.39,440.43Z" fill="#e0312e"/>
<circle cx="790.49" cy="408.07" r="10" fill="#2ca34a"/>
<text x="1077.20" y="142.00" font-size="26.57" text-anchor="start" fill="#ffffff" textLength="16.42" lengthAdjust="spacingAndGlyphs" >1</text>
<text x="849.20" y="206.30" font-size="26.57" text-anchor="start" fill="#ffffff" textLength="16.42" lengthAdjust="spacingAndGlyphs" >2</text>
<text x="770.20" y="261.30" font-size="26.57" text-anchor="start" fill="#ffffff" textLength="16.42" lengthAdjust="spacingAndGlyphs" >3</text>
<text x="1009.90" y="374.00" font-size="26.57" text-anchor="start" fill="#ffffff" textLength="16.42" lengthAdjust="spacingAndGlyphs" >4</text>
<text x="870.20" y="351.50" font-size="26.57" text-anchor="start" fill="#ffffff" textLength="16.42" lengthAdjust="spacingAndGlyphs" >5</text>
<text x="783.20" y="330.00" font-size="26.57" text-anchor="start" fill="#ffffff" textLength="16.42" lengthAdjust="spacingAndGlyphs" >6</text>
<text x="956.20" y="452.00" font-size="26.57" text-anchor="start" fill="#ffffff" textLength="16.42" lengthAdjust="spacingAndGlyphs" >7</text>
<text x="892.20" y="441.50" font-size="26.57" text-anchor="start" fill="#ffffff" textLength="16.42" lengthAdjust="spacingAndGlyphs" >8</text>
<text x="806.20" y="419.00" font-size="26.57" text-anchor="start" fill="#ffffff" textLength="16.42" lengthAdjust="spacingAndGlyphs" >9</text>
<text x="739.60" y="273.40" font-size="20.91" text-anchor="end" fill="#ffffff" textLength="23.07" lengthAdjust="spacingAndGlyphs" >0&#176;</text>
<text x="741.00" y="326.30" font-size="20.91" text-anchor="end" fill="#ffffff" textLength="48.90" lengthAdjust="spacingAndGlyphs" >120&#176;</text>
<text x="742.00" y="392.00" font-size="20.91" text-anchor="end" fill="#ffffff" textLength="48.90" lengthAdjust="spacingAndGlyphs" >220&#176;</text>
<text x="793.50" y="485.50" font-size="20.91" text-anchor="start" fill="#ffffff" textLength="48.90" lengthAdjust="spacingAndGlyphs" >220&#176;</text>
<text x="859.50" y="485.50" font-size="20.91" text-anchor="start" fill="#ffffff" textLength="48.90" lengthAdjust="spacingAndGlyphs" >120&#176;</text>
<text x="919.50" y="485.50" font-size="20.91" text-anchor="start" fill="#333" textLength="23.07" lengthAdjust="spacingAndGlyphs" >0&#176;</text>
<rect x="671.0" y="84.0" width="434.5" height="447.0" fill="none" stroke="#333" stroke-width="2"/>
<rect x="706.2" y="523.0" width="2" height="8" fill="#333"/>
<rect x="706.2" y="84.0" width="2" height="8" fill="#333"/>
<text x="707.21" y="557.70" font-size="20.91" text-anchor="middle" fill="#3d3d3d" textLength="25.83" lengthAdjust="spacingAndGlyphs" >40</text>
<rect x="742.4" y="526.0" width="2" height="5" fill="#333"/>
<rect x="742.4" y="84.0" width="2" height="5" fill="#333"/>
<rect x="778.6" y="523.0" width="2" height="8" fill="#333"/>
<rect x="778.6" y="84.0" width="2" height="8" fill="#333"/>
<text x="779.62" y="557.70" font-size="20.91" text-anchor="middle" fill="#3d3d3d" textLength="25.83" lengthAdjust="spacingAndGlyphs" >60</text>
<rect x="814.8" y="526.0" width="2" height="5" fill="#333"/>
<rect x="814.8" y="84.0" width="2" height="5" fill="#333"/>
<rect x="851.0" y="523.0" width="2" height="8" fill="#333"/>
<rect x="851.0" y="84.0" width="2" height="8" fill="#333"/>
<text x="852.04" y="557.70" font-size="20.91" text-anchor="middle" fill="#3d3d3d" textLength="25.83" lengthAdjust="spacingAndGlyphs" >80</text>
<rect x="887.2" y="526.0" width="2" height="5" fill="#333"/>
<rect x="887.2" y="84.0" width="2" height="5" fill="#333"/>
<rect x="923.5" y="523.0" width="2" height="8" fill="#333"/>
<rect x="923.5" y="84.0" width="2" height="8" fill="#333"/>
<text x="924.46" y="557.70" font-size="20.91" text-anchor="middle" fill="#3d3d3d" textLength="38.75" lengthAdjust="spacingAndGlyphs" >100</text>
<rect x="959.7" y="526.0" width="2" height="5" fill="#333"/>
<rect x="959.7" y="84.0" width="2" height="5" fill="#333"/>
<rect x="995.9" y="523.0" width="2" height="8" fill="#333"/>
<rect x="995.9" y="84.0" width="2" height="8" fill="#333"/>
<text x="996.88" y="557.70" font-size="20.91" text-anchor="middle" fill="#3d3d3d" textLength="38.75" lengthAdjust="spacingAndGlyphs" >120</text>
<rect x="1032.1" y="526.0" width="2" height="5" fill="#333"/>
<rect x="1032.1" y="84.0" width="2" height="5" fill="#333"/>
<rect x="1068.3" y="523.0" width="2" height="8" fill="#333"/>
<rect x="1068.3" y="84.0" width="2" height="8" fill="#333"/>
<text x="1069.29" y="557.70" font-size="20.91" text-anchor="middle" fill="#3d3d3d" textLength="38.75" lengthAdjust="spacingAndGlyphs" >140</text>
<rect x="671.0" y="492.8" width="8" height="2" fill="#333"/>
<rect x="1097.5" y="492.8" width="8" height="2" fill="#333"/>
<text x="661.70" y="501.85" font-size="20.91" text-anchor="end" fill="#3d3d3d" textLength="25.83" lengthAdjust="spacingAndGlyphs" >40</text>
<rect x="671.0" y="455.5" width="5" height="2" fill="#333"/>
<rect x="1100.5" y="455.5" width="5" height="2" fill="#333"/>
<rect x="671.0" y="418.2" width="8" height="2" fill="#333"/>
<rect x="1097.5" y="418.2" width="8" height="2" fill="#333"/>
<text x="661.70" y="427.35" font-size="20.91" text-anchor="end" fill="#3d3d3d" textLength="25.83" lengthAdjust="spacingAndGlyphs" >60</text>
<rect x="671.0" y="381.0" width="5" height="2" fill="#333"/>
<rect x="1100.5" y="381.0" width="5" height="2" fill="#333"/>
<rect x="671.0" y="343.8" width="8" height="2" fill="#333"/>
<rect x="1097.5" y="343.8" width="8" height="2" fill="#333"/>
<text x="661.70" y="352.85" font-size="20.91" text-anchor="end" fill="#3d3d3d" textLength="25.83" lengthAdjust="spacingAndGlyphs" >80</text>
<rect x="671.0" y="306.5" width="5" height="2" fill="#333"/>
<rect x="1100.5" y="306.5" width="5" height="2" fill="#333"/>
<rect x="671.0" y="269.2" width="8" height="2" fill="#333"/>
<rect x="1097.5" y="269.2" width="8" height="2" fill="#333"/>
<text x="661.70" y="278.35" font-size="20.91" text-anchor="end" fill="#3d3d3d" textLength="38.75" lengthAdjust="spacingAndGlyphs" >100</text>
<rect x="671.0" y="232.0" width="5" height="2" fill="#333"/>
<rect x="1100.5" y="232.0" width="5" height="2" fill="#333"/>
<rect x="671.0" y="194.8" width="8" height="2" fill="#333"/>
<rect x="1097.5" y="194.8" width="8" height="2" fill="#333"/>
<text x="661.70" y="203.85" font-size="20.91" text-anchor="end" fill="#3d3d3d" textLength="38.75" lengthAdjust="spacingAndGlyphs" >120</text>
<rect x="671.0" y="157.5" width="5" height="2" fill="#333"/>
<rect x="1100.5" y="157.5" width="5" height="2" fill="#333"/>
<rect x="671.0" y="120.2" width="8" height="2" fill="#333"/>
<rect x="1097.5" y="120.2" width="8" height="2" fill="#333"/>
<text x="661.70" y="129.35" font-size="20.91" text-anchor="end" fill="#3d3d3d" textLength="38.75" lengthAdjust="spacingAndGlyphs" >140</text>
<text x="889.60" y="588.30" font-size="20.91" text-anchor="middle" fill="#3d3d3d" textLength="124.96" lengthAdjust="spacingAndGlyphs" >Length (nm)</text>
<text x="0.00" y="0.00" font-size="20.50" text-anchor="middle" fill="#3d3d3d" textLength="111.67" lengthAdjust="spacingAndGlyphs" transform="translate(607.2,307) rotate(-90)">Width (nm)</text>
<text x="0.00" y="0.00" font-size="21.22" text-anchor="middle" fill="#3d3d3d" textLength="94.43" lengthAdjust="spacingAndGlyphs" transform="translate(1233.8,307.3) rotate(-90)">Phase (&#176;)</text>
<rect x="1122" y="84" width="30" height="447.5" fill="url(#cbb)" stroke="#333" stroke-width="2"/>
<rect x="1152" y="530.5" width="9" height="2" fill="#333"/>
<text x="1169.50" y="540.40" font-size="20.91" text-anchor="start" fill="#3d3d3d" textLength="12.92" lengthAdjust="spacingAndGlyphs" >0</text>
<rect x="1152" y="322.1" width="9" height="2" fill="#333"/>
<text x="1169.50" y="331.99" font-size="20.91" text-anchor="start" fill="#3d3d3d" textLength="38.75" lengthAdjust="spacingAndGlyphs" >180</text>
<rect x="1152" y="113.7" width="9" height="2" fill="#333"/>
<text x="1169.50" y="123.58" font-size="20.91" text-anchor="start" fill="#3d3d3d" textLength="38.75" lengthAdjust="spacingAndGlyphs" >360</text>
<g transform="translate(101.5,625.5)"><g clip-path="url(#cpc)">
<rect x="0" y="0" width="401.8" height="391.2" fill="#f05b21"/>
<path d="M177.8,90.5 Q169.8,160.5 177.8,230.5" fill="none" stroke="url(#bg0)" stroke-width="15" stroke-linecap="round" opacity="1.0" filter="url(#fb5)"/>
<path d="M156.8,80.5 Q144.8,160.5 156.8,240.5" fill="none" stroke="url(#bg1)" stroke-width="14" stroke-linecap="round" opacity="1.0" filter="url(#fb5)"/>
<path d="M134.5,70.5 Q116.5,160.5 134.5,250.5" fill="none" stroke="url(#bg2)" stroke-width="14" stroke-linecap="round" opacity="1.0" filter="url(#fb5)"/>
<path d="M117.5,58.5 Q95.5,160.5 117.5,262.5" fill="none" stroke="url(#bg3)" stroke-width="13" stroke-linecap="round" opacity="1.0" filter="url(#fb5)"/>
<path d="M97.2,48.5 Q73.2,160.5 97.2,272.5" fill="none" stroke="url(#bg4)" stroke-width="13" stroke-linecap="round" opacity="1.0" filter="url(#fb5)"/>
<path d="M77.5,38.5 Q51.5,160.5 77.5,282.5" fill="none" stroke="url(#bg5)" stroke-width="13" stroke-linecap="round" opacity="1.0" filter="url(#fb5)"/>
<path d="M57.5,28.5 Q29.5,160.5 57.5,292.5" fill="none" stroke="url(#bg6)" stroke-width="13" stroke-linecap="round" opacity="1.0" filter="url(#fb5)"/>
<path d="M36.8,20.5 Q6.8,160.5 36.8,300.5" fill="none" stroke="url(#bg7)" stroke-width="13" stroke-linecap="round" opacity="1.0" filter="url(#fb5)"/>
<path d="M178.0,109.5 Q172.0,159.5 178.0,209.5" fill="none" stroke="url(#bg8)" stroke-width="9" stroke-linecap="round" opacity="1.0" filter="url(#fb3)"/>
<path d="M293.0,103.5 Q303.0,159.5 293.0,215.5" fill="none" stroke="url(#bg9)" stroke-width="12" stroke-linecap="round" opacity="1.0" filter="url(#fb5)"/>
<path d="M306.0,101.5 Q326.0,157.5 306.0,213.5" fill="none" stroke="url(#bg10)" stroke-width="12" stroke-linecap="round" opacity="1.0" filter="url(#fb5)"/>
<path d="M318.0,91.5 Q350.0,159.5 318.0,227.5" fill="none" stroke="url(#bg11)" stroke-width="12" stroke-linecap="round" opacity="1.0" filter="url(#fb5)"/>
<path d="M333.0,81.5 Q377.0,159.5 333.0,237.5" fill="none" stroke="url(#bg12)" stroke-width="12" stroke-linecap="round" opacity="1.0" filter="url(#fb5)"/>
<path d="M348.0,71.5 Q404.0,159.5 348.0,247.5" fill="none" stroke="url(#bg13)" stroke-width="12" stroke-linecap="round" opacity="1.0" filter="url(#fb5)"/>
<path d="M218.8,98.0 Q266.8,88.0 314.8,98.0" fill="none" stroke="url(#bg14)" stroke-width="12" stroke-linecap="round" opacity="0.85" filter="url(#fb5)"/>
<path d="M194.8,85.0 Q266.8,65.0 338.8,85.0" fill="none" stroke="url(#bg15)" stroke-width="12" stroke-linecap="round" opacity="0.85" filter="url(#fb5)"/>
<path d="M174.8,72.0 Q266.8,40.0 358.8,72.0" fill="none" stroke="url(#bg16)" stroke-width="12" stroke-linecap="round" opacity="0.85" filter="url(#fb5)"/>
<path d="M218.8,222.0 Q266.8,232.0 314.8,222.0" fill="none" stroke="url(#bg17)" stroke-width="12" stroke-linecap="round" opacity="0.85" filter="url(#fb5)"/>
<path d="M194.8,235.0 Q266.8,255.0 338.8,235.0" fill="none" stroke="url(#bg18)" stroke-width="12" stroke-linecap="round" opacity="0.85" filter="url(#fb5)"/>
<path d="M174.8,248.0 Q266.8,280.0 358.8,248.0" fill="none" stroke="url(#bg19)" stroke-width="12" stroke-linecap="round" opacity="0.85" filter="url(#fb5)"/>
<ellipse cx="282" cy="96" rx="12" ry="8" fill="#e8202a" opacity="0.85" filter="url(#fb4)"/>
<ellipse cx="287" cy="219" rx="8" ry="7" fill="#de1f29" opacity="0.9" filter="url(#fb4)"/>
<ellipse cx="196" cy="237" rx="8" ry="6" fill="#ea2c28" opacity="0.7" filter="url(#fb4)"/>
<ellipse cx="178" cy="102" rx="10" ry="8" fill="#f48b1c" opacity="0.8" filter="url(#fb4)"/>
<ellipse cx="178" cy="220" rx="10" ry="8" fill="#f48b1c" opacity="0.8" filter="url(#fb4)"/>
<rect x="186.0" y="107.5" width="105.5" height="104.0" fill="url(#msc)" filter="url(#fb05)"/>
</g></g>
<g transform="translate(706.0,626.0)"><g clip-path="url(#cpd)">
<rect x="0" y="0" width="401.8" height="391.2" fill="#f05b21"/>
<path d="M165.8,219.3 Q235.8,227.3 305.8,219.3" fill="none" stroke="url(#bg20)" stroke-width="15" stroke-linecap="round" opacity="1.0" filter="url(#fb5)"/>
<path d="M153.8,237.5 Q235.8,249.5 317.8,237.5" fill="none" stroke="url(#bg21)" stroke-width="14" stroke-linecap="round" opacity="1.0" filter="url(#fb5)"/>
<path d="M140.8,257.2 Q235.8,273.2 330.8,257.2" fill="none" stroke="url(#bg22)" stroke-width="13" stroke-linecap="round" opacity="1.0" filter="url(#fb5)"/>
<path d="M135.8,275.7 Q235.8,295.7 335.8,275.7" fill="none" stroke="url(#bg23)" stroke-width="13" stroke-linecap="round" opacity="1.0" filter="url(#fb5)"/>
<path d="M125.8,293.5 Q235.8,317.5 345.8,293.5" fill="none" stroke="url(#bg24)" stroke-width="12" stroke-linecap="round" opacity="1.0" filter="url(#fb5)"/>
<path d="M120.8,313.5 Q235.8,341.5 350.8,313.5" fill="none" stroke="url(#bg25)" stroke-width="12" stroke-linecap="round" opacity="1.0" filter="url(#fb5)"/>
<path d="M117.8,332.2 Q235.8,364.2 353.8,332.2" fill="none" stroke="url(#bg26)" stroke-width="12" stroke-linecap="round" opacity="1.0" filter="url(#fb5)"/>
<path d="M115.8,352.0 Q235.8,388.0 355.8,352.0" fill="none" stroke="url(#bg27)" stroke-width="12" stroke-linecap="round" opacity="1.0" filter="url(#fb5)"/>
<path d="M182.8,221.0 Q238.8,227.0 294.8,221.0" fill="none" stroke="url(#bg28)" stroke-width="10" stroke-linecap="round" opacity="1.0" filter="url(#fb3)"/>
<path d="M175.8,102.0 Q235.8,90.0 295.8,102.0" fill="none" stroke="url(#bg29)" stroke-width="12" stroke-linecap="round" opacity="0.8" filter="url(#fb5)"/>
<path d="M163.8,90.0 Q235.8,62.0 307.8,90.0" fill="none" stroke="url(#bg30)" stroke-width="12" stroke-linecap="round" opacity="0.8" filter="url(#fb5)"/>
<path d="M149.8,79.0 Q235.8,31.0 321.8,79.0" fill="none" stroke="url(#bg31)" stroke-width="12" stroke-linecap="round" opacity="0.8" filter="url(#fb5)"/>
<path d="M137.8,69.0 Q235.8,1.0 333.8,69.0" fill="none" stroke="url(#bg32)" stroke-width="12" stroke-linecap="round" opacity="0.8" filter="url(#fb5)"/>
<path d="M178.0,103.5 Q162.0,169.5 178.0,235.5" fill="none" stroke="url(#bg33)" stroke-width="12" stroke-linecap="round" opacity="0.8" filter="url(#fb5)"/>
<path d="M164.0,87.5 Q132.0,169.5 164.0,251.5" fill="none" stroke="url(#bg34)" stroke-width="12" stroke-linecap="round" opacity="0.8" filter="url(#fb5)"/>
<path d="M152.0,73.5 Q100.0,169.5 152.0,265.5" fill="none" stroke="url(#bg35)" stroke-width="12" stroke-linecap="round" opacity="0.8" filter="url(#fb5)"/>
<path d="M299.0,103.5 Q315.0,169.5 299.0,235.5" fill="none" stroke="url(#bg36)" stroke-width="12" stroke-linecap="round" opacity="0.8" filter="url(#fb5)"/>
<path d="M313.0,87.5 Q345.0,169.5 313.0,251.5" fill="none" stroke="url(#bg37)" stroke-width="12" stroke-linecap="round" opacity="0.8" filter="url(#fb5)"/>
<path d="M325.0,73.5 Q377.0,169.5 325.0,265.5" fill="none" stroke="url(#bg38)" stroke-width="12" stroke-linecap="round" opacity="0.8" filter="url(#fb5)"/>
<ellipse cx="178" cy="113" rx="10" ry="9" fill="#e3202a" opacity="0.9" filter="url(#fb4)"/>
<ellipse cx="298" cy="113" rx="10" ry="9" fill="#e92429" opacity="0.8" filter="url(#fb4)"/>
<rect x="186.0" y="107.5" width="105.5" height="104.0" fill="url(#msd)" filter="url(#fb05)"/>
</g></g>
<g transform="translate(101.5,1107.3)"><g clip-path="url(#cpe)">
<rect x="0" y="0" width="401.8" height="391.2" fill="#0c0b09"/>
<path d="M155.8,87.5 Q145.8,162.5 155.8,237.5" fill="none" stroke="url(#bg39)" stroke-width="12" stroke-linecap="round" opacity="1.0" filter="url(#fb3)"/>
<path d="M135.3,78.5 Q123.3,162.5 135.3,246.5" fill="none" stroke="url(#bg40)" stroke-width="11" stroke-linecap="round" opacity="1.0" filter="url(#fb3)"/>
<path d="M114.7,72.5 Q100.7,162.5 114.7,252.5" fill="none" stroke="url(#bg41)" stroke-width="11" stroke-linecap="round" opacity="1.0" filter="url(#fb3)"/>
<path d="M94.2,67.5 Q78.2,162.5 94.2,257.5" fill="none" stroke="url(#bg42)" stroke-width="10" stroke-linecap="round" opacity="1.0" filter="url(#fb3)"/>
<path d="M74.5,62.5 Q56.5,162.5 74.5,262.5" fill="none" stroke="url(#bg43)" stroke-width="10" stroke-linecap="round" opacity="1.0" filter="url(#fb3)"/>
<path d="M53.2,62.5 Q33.2,162.5 53.2,262.5" fill="none" stroke="url(#bg44)" stroke-width="10" stroke-linecap="round" opacity="1.0" filter="url(#fb3)"/>
<path d="M32.5,62.5 Q10.5,162.5 32.5,262.5" fill="none" stroke="url(#bg45)" stroke-width="10" stroke-linecap="round" opacity="1.0" filter="url(#fb3)"/>
<path d="M178.2,97.5 Q170.2,161.5 178.2,225.5" fill="none" stroke="url(#bg46)" stroke-width="13" stroke-linecap="round" opacity="1.0" filter="url(#fb3)"/>
<path d="M177.7,109.5 Q170.7,161.5 177.7,213.5" fill="none" stroke="url(#bg47)" stroke-width="9" stroke-linecap="round" opacity="1.0" filter="url(#fb2)"/>
<path d="M176.5,132.5 Q171.5,162.5 176.5,192.5" fill="none" stroke="url(#bg48)" stroke-width="5" stroke-linecap="round" opacity="1.0" filter="url(#fb2)"/>
<ellipse cx="296" cy="114" rx="6" ry="9" fill="#480e0e" opacity="0.9" filter="url(#fb3)"/>
<ellipse cx="298" cy="152" rx="6" ry="8" fill="#480e0e" opacity="0.9" filter="url(#fb3)"/>
<ellipse cx="298" cy="189" rx="6" ry="8" fill="#480e0e" opacity="0.9" filter="url(#fb3)"/>
<ellipse cx="288" cy="220" rx="6" ry="6" fill="#420f0f" opacity="0.9" filter="url(#fb3)"/>
<ellipse cx="190" cy="238" rx="8" ry="5" fill="#2a100f" opacity="0.9" filter="url(#fb3)"/>
<ellipse cx="225" cy="237" rx="6" ry="4" fill="#200f0e" opacity="0.9" filter="url(#fb3)"/>
<ellipse cx="260" cy="238" rx="6" ry="4" fill="#200f0e" opacity="0.9" filter="url(#fb3)"/>
<rect x="186.0" y="107.5" width="105.5" height="104.0" fill="url(#mse)" filter="url(#fb05)"/>
</g></g>
<g transform="translate(706.0,1107.5)"><g clip-path="url(#cpf)">
<rect x="0" y="0" width="401.8" height="391.2" fill="#0c0b09"/>
<path d="M144.8,239.0 Q236.8,251.0 328.8,239.0" fill="none" stroke="url(#bg49)" stroke-width="14" stroke-linecap="round" opacity="1.0" filter="url(#fb4)"/>
<path d="M169.8,241.5 Q235.8,247.5 301.8,241.5" fill="none" stroke="url(#bg50)" stroke-width="12" stroke-linecap="round" opacity="1.0" filter="url(#fb3)"/>
<path d="M189.8,263.5 Q235.8,269.5 281.8,263.5" fill="none" stroke="url(#bg51)" stroke-width="10" stroke-linecap="round" opacity="1.0" filter="url(#fb3)"/>
<path d="M197.8,284.5 Q235.8,290.5 273.8,284.5" fill="none" stroke="url(#bg52)" stroke-width="10" stroke-linecap="round" opacity="1.0" filter="url(#fb3)"/>
<path d="M201.8,305.5 Q235.8,311.5 269.8,305.5" fill="none" stroke="url(#bg53)" stroke-width="9" stroke-linecap="round" opacity="1.0" filter="url(#fb3)"/>
<path d="M203.8,327.5 Q235.8,333.5 267.8,327.5" fill="none" stroke="url(#bg54)" stroke-width="9" stroke-linecap="round" opacity="1.0" filter="url(#fb3)"/>
<path d="M205.8,347.5 Q235.8,353.5 265.8,347.5" fill="none" stroke="url(#bg55)" stroke-width="9" stroke-linecap="round" opacity="1.0" filter="url(#fb3)"/>
<path d="M207.8,367.0 Q235.8,373.0 263.8,367.0" fill="none" stroke="url(#bg56)" stroke-width="9" stroke-linecap="round" opacity="1.0" filter="url(#fb3)"/>
<path d="M170.8,219.5 Q236.8,227.5 302.8,219.5" fill="none" stroke="url(#bg57)" stroke-width="13" stroke-linecap="round" opacity="1.0" filter="url(#fb3)"/>
<path d="M184.8,220.5 Q238.8,226.5 292.8,220.5" fill="none" stroke="url(#bg58)" stroke-width="9" stroke-linecap="round" opacity="1.0" filter="url(#fb2)"/>
<path d="M214.8,222.0 Q246.8,226.0 278.8,222.0" fill="none" stroke="url(#bg59)" stroke-width="5" stroke-linecap="round" opacity="1.0" filter="url(#fb2)"/>
<ellipse cx="176" cy="102" rx="7" ry="5" fill="#381010" opacity="0.9" filter="url(#fb3)"/>
<ellipse cx="200" cy="97" rx="8" ry="5" fill="#381010" opacity="0.9" filter="url(#fb3)"/>
<ellipse cx="238" cy="97" rx="8" ry="5" fill="#381010" opacity="0.9" filter="url(#fb3)"/>
<ellipse cx="275" cy="97" rx="8" ry="5" fill="#381010" opacity="0.9" filter="url(#fb3)"/>
<rect x="186.0" y="107.5" width="105.5" height="104.0" fill="url(#msf)" filter="url(#fb05)"/>
</g></g>
<g transform="translate(101.5,625.5)">
<rect x="22.3" y="17.9" width="81" height="7.6" fill="#fbf3ee"/>
<text x="23" y="46.6" font-size="23" fill="#fbf3ee">500 nm</text>
<text x="359.5" y="30.8" font-size="25" fill="#fbf3ee" font-style="italic">E</text>
<text x="376.5" y="40" font-size="15.5" fill="#fbf3ee">z</text>
<g transform="translate(0,0.0)">
<path d="M36.2,328 L36.2,355.7 L62,355.7" fill="none" stroke="#fbf3ee" stroke-width="3"/>
<path d="M36,319.4 L42.4,330.4 L29.6,330.4Z M72.3,355.8 L61.2,349.2 L61.2,362.2Z" fill="#fbf3ee"/>
<text x="17" y="350" font-size="23" fill="#fbf3ee" font-style="italic">y</text>
<text x="41.5" y="375" font-size="23" fill="#fbf3ee" font-style="italic">x</text>
<path d="M312,343.6 L374,343.6" stroke="#fbf3ee" stroke-width="3"/>
<path d="M303.9,343.6 L315,337.2 L315,350Z M383.2,343.6 L372.5,337.2 L372.5,350Z" fill="#fbf3ee"/>
<text x="314.2" y="363.5" font-size="23" fill="#fbf3ee"><tspan font-style="italic">x</tspan>-pol.</text>
</g>
</g>
<g transform="translate(706.0,626.0)">
<rect x="22.3" y="17.9" width="81" height="7.6" fill="#fbf3ee"/>
<text x="23" y="46.6" font-size="23" fill="#fbf3ee">500 nm</text>
<text x="359.5" y="30.8" font-size="25" fill="#fbf3ee" font-style="italic">E</text>
<text x="376.5" y="40" font-size="15.5" fill="#fbf3ee">z</text>
<g transform="translate(0,0.3)">
<path d="M36.2,328 L36.2,355.7 L62,355.7" fill="none" stroke="#fbf3ee" stroke-width="3"/>
<path d="M36,319.4 L42.4,330.4 L29.6,330.4Z M72.3,355.8 L61.2,349.2 L61.2,362.2Z" fill="#fbf3ee"/>
<text x="17" y="350" font-size="23" fill="#fbf3ee" font-style="italic">y</text>
<text x="41.5" y="375" font-size="23" fill="#fbf3ee" font-style="italic">x</text>
<path d="M376.1,308 L376.1,371" stroke="#fbf3ee" stroke-width="3"/>
<path d="M376.1,299.4 L382.6,310.5 L369.6,310.5Z M376.1,379.8 L382.6,368.3 L369.6,368.3Z" fill="#fbf3ee"/>
<text x="313.5" y="348.6" font-size="23" fill="#fbf3ee"><tspan font-style="italic">y</tspan>-pol.</text>
</g>
</g>
<g transform="translate(101.5,1107.3)">
<rect x="22.3" y="22.3" width="81" height="7.9" fill="#ececec"/>
<text x="23" y="51.0" font-size="23" fill="#ececec" stroke="#ececec" stroke-width="0.45">500 nm</text>
<text x="346" y="40.8" font-size="25" fill="#ececec" font-style="italic" stroke="#ececec" stroke-width="0.45">E</text>
<text x="362.5" y="50.2" font-size="15.5" fill="#ececec" stroke="#ececec" stroke-width="0.45">z</text>
<text x="370.5" y="24.3" font-size="17" fill="#ececec" stroke="#ececec" stroke-width="0.45">2</text>
<g transform="translate(0,-2.2)">
<path d="M36.2,328 L36.2,355.7 L62,355.7" fill="none" stroke="#ececec" stroke-width="3"/>
<path d="M36,319.4 L42.4,330.4 L29.6,330.4Z M72.3,355.8 L61.2,349.2 L61.2,362.2Z" fill="#ececec"/>
<text x="17" y="350" font-size="23" fill="#ececec" font-style="italic" stroke="#ececec" stroke-width="0.45">y</text>
<text x="41.5" y="375" font-size="23" fill="#ececec" font-style="italic" stroke="#ececec" stroke-width="0.45">x</text>
<path d="M312,343.6 L374,343.6" stroke="#ececec" stroke-width="3"/>
<path d="M303.9,343.6 L315,337.2 L315,350Z M383.2,343.6 L372.5,337.2 L372.5,350Z" fill="#ececec"/>
<text x="314.2" y="363.5" font-size="23" fill="#ececec" stroke="#ececec" stroke-width="0.45"><tspan font-style="italic">x</tspan>-pol.</text>
</g>
</g>
<g transform="translate(706.0,1107.5)">
<rect x="22.3" y="22.2" width="81" height="7.9" fill="#ececec"/>
<text x="23" y="50.9" font-size="23" fill="#ececec" stroke="#ececec" stroke-width="0.45">500 nm</text>
<text x="346" y="40.8" font-size="25" fill="#ececec" font-style="italic" stroke="#ececec" stroke-width="0.45">E</text>
<text x="362.5" y="50.2" font-size="15.5" fill="#ececec" stroke="#ececec" stroke-width="0.45">z</text>
<text x="370.5" y="24.3" font-size="17" fill="#ececec" stroke="#ececec" stroke-width="0.45">2</text>
<g transform="translate(0,0.6)">
<path d="M36.2,328 L36.2,355.7 L62,355.7" fill="none" stroke="#ececec" stroke-width="3"/>
<path d="M36,319.4 L42.4,330.4 L29.6,330.4Z M72.3,355.8 L61.2,349.2 L61.2,362.2Z" fill="#ececec"/>
<text x="17" y="350" font-size="23" fill="#ececec" font-style="italic" stroke="#ececec" stroke-width="0.45">y</text>
<text x="41.5" y="375" font-size="23" fill="#ececec" font-style="italic" stroke="#ececec" stroke-width="0.45">x</text>
<path d="M376.1,308 L376.1,371" stroke="#ececec" stroke-width="3"/>
<path d="M376.1,299.4 L382.6,310.5 L369.6,310.5Z M376.1,379.8 L382.6,368.3 L369.6,368.3Z" fill="#ececec"/>
<text x="313.5" y="348.6" font-size="23" fill="#ececec" stroke="#ececec" stroke-width="0.45"><tspan font-style="italic">y</tspan>-pol.</text>
</g>
</g>
<rect x="1122.7" y="626.0" width="20.799999999999955" height="390.6" fill="url(#cb1122626)" stroke="#333" stroke-width="1.8"/>
<rect x="1143.5" y="625.1" width="8.7" height="1.8" fill="#333"/>
<text x="1177.30" y="633.10" font-size="20.91" text-anchor="middle" fill="#3d3d3d" textLength="12.92" lengthAdjust="spacingAndGlyphs" >8</text>
<rect x="1143.5" y="673.9" width="8.7" height="1.8" fill="#333"/>
<text x="1177.30" y="681.33" font-size="20.91" text-anchor="middle" fill="#3d3d3d" textLength="12.92" lengthAdjust="spacingAndGlyphs" >6</text>
<rect x="1143.5" y="722.8" width="8.7" height="1.8" fill="#333"/>
<text x="1177.30" y="731.15" font-size="20.91" text-anchor="middle" fill="#3d3d3d" textLength="12.92" lengthAdjust="spacingAndGlyphs" >4</text>
<rect x="1143.5" y="771.6" width="8.7" height="1.8" fill="#333"/>
<text x="1177.30" y="783.98" font-size="20.91" text-anchor="middle" fill="#3d3d3d" textLength="12.92" lengthAdjust="spacingAndGlyphs" >2</text>
<rect x="1143.5" y="820.4" width="8.7" height="1.8" fill="#333"/>
<text x="1177.30" y="838.00" font-size="20.91" text-anchor="middle" fill="#3d3d3d" textLength="12.92" lengthAdjust="spacingAndGlyphs" >0</text>
<rect x="1143.5" y="869.2" width="8.7" height="1.8" fill="#333"/>
<text x="1177.30" y="881.23" font-size="20.91" text-anchor="middle" fill="#3d3d3d" textLength="29.93" lengthAdjust="spacingAndGlyphs" >&#8722;2</text>
<rect x="1143.5" y="918.1" width="8.7" height="1.8" fill="#333"/>
<text x="1177.30" y="927.15" font-size="20.91" text-anchor="middle" fill="#3d3d3d" textLength="29.93" lengthAdjust="spacingAndGlyphs" >&#8722;4</text>
<rect x="1143.5" y="966.9" width="8.7" height="1.8" fill="#333"/>
<text x="1177.30" y="981.47" font-size="20.91" text-anchor="middle" fill="#3d3d3d" textLength="29.93" lengthAdjust="spacingAndGlyphs" >&#8722;6</text>
<rect x="1143.5" y="1015.7" width="8.7" height="1.8" fill="#333"/>
<text x="1177.30" y="1022.60" font-size="20.91" text-anchor="middle" fill="#3d3d3d" textLength="29.93" lengthAdjust="spacingAndGlyphs" >&#8722;8</text>
<rect x="1124.7" y="1107.6" width="19.700000000000045" height="391.0" fill="url(#cb11241107)" stroke="#333" stroke-width="1.8"/>
<rect x="1144.4" y="1106.7" width="8.7" height="1.8" fill="#333"/>
<text x="1185.60" y="1114.70" font-size="20.91" text-anchor="middle" fill="#3d3d3d" textLength="25.83" lengthAdjust="spacingAndGlyphs" >20</text>
<rect x="1144.4" y="1155.6" width="8.7" height="1.8" fill="#333"/>
<text x="1185.60" y="1166.47" font-size="20.91" text-anchor="middle" fill="#3d3d3d" textLength="45.20" lengthAdjust="spacingAndGlyphs" >17.5</text>
<rect x="1144.4" y="1204.4" width="8.7" height="1.8" fill="#333"/>
<text x="1185.60" y="1212.75" font-size="20.91" text-anchor="middle" fill="#3d3d3d" textLength="25.83" lengthAdjust="spacingAndGlyphs" >15</text>
<rect x="1144.4" y="1253.3" width="8.7" height="1.8" fill="#333"/>
<text x="1185.60" y="1269.53" font-size="20.91" text-anchor="middle" fill="#3d3d3d" textLength="45.20" lengthAdjust="spacingAndGlyphs" >12.5</text>
<rect x="1144.4" y="1302.2" width="8.7" height="1.8" fill="#333"/>
<text x="1185.60" y="1316.40" font-size="20.91" text-anchor="middle" fill="#3d3d3d" textLength="25.83" lengthAdjust="spacingAndGlyphs" >10</text>
<rect x="1144.4" y="1351.1" width="8.7" height="1.8" fill="#333"/>
<text x="1185.60" y="1358.97" font-size="20.91" text-anchor="middle" fill="#3d3d3d" textLength="32.28" lengthAdjust="spacingAndGlyphs" >7.5</text>
<rect x="1144.4" y="1399.9" width="8.7" height="1.8" fill="#333"/>
<text x="1185.60" y="1411.35" font-size="20.91" text-anchor="middle" fill="#3d3d3d" textLength="12.92" lengthAdjust="spacingAndGlyphs" >5</text>
<rect x="1144.4" y="1448.8" width="8.7" height="1.8" fill="#333"/>
<text x="1185.60" y="1460.72" font-size="20.91" text-anchor="middle" fill="#3d3d3d" textLength="32.28" lengthAdjust="spacingAndGlyphs" >2.5</text>
<rect x="1144.4" y="1497.7" width="8.7" height="1.8" fill="#333"/>
<text x="1185.60" y="1504.10" font-size="20.91" text-anchor="middle" fill="#3d3d3d" textLength="12.92" lengthAdjust="spacingAndGlyphs" >0</text>
<circle cx="577.4" cy="692.3" r="1.3" fill="#4a4a4a"/>
</svg></div></body></html>
